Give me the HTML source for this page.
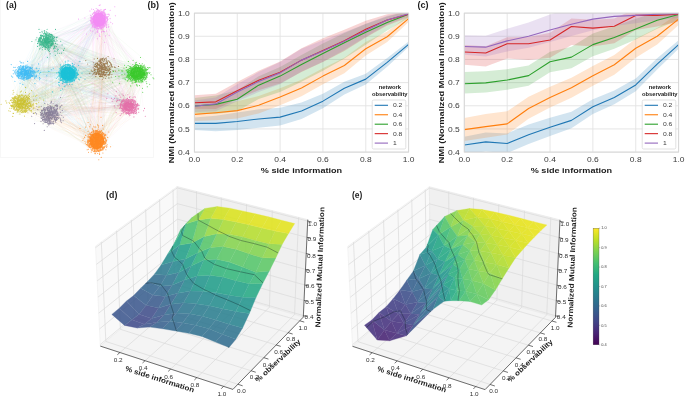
<!DOCTYPE html><html><head><meta charset="utf-8"><style>html,body{margin:0;padding:0;background:#fff}svg{display:block;will-change:transform}text{font-family:"Liberation Sans",sans-serif}</style></head><body>
<svg width="685" height="397" viewBox="0 0 685 397">
<rect width="685" height="397" fill="#fff"/>
<rect x="0.5" y="-1" width="153" height="158.5" fill="none" stroke="#f5f5f5" stroke-width="0.8"/>
<path d="M99.2 26.5L52.0 38.3M102.6 10.2L53.5 40.1M103.0 18.6L45.8 43.4M89.8 15.4L44.4 35.4M95.4 21.6L49.7 39.2M100.7 20.9L51.4 35.0M101.5 15.8L52.7 44.0M101.9 22.7L38.5 42.0M100.6 15.1L49.2 40.1M98.1 22.8L52.2 48.1M94.2 26.0L40.8 42.9M100.2 27.3L55.6 32.9M95.4 21.1L24.4 71.7M97.9 13.0L21.9 77.1M109.1 19.9L22.1 67.0M101.9 15.4L23.1 71.2M97.0 21.3L13.3 67.0M105.3 23.7L29.8 72.1M96.4 19.1L25.8 71.2M101.8 16.3L20.7 80.1M100.8 21.9L27.4 74.6M95.4 20.2L22.0 74.9M96.9 18.8L21.9 74.0M95.3 15.9L23.5 70.4M105.3 19.8L61.8 73.7M101.6 12.2L69.6 78.8M100.6 19.0L71.3 68.9M107.1 24.5L65.3 77.3M99.9 14.3L64.3 66.1M98.9 25.2L66.6 63.9M101.7 15.2L60.2 72.6M97.0 23.2L73.0 77.4M102.9 16.4L71.2 80.2M101.4 19.5L61.7 80.0M89.9 16.1L69.4 77.0M104.6 20.4L69.6 76.5M97.6 21.3L100.6 69.2M96.5 11.5L101.9 65.9M92.9 21.3L101.4 68.8M106.8 16.0L103.9 82.4M103.1 20.3L99.2 68.9M94.8 22.8L102.1 77.5M100.6 26.2L105.7 66.0M96.3 16.4L89.0 72.9M100.8 7.0L101.8 70.5M88.5 22.5L103.1 72.6M96.9 21.4L105.3 67.2M96.4 16.6L111.7 67.3M99.6 20.9L141.1 67.1M101.1 16.8L140.1 70.9M100.8 15.8L140.7 72.4M98.8 16.9L146.0 78.3M97.7 24.4L138.2 66.0M92.9 20.2L137.2 65.1M95.7 17.1L136.6 66.2M91.7 17.8L143.0 64.8M96.8 15.8L140.2 71.6M98.1 22.5L126.7 73.3M98.1 6.8L141.7 81.5M103.5 26.5L138.9 73.1M93.0 24.7L18.6 93.3M104.0 15.8L23.0 100.7M93.0 25.5L25.2 102.1M100.7 21.1L16.7 107.4M98.5 22.0L20.8 107.7M92.4 22.7L28.3 109.1M94.5 25.3L22.1 103.6M101.4 21.3L24.3 109.1M96.4 24.8L27.3 109.1M100.6 26.4L18.9 100.6M101.7 11.4L16.1 104.5M98.1 14.4L22.4 112.2M97.8 14.6L53.5 109.2M106.5 15.6L54.6 106.0M86.4 21.6L61.1 112.0M106.9 13.3L52.5 116.7M107.3 19.9L48.9 122.5M103.3 12.5L41.8 120.6M92.9 27.9L44.6 114.4M98.0 22.3L52.1 112.7M95.9 19.5L51.5 126.3M90.6 13.5L49.1 127.2M87.9 24.8L50.6 108.5M95.3 13.9L53.9 109.5M96.9 15.0L130.2 98.5M107.2 18.0L123.3 112.4M95.7 18.0L136.8 108.2M103.2 17.7L129.5 116.8M93.7 23.0L124.5 104.4M96.2 25.5L125.4 104.1M98.3 12.4L131.3 109.4M93.9 26.9L129.9 104.1M99.4 18.9L128.1 104.3M96.1 15.9L132.7 108.1M99.6 20.8L127.4 105.4M96.3 26.4L130.1 106.7M94.7 26.6L90.8 136.6M94.0 10.1L90.4 134.5M110.9 15.3L90.1 148.4M104.4 18.0L92.5 140.8M109.4 28.9L101.8 140.2M92.6 16.0L94.9 144.4M98.4 25.6L91.9 124.4M103.2 22.2L99.2 137.9M99.7 24.5L100.2 144.0M108.4 19.9L98.2 147.3M93.2 25.3L95.5 130.7M94.6 25.1L89.0 142.6" stroke="#f38af4" stroke-opacity="0.085" stroke-width="0.4" fill="none"/>
<path d="M97.6 16.9L49.1 40.3M102.3 18.9L44.8 42.5M94.8 11.9L48.3 37.7M91.8 19.8L50.5 39.5M101.6 24.9L45.6 37.0M95.8 15.3L38.7 41.0M102.0 21.6L50.8 34.8M97.8 23.6L44.5 40.4M101.4 16.9L51.4 43.1M91.4 24.1L48.6 40.1M105.2 11.4L45.1 34.9M96.2 23.2L53.6 42.3M46.9 40.3L30.5 70.0M56.2 37.8L25.9 73.6M39.8 40.6L18.1 73.4M49.2 41.8L31.9 69.0M56.2 34.9L37.6 78.5M44.4 41.2L17.4 74.3M52.5 36.2L29.2 66.5M36.7 35.8L24.9 74.9M43.7 37.1L29.0 76.2M40.1 44.3L25.0 70.7M49.8 35.2L22.5 76.4M52.4 44.4L23.6 76.0M43.2 45.9L66.7 76.8M38.0 49.7L67.3 75.0M47.4 38.8L70.7 74.7M48.5 42.2L57.3 59.9M45.8 35.5L63.4 74.5M47.1 36.3L66.1 76.4M38.0 26.6L80.2 78.0M34.0 39.1L72.6 74.4M40.4 41.7L75.6 73.4M53.6 47.0L65.7 67.8M40.0 41.3L68.1 74.2M47.5 37.6L70.1 73.1M45.8 40.1L104.1 67.7M45.0 43.3L104.9 70.6M41.9 41.5L101.2 65.1M49.8 42.8L112.8 72.9M40.4 40.5L102.1 66.6M43.8 36.2L101.6 69.0M42.1 38.7L99.7 68.7M42.4 37.9L103.6 70.2M47.8 42.2L104.5 62.6M32.5 39.5L104.8 74.3M50.7 34.6L107.2 70.8M45.9 39.4L104.2 65.7M44.3 42.7L137.7 72.8M39.7 38.5L138.5 69.1M44.8 32.3L136.5 69.4M55.2 42.8L140.2 77.4M40.9 29.1L135.4 77.2M45.2 42.2L127.5 77.0M41.8 35.6L136.3 68.0M41.7 30.0L136.1 74.9M48.1 42.5L140.1 69.8M45.1 35.0L141.1 67.8M36.3 43.6L149.5 82.4M46.6 35.8L141.9 76.4M48.8 43.8L24.1 103.1M46.3 40.3L29.2 110.8M42.7 39.8L20.2 101.3M44.7 42.3L24.9 107.9M39.7 40.0L15.9 114.4M42.2 39.7L16.5 103.0M53.7 38.3L19.9 99.2M38.1 41.6L21.4 108.6M51.4 41.2L27.1 108.9M45.8 41.1L14.7 107.2M49.9 43.0L20.3 101.5M50.0 34.1L19.0 102.1M49.9 45.8L45.6 99.3M46.0 41.7L40.6 111.6M46.5 33.4L60.8 110.1M51.2 40.8L43.6 109.6M53.9 45.9L56.9 121.2M41.6 33.7L44.1 114.9M45.2 39.9L56.3 113.4M47.3 38.5L44.5 113.5M49.3 38.5L52.0 112.6M38.0 38.2L43.8 113.2M51.7 38.7L41.4 119.3M54.1 36.1L50.7 113.7M42.4 43.8L126.6 107.6M48.3 40.5L132.6 104.3M42.5 35.6L130.2 108.1M50.3 44.8L130.8 101.4M50.0 37.2L134.5 114.1M49.6 42.0L129.9 107.9M47.5 32.7L122.5 103.6M44.4 38.4L129.7 104.2M46.7 41.1L137.8 106.3M42.8 40.5L126.0 104.7M50.4 37.9L129.7 117.7M41.3 36.9L131.1 110.0M41.1 34.4L96.3 130.5M44.4 40.1L91.4 136.4M47.2 41.1L105.1 138.4M49.5 41.5L96.9 140.9M46.2 34.0L94.7 145.0M44.4 38.6L104.5 144.7M48.4 35.5L106.8 130.6M52.7 45.1L87.7 137.5M46.8 39.3L94.7 144.6M45.0 42.1L105.5 138.5M50.9 41.3L99.8 146.1M52.7 42.0L93.0 142.9" stroke="#1fae7d" stroke-opacity="0.085" stroke-width="0.4" fill="none"/>
<path d="M95.5 21.6L26.1 72.1M98.1 12.3L31.5 74.5M105.4 32.7L20.2 70.0M99.9 25.2L24.6 76.0M102.8 16.6L27.5 74.6M95.6 15.9L21.9 68.2M89.8 19.2L25.7 76.6M102.6 28.9L35.7 69.4M100.0 20.5L16.6 71.9M102.9 21.2L26.2 72.9M99.1 22.6L17.5 75.9M100.4 16.7L18.9 69.3M48.9 40.1L25.8 71.5M49.3 42.5L26.8 76.3M41.2 36.5L24.2 77.9M37.1 38.8L23.1 77.2M50.3 42.1L37.3 72.9M46.1 42.0L26.5 68.5M48.2 37.1L24.8 70.1M40.0 31.5L20.0 71.8M49.9 36.6L25.0 71.8M52.9 43.8L29.1 77.1M43.1 40.7L26.7 78.0M48.9 39.9L31.7 74.4M23.6 72.0L73.6 67.6M27.2 72.3L66.9 74.1M16.7 70.7L75.8 73.5M17.6 75.2L65.7 76.5M16.3 76.0L66.9 74.8M20.0 70.8L59.9 70.6M21.1 72.2L69.4 72.6M29.5 68.4L59.1 68.3M16.2 71.4L77.1 68.9M22.4 72.9L69.3 79.4M27.2 68.7L63.6 75.5M23.7 71.0L68.3 78.9M19.3 73.3L98.2 67.1M19.1 74.2L104.4 65.7M18.6 71.6L100.9 71.5M18.3 76.2L93.9 69.2M16.0 77.2L103.7 63.1M30.2 79.6L97.8 68.8M27.4 66.5L104.6 68.3M27.2 72.7L100.6 60.2M22.2 78.5L106.2 63.1M30.6 74.4L101.6 59.5M29.9 72.7L98.9 53.4M31.4 72.2L96.8 79.2M27.4 73.6L146.3 78.5M23.9 67.5L136.4 71.4M31.6 65.3L132.9 73.2M25.8 73.9L130.0 73.3M23.0 76.1L139.6 68.2M26.7 77.6L138.7 79.1M30.0 72.0L134.3 73.1M21.0 73.8L140.2 73.7M31.4 73.8L127.5 73.8M23.7 76.0L135.9 74.3M22.4 71.7L134.7 72.8M33.4 76.5L145.3 79.7M27.8 66.7L9.3 97.3M16.7 63.8L22.0 109.2M23.8 74.6L27.4 104.3M27.5 79.8L22.3 109.5M27.0 74.3L29.4 109.4M39.4 74.9L24.5 104.5M22.9 73.4L21.3 95.6M25.0 73.7L25.8 99.8M21.2 72.0L24.0 102.7M20.3 73.1L19.8 100.8M22.8 76.2L13.4 104.6M33.8 71.0L12.2 98.1M26.2 74.7L55.1 113.6M20.7 73.1L46.2 115.0M33.6 61.8L44.5 101.6M20.2 79.4L51.5 113.9M25.8 73.5L45.8 121.4M25.0 71.0L50.0 112.3M28.4 72.7L63.5 108.1M17.1 76.9L45.2 114.1M23.5 73.6L45.0 114.5M29.3 68.8L49.6 114.0M16.6 76.3L53.5 117.0M25.9 73.1L44.1 122.6M26.3 74.5L129.3 103.0M29.0 75.4L136.0 103.7M30.5 73.2L130.1 105.4M22.7 73.2L126.5 105.6M26.6 65.6L141.2 107.4M23.1 73.8L135.9 105.6M37.3 73.7L128.9 108.3M23.9 74.2L131.6 109.6M23.8 76.9L119.8 108.6M26.9 79.0L136.9 103.0M24.9 73.7L131.3 109.0M31.2 70.4L128.2 104.5M29.2 70.4L104.1 140.3M23.2 78.1L91.7 136.1M26.7 75.1L100.1 143.6M29.6 71.2L98.0 143.4M22.1 74.4L99.3 141.4M23.2 71.6L92.4 136.1M21.0 73.6L89.8 145.6M21.4 77.7L113.5 146.2M22.8 74.2L96.4 144.8M31.9 68.7L93.5 149.5M18.0 67.4L99.2 148.4M17.7 81.2L100.1 139.1" stroke="#2cb5f5" stroke-opacity="0.085" stroke-width="0.4" fill="none"/>
<path d="M91.5 28.7L59.9 76.2M101.2 20.9L73.0 74.5M102.8 17.0L62.2 75.6M96.8 19.0L68.5 61.8M91.7 14.8L72.4 82.3M99.7 21.9L65.7 75.3M98.0 17.8L73.2 82.6M104.0 17.6L71.9 84.1M100.8 16.7L76.2 67.3M100.7 13.6L71.2 71.5M99.8 19.8L70.5 72.6M93.9 16.0L76.1 75.4M39.7 40.5L63.0 68.8M51.5 40.0L70.8 66.8M40.3 32.7L62.7 77.5M43.7 39.1L64.8 75.6M46.8 40.2L80.0 72.4M49.1 39.8L70.1 74.0M46.2 33.1L61.2 80.7M49.9 39.9L80.7 68.4M51.2 38.2L61.7 80.9M41.2 39.5L71.1 76.3M46.4 39.6L71.1 74.4M37.0 42.6L66.6 78.5M22.2 74.8L61.2 65.2M19.1 83.3L62.4 71.1M27.3 70.4L77.3 74.2M24.9 73.3L68.4 68.7M21.7 64.6L60.9 80.6M22.2 71.4L67.3 70.1M33.3 73.0L68.5 70.0M27.4 67.9L74.5 73.2M17.3 74.2L74.5 78.6M35.4 71.8L74.5 71.6M19.4 75.6L64.7 73.7M40.4 67.7L69.2 72.4M70.0 80.4L97.2 65.0M64.1 77.4L99.0 61.4M68.9 76.1L103.7 58.8M73.7 71.2L94.5 74.5M73.9 79.5L106.6 59.7M68.9 66.4L97.8 62.1M62.8 70.8L110.8 72.3M64.8 84.0L103.4 69.2M66.7 75.6L104.2 72.8M66.8 75.4L98.9 69.9M71.1 67.7L107.5 66.1M81.1 77.0L105.9 65.6M74.6 75.3L132.1 78.4M59.3 75.6L128.8 74.2M74.4 68.1L146.7 81.5M69.0 60.9L141.0 72.1M70.8 72.0L144.4 77.4M66.7 82.8L139.1 74.4M55.4 64.4L141.8 71.1M68.5 71.0L146.4 73.1M62.0 69.6L133.6 74.0M77.0 77.4L142.0 71.5M58.2 87.6L130.2 73.6M60.3 63.6L138.2 74.9M66.8 72.3L18.4 110.3M65.9 75.3L20.8 110.5M65.6 77.9L23.0 106.7M63.1 68.4L30.8 105.2M72.5 71.8L30.2 104.7M76.1 85.8L14.4 105.0M55.2 77.1L20.8 103.3M72.5 71.1L23.1 102.2M72.0 76.1L17.2 105.3M74.3 71.6L26.6 101.6M64.6 70.7L19.2 105.3M59.7 70.9L21.3 99.0M73.9 79.3L45.5 113.3M78.1 73.4L51.0 115.2M72.1 78.0L40.4 117.6M73.3 73.9L48.5 113.8M67.0 77.8L56.8 110.6M65.1 81.5L49.0 114.8M68.4 83.5L62.5 115.2M73.0 70.6L36.8 108.6M68.4 56.8L53.0 120.7M70.1 73.1L50.9 120.3M68.9 83.9L50.3 115.2M77.3 83.6L48.1 110.6M73.9 67.8L129.6 111.8M67.6 71.4L128.4 112.9M67.9 79.0L132.6 104.7M87.8 73.0L133.0 101.5M62.5 80.2L128.7 102.8M66.8 78.0L123.3 111.3M64.9 77.3L129.0 106.4M74.6 73.7L130.6 107.4M68.6 77.6L137.4 107.1M66.4 74.5L130.9 104.9M73.0 74.4L131.7 110.7M60.0 69.8L123.9 112.5M67.2 69.9L102.1 131.7M60.3 74.2L88.1 145.5M67.0 78.7L95.2 134.4M70.6 61.2L103.5 131.4M62.2 68.3L96.3 138.1M70.0 73.9L91.5 152.4M71.1 78.5L104.7 136.1M81.0 82.7L97.0 146.1M72.9 74.2L90.5 146.1M69.7 74.7L102.8 141.1M77.0 79.6L94.7 141.0M65.0 74.8L98.6 139.0" stroke="#17c0d7" stroke-opacity="0.085" stroke-width="0.4" fill="none"/>
<path d="M95.8 21.0L95.1 74.5M99.7 13.8L105.0 85.9M90.3 13.7L105.3 67.6M95.3 15.0L102.8 67.6M111.7 26.1L89.1 67.1M103.5 24.1L103.9 67.6M105.1 20.6L102.6 63.8M101.7 18.5L108.2 70.0M106.7 29.0L110.1 62.0M98.4 20.7L95.5 70.0M100.5 19.5L106.8 70.3M103.8 21.6L100.2 64.1M44.5 32.9L112.2 59.9M50.0 45.9L104.5 82.3M47.8 46.7L99.4 64.2M47.5 39.1L104.1 66.9M44.6 47.7L106.5 72.5M44.9 39.7L107.8 69.3M41.2 39.7L106.5 67.9M50.3 39.9L96.4 74.9M45.1 41.6L108.2 68.1M49.7 51.1L110.1 74.5M44.1 43.0L105.1 65.5M49.0 32.4L101.6 59.4M30.6 64.5L103.9 69.7M30.5 67.3L105.9 66.3M16.3 71.5L100.4 75.3M23.4 73.7L99.1 57.7M28.8 69.4L98.9 61.3M29.2 80.2L90.6 68.1M27.8 69.9L104.6 64.3M32.7 76.4L106.9 64.0M24.2 72.7L101.5 62.6M21.0 72.1L106.9 65.5M17.9 66.5L101.8 69.1M25.7 71.2L101.3 60.7M75.4 70.3L101.0 61.2M64.8 83.0L104.0 65.1M69.7 72.7L107.3 61.1M65.3 75.7L102.2 73.3M59.0 74.7L98.2 70.2M63.3 72.6L106.4 74.5M69.2 61.5L97.9 68.6M62.1 68.3L99.6 64.6M60.7 74.8L104.2 75.8M70.1 70.4L100.8 67.6M78.2 81.3L100.9 64.6M67.3 77.9L106.1 63.6M98.2 74.4L136.1 68.6M108.6 62.7L137.2 83.2M109.6 72.0L143.2 82.4M105.9 57.9L148.2 71.1M103.7 59.8L134.8 79.9M111.4 68.1L139.6 77.7M95.6 76.2L135.6 72.8M95.5 77.0L133.7 71.2M97.9 69.5L133.9 79.7M103.7 68.7L133.1 72.5M105.4 74.4L142.4 77.2M107.3 56.3L137.5 77.3M95.4 69.5L25.1 104.5M101.4 71.1L19.4 107.0M104.8 69.9L27.6 105.7M95.9 71.2L18.8 105.2M104.4 66.3L13.5 107.0M108.5 65.8L14.2 110.0M115.1 66.2L19.4 104.7M101.9 63.8L15.2 98.9M104.7 67.1L13.1 101.8M100.6 68.7L24.8 99.2M95.8 64.2L23.0 109.3M98.1 65.4L22.0 104.0M108.0 74.8L51.2 122.7M100.5 68.1L51.9 113.6M106.2 66.6L48.2 123.4M104.7 71.8L61.5 113.7M97.6 72.8L50.3 121.3M96.5 71.5L50.2 105.9M100.2 77.9L48.5 111.4M108.3 73.9L41.3 111.0M108.7 77.9L52.8 119.3M104.2 68.6L42.4 116.4M106.3 64.5L51.5 119.1M98.0 80.3L45.8 111.2M98.2 65.2L121.0 102.7M98.6 68.3L128.1 101.1M104.2 66.9L129.0 108.4M102.4 56.7L117.6 104.9M101.2 69.7L134.5 108.5M95.7 69.6L127.5 103.5M105.1 64.3L121.5 114.8M100.7 66.5L127.1 101.6M95.0 65.0L129.9 110.3M90.7 70.7L125.8 104.0M99.4 64.5L131.4 107.7M106.9 76.5L133.5 109.3M104.4 74.8L92.6 147.1M111.9 73.9L97.4 142.2M102.2 62.0L101.0 144.1M96.7 56.9L106.9 144.7M104.1 71.7L104.5 141.4M101.0 67.7L95.8 143.0M100.5 72.7L87.9 142.2M102.3 63.4L81.0 143.0M103.7 64.4L96.5 140.8M109.9 63.0L100.8 150.7M103.0 66.8L102.9 145.2M104.4 64.3L101.7 143.0" stroke="#8f6535" stroke-opacity="0.085" stroke-width="0.4" fill="none"/>
<path d="M96.1 19.1L146.8 61.6M100.7 27.6L139.6 75.6M95.1 19.4L136.3 77.2M105.1 22.7L137.0 71.3M98.8 12.4L138.6 67.4M102.6 30.6L129.1 82.5M105.2 22.1L133.3 72.0M96.9 20.3L143.6 80.1M97.5 25.1L147.3 74.7M93.9 31.8L141.7 74.1M95.5 23.1L141.8 65.7M102.8 11.7L138.1 78.7M46.8 47.2L131.2 77.8M47.4 43.6L130.7 73.0M52.5 36.8L147.4 70.7M50.6 46.5L147.6 71.7M48.2 41.0L135.6 70.2M39.9 39.8L134.0 71.6M57.5 38.7L133.8 70.6M39.7 40.5L130.6 73.2M50.4 38.6L139.6 76.9M42.5 35.8L142.4 72.5M43.9 40.8L140.5 77.8M40.5 38.9L139.1 73.3M28.7 77.0L135.6 70.8M27.7 72.2L126.3 73.2M17.2 70.2L137.6 66.5M29.9 71.6L139.8 76.4M27.0 75.6L142.0 70.0M31.2 72.2L141.2 71.8M24.0 73.9L140.1 67.5M38.2 76.7L137.1 77.0M24.7 80.6L127.0 81.1M30.4 72.8L143.7 73.0M31.7 68.1L128.1 73.4M20.8 73.0L122.4 70.4M67.0 77.8L134.4 75.2M54.4 73.4L141.8 75.8M61.6 69.6L134.3 73.3M62.5 78.6L135.6 79.1M65.3 65.3L134.4 76.5M70.1 69.1L136.9 70.0M67.3 66.0L134.2 77.3M66.1 79.6L127.5 76.2M68.5 75.2L138.8 80.4M62.1 76.7L137.8 77.7M73.3 66.5L134.4 63.2M66.3 80.2L145.6 73.4M103.6 63.0L141.5 78.1M102.3 74.6L147.0 66.7M105.7 68.6L141.6 72.0M106.1 69.8L138.6 74.3M98.1 62.8L150.5 79.9M106.2 67.7L129.4 70.0M104.8 68.2L141.0 70.5M99.2 65.2L138.0 77.4M96.9 68.5L142.0 66.7M108.2 69.2L135.4 72.5M111.0 60.1L129.4 62.0M96.0 64.5L136.2 77.2M137.2 74.1L18.6 105.7M141.6 75.8L20.3 97.3M134.9 69.8L17.6 97.2M144.3 73.0L20.0 99.6M141.7 77.5L18.1 102.5M141.7 73.0L32.7 99.0M139.2 77.7L14.1 104.9M124.7 66.4L14.4 108.8M139.6 69.4L29.2 103.1M142.0 69.8L17.5 114.7M140.7 78.2L17.7 108.7M129.0 74.5L19.4 102.4M139.3 70.0L51.2 123.8M134.6 79.3L43.8 116.2M140.4 79.9L50.7 100.5M133.2 68.6L55.9 117.2M138.7 67.2L47.5 109.3M132.0 77.1L60.1 117.9M146.1 73.4L44.9 114.6M138.6 77.6L47.2 110.4M137.8 81.7L44.7 121.0M135.8 75.5L46.7 107.9M139.8 64.8L47.9 120.7M141.7 66.2L46.9 116.5M140.2 77.6L121.3 105.0M140.5 64.6L125.1 104.2M135.9 64.1L121.9 104.6M133.0 74.2L132.3 107.0M130.6 79.3L117.8 107.1M144.7 70.5L138.8 113.4M143.6 75.4L133.1 111.0M139.9 72.8L127.8 114.3M135.1 71.4L127.5 106.0M134.5 77.1L131.7 103.9M122.7 72.4L133.9 105.9M138.0 70.6L128.9 105.9M135.8 69.0L85.3 144.7M141.0 71.5L99.4 134.1M144.0 75.7L101.1 150.8M138.9 66.0L103.7 142.3M133.5 69.3L95.3 144.0M136.4 79.1L95.0 149.3M131.0 72.6L96.9 139.6M132.0 74.9L98.0 147.2M143.1 68.5L95.3 142.9M140.5 68.3L92.2 143.8M122.5 79.4L103.0 149.7M143.2 72.8L95.7 139.8" stroke="#35c826" stroke-opacity="0.085" stroke-width="0.4" fill="none"/>
<path d="M98.5 14.6L22.8 97.8M97.5 25.7L22.2 101.7M100.2 14.3L15.2 99.6M102.8 20.5L27.0 102.3M93.0 26.9L16.5 102.9M103.0 11.7L16.5 101.4M101.3 14.7L15.8 99.3M92.5 16.7L21.8 97.0M99.2 18.5L27.2 101.8M99.0 22.7L23.8 104.5M94.5 12.8L14.1 99.1M98.3 26.1L22.7 98.1M40.4 43.1L29.0 113.5M48.0 43.5L16.5 106.6M36.9 36.9L22.8 103.3M42.8 40.5L19.0 99.2M46.0 39.5L18.6 113.0M46.3 45.1L12.8 103.5M34.6 40.0L27.7 101.3M50.5 39.3L23.2 94.6M45.1 39.8L15.9 93.3M46.9 42.4L16.5 94.8M45.2 39.8L18.0 93.6M47.6 33.6L27.8 106.9M25.8 77.0L36.0 111.0M16.2 70.7L18.6 104.1M28.7 80.3L15.5 98.8M23.2 76.2L17.8 107.4M21.8 76.2L11.7 109.1M29.4 71.2L25.5 102.9M36.0 73.5L12.0 109.7M9.7 72.6L23.1 109.3M23.8 73.9L16.0 112.2M28.0 76.8L30.1 107.2M27.9 75.1L15.1 96.8M25.1 77.4L21.6 110.2M69.3 72.0L19.7 106.4M74.2 66.4L20.1 107.3M67.7 75.3L24.0 96.3M70.0 74.6L18.0 100.0M68.5 72.6L20.6 103.9M71.8 69.1L17.4 101.4M68.5 75.0L34.4 104.7M67.3 69.1L16.3 106.0M54.6 78.6L20.9 105.1M71.0 71.7L22.9 111.1M82.7 70.8L9.4 100.5M64.5 64.2L22.2 100.1M103.8 74.1L22.3 103.6M103.5 73.5L16.5 104.1M107.6 77.7L25.9 98.4M102.2 74.4L27.9 98.1M102.3 70.0L35.3 110.4M101.5 68.0L18.8 104.2M104.4 61.8L10.8 100.8M101.0 67.1L11.5 100.9M102.8 71.5L11.5 107.0M98.8 67.1L25.0 100.8M100.3 66.0L19.7 102.8M102.9 62.6L17.6 99.9M126.5 63.4L11.6 104.0M142.2 72.0L20.9 103.3M139.0 72.5L26.8 94.6M132.9 65.9L26.1 102.6M135.6 78.5L21.7 104.5M144.8 80.4L14.4 108.0M132.0 71.7L29.2 103.0M133.6 65.6L27.4 105.0M126.3 67.7L16.2 102.9M138.1 70.8L21.2 97.4M135.9 74.8L16.7 99.7M131.1 67.6L17.4 106.0M23.9 103.9L50.7 120.1M25.3 107.3L50.6 110.9M19.0 93.0L49.6 119.9M15.8 102.2L52.9 118.3M16.2 98.4L53.4 114.0M23.1 105.8L52.0 117.4M18.9 107.3L56.0 119.2M25.0 112.1L57.6 106.0M20.1 102.1L43.4 110.0M20.2 105.3L49.4 109.3M18.2 104.6L40.7 110.1M14.2 100.9L50.9 105.8M30.0 110.4L126.8 106.2M24.8 106.0L130.0 107.7M27.7 104.9L128.0 110.0M19.8 101.5L131.2 115.5M16.7 100.1L130.4 103.0M16.7 102.2L133.1 112.5M26.6 98.9L133.3 101.0M25.4 106.3L126.4 113.9M20.6 110.4L124.4 107.1M23.6 110.7L132.4 108.1M16.9 108.2L124.8 101.0M26.8 103.3L131.0 106.2M24.7 100.5L100.2 139.8M22.0 103.3L88.7 130.2M23.9 99.7L89.5 148.6M23.1 102.3L98.6 141.3M14.6 112.9L103.6 144.4M22.9 103.0L99.4 136.8M13.8 102.0L97.1 137.7M17.8 110.9L89.9 144.4M16.5 103.9L97.4 141.3M24.1 108.8L94.3 147.4M15.7 99.0L94.0 149.4M22.8 106.8L90.6 141.3" stroke="#c8bd1e" stroke-opacity="0.085" stroke-width="0.4" fill="none"/>
<path d="M105.3 22.5L39.6 118.9M100.2 11.1L52.1 106.1M103.0 20.2L48.1 118.1M92.2 27.8L59.4 110.2M100.1 21.2L57.3 121.4M94.6 20.4L44.3 114.1M98.1 25.8L42.6 114.8M100.2 17.7L52.0 114.5M96.6 21.2L57.0 104.6M100.9 25.8L48.6 102.7M104.4 11.8L55.4 122.3M103.1 13.5L53.7 115.5M47.9 46.0L55.5 112.3M43.6 47.2L46.4 122.8M49.3 47.7L47.0 108.8M44.7 44.6L48.3 118.3M39.3 45.7L51.3 114.4M41.2 37.0L46.6 118.3M49.2 36.0L51.3 115.6M44.4 44.9L54.2 109.0M39.9 44.8L52.0 108.9M49.3 46.7L47.9 121.9M49.2 50.5L56.9 118.9M54.4 42.9L34.4 121.9M26.6 71.4L47.0 118.7M22.2 77.0L50.5 115.8M24.8 74.4L53.2 116.6M18.8 74.3L47.4 112.9M19.4 68.4L51.4 115.8M16.0 75.4L44.7 114.0M20.7 72.9L56.6 113.8M29.2 70.0L47.5 117.5M18.8 66.6L58.5 117.3M17.1 74.6L46.1 114.0M19.7 70.5L55.8 113.6M14.1 73.4L49.3 106.9M68.5 77.8L41.5 114.8M61.9 78.8L51.2 116.0M65.1 74.7L46.3 110.9M68.7 73.9L38.1 110.9M78.6 74.5L52.5 112.6M74.5 83.0L42.6 114.4M70.4 78.6L55.9 113.8M69.7 78.2L38.9 106.5M52.8 78.2L49.3 122.7M69.7 74.6L43.1 118.1M65.4 78.2L49.4 112.2M74.8 70.1L64.6 115.1M101.3 66.1L43.0 115.9M97.2 67.4L49.2 115.0M108.2 67.2L44.9 112.6M103.6 65.9L50.0 113.0M100.5 69.1L52.9 105.7M99.4 62.6L47.3 122.7M110.8 72.5L56.6 124.7M105.3 68.9L53.4 112.8M105.7 72.6L51.0 112.7M103.4 69.1L47.2 117.6M106.9 63.5L44.9 115.3M106.3 65.6L38.2 114.3M138.2 83.5L51.9 121.7M135.7 63.4L42.9 120.7M139.0 70.5L47.2 112.7M133.8 71.3L54.6 116.9M126.5 77.8L48.0 112.9M142.9 67.1L50.5 116.1M135.1 80.6L53.0 116.7M126.7 79.3L52.2 118.2M132.7 71.1L43.5 115.4M140.8 79.7L53.3 114.6M140.1 69.0L53.9 114.2M139.2 76.1L49.5 113.9M25.3 103.9L51.0 115.6M26.0 108.4L44.5 117.1M17.0 100.3L54.9 109.7M18.1 102.3L50.3 113.2M37.5 106.9L46.1 115.1M20.3 107.1L60.7 112.9M28.1 103.6L48.7 118.4M25.6 100.5L39.3 117.1M19.9 96.3L49.2 115.6M15.1 104.4L54.6 115.8M18.9 103.4L48.1 113.7M14.1 102.0L57.1 118.4M53.3 111.6L127.7 109.8M35.7 121.6L135.4 102.1M47.4 114.1L127.0 104.9M49.3 112.6L129.0 107.7M45.4 107.9L133.3 100.2M52.1 115.8L132.6 106.5M50.0 109.5L124.0 105.2M49.1 123.3L131.0 102.3M43.3 118.5L127.2 103.7M47.7 121.6L136.4 102.4M42.4 118.4L123.3 99.0M49.2 113.7L123.7 109.0M42.2 113.5L91.6 148.6M52.0 115.1L108.2 140.9M51.9 108.5L93.5 146.0M51.0 111.7L93.5 137.3M52.4 116.4L108.6 140.3M56.5 118.2L94.7 140.1M55.1 116.1L98.6 143.9M48.7 116.5L98.9 156.2M51.6 107.8L102.0 146.2M54.0 115.0L101.0 133.1M48.5 126.7L91.6 139.0M44.9 125.1L95.5 146.5" stroke="#7b708f" stroke-opacity="0.085" stroke-width="0.4" fill="none"/>
<path d="M97.7 17.6L132.4 101.2M107.0 18.6L124.5 106.6M99.7 21.4L128.7 110.1M101.0 18.7L139.2 106.5M100.6 19.0L125.2 104.2M108.8 16.8L136.4 112.1M103.6 20.0L135.0 112.4M97.5 29.2L133.9 98.9M92.0 24.0L124.3 104.9M95.8 14.8L126.7 110.6M100.0 10.2L137.1 103.2M96.2 11.6L129.9 111.6M49.4 41.4L124.3 112.5M55.1 41.5L130.9 108.0M52.6 42.5L123.6 108.8M51.8 37.5L132.0 99.9M51.8 35.6L124.4 102.9M49.2 43.3L137.5 106.3M41.2 41.5L134.3 104.7M48.5 41.8L130.8 109.8M50.1 40.7L126.7 104.6M52.0 39.9L134.7 107.6M50.2 44.8L130.2 110.1M44.6 39.7L127.2 105.7M26.9 76.8L130.1 113.8M21.8 74.5L131.6 112.9M22.6 70.8L133.6 104.5M13.1 74.0L127.6 107.4M25.7 65.9L132.5 108.6M20.4 78.0L131.0 106.3M23.2 73.9L130.5 104.3M29.3 74.0L132.3 105.4M41.7 65.9L137.1 99.5M18.1 67.3L132.9 105.1M25.4 66.6L136.5 95.0M22.8 72.6L127.8 102.0M71.1 71.7L142.1 110.3M64.7 74.7L125.6 112.5M72.5 79.4L124.0 110.2M71.3 71.5L133.6 106.9M69.2 69.5L131.8 106.9M58.1 82.8L130.7 106.0M74.3 72.2L128.6 109.0M72.8 82.3L125.1 106.6M70.0 80.4L123.5 103.9M78.2 70.8L128.7 111.8M68.7 77.9L125.1 107.4M66.3 76.0L125.0 106.2M102.1 67.3L123.4 103.4M106.0 64.1L130.7 102.4M104.9 68.3L129.5 100.9M101.6 74.9L132.0 110.9M104.5 68.1L124.2 102.6M104.6 64.8L134.0 114.4M105.1 61.9L134.2 99.4M114.7 65.7L130.8 106.6M101.2 69.5L127.2 108.9M88.8 62.5L132.0 116.2M100.0 66.9L127.0 109.1M103.7 72.4L124.1 115.6M136.3 74.1L133.9 100.8M135.9 70.2L126.3 105.0M140.5 78.3L143.1 106.9M131.4 72.8L128.7 100.5M136.0 80.2L131.9 102.8M137.0 77.2L129.8 102.6M145.6 78.5L128.5 106.8M140.4 82.8L125.2 106.3M135.1 82.3L132.3 103.3M142.9 66.3L126.6 113.8M133.1 69.0L118.7 100.9M139.2 65.2L127.5 105.1M14.3 109.6L132.6 109.0M27.9 99.8L123.8 106.5M21.7 94.2L124.0 97.7M17.6 103.8L127.1 94.6M13.6 106.7L128.7 102.7M13.5 109.5L129.3 108.1M18.4 99.5L137.4 113.5M29.1 108.2L128.5 105.1M30.4 108.2L137.8 108.3M18.3 96.5L136.6 104.9M18.0 103.6L130.6 108.8M17.6 105.9L131.0 114.5M55.0 112.3L125.9 110.7M55.6 116.8L131.3 96.9M48.4 101.0L128.1 103.7M58.4 111.0L137.3 105.5M54.2 116.7L126.2 103.7M47.2 117.6L123.2 110.0M40.8 121.8L133.7 101.9M39.1 107.0L134.9 107.8M47.1 112.7L137.2 102.5M59.9 120.4L121.7 114.1M53.9 117.1L128.6 107.3M49.8 113.8L126.2 105.3M126.5 105.7L97.0 146.0M129.0 109.5L102.4 137.1M130.4 107.7L88.4 139.2M136.6 111.8L96.0 151.3M117.7 107.3L93.3 141.0M130.8 105.4L94.1 131.5M126.3 108.3L97.8 145.2M126.9 106.5L98.6 148.4M120.4 104.2L88.2 148.0M137.7 110.0L97.5 140.5M134.3 103.5L95.4 145.8M122.4 100.2L91.3 141.7" stroke="#e266a4" stroke-opacity="0.085" stroke-width="0.4" fill="none"/>
<path d="M101.4 19.6L100.5 136.5M92.2 21.2L93.3 129.1M104.6 13.7L89.0 135.0M104.8 12.5L94.8 132.7M102.2 8.9L98.3 133.0M102.4 20.9L91.8 145.1M96.7 30.6L99.3 139.8M99.4 20.6L93.4 134.3M101.4 32.8L98.2 147.3M107.1 21.2L98.7 141.5M98.3 10.8L91.5 141.1M101.7 27.1L101.7 142.4M42.0 37.6L91.2 142.3M48.7 42.0L94.2 143.0M48.3 42.2L95.4 133.8M46.4 36.5L98.2 130.0M45.1 38.3L99.3 139.1M48.4 35.2L99.8 132.9M51.7 43.7L87.1 139.2M40.9 35.9L93.1 151.7M49.3 36.3L104.2 134.1M47.5 45.8L99.8 147.4M46.1 47.0L85.9 135.1M51.1 37.9L100.5 139.9M21.0 74.3L101.7 135.7M25.6 68.0L83.9 131.2M18.2 75.2L103.1 137.0M16.9 78.2L92.5 140.6M32.1 73.7L94.9 124.0M27.8 76.6L107.1 148.1M26.6 70.3L96.5 139.7M30.3 73.3L95.2 154.4M24.5 74.9L90.3 140.7M26.8 76.7L85.2 142.1M16.9 68.4L93.9 140.5M22.0 81.5L108.9 138.3M72.1 88.3L93.1 142.0M66.0 64.6L90.4 132.0M64.0 74.8L84.1 145.0M67.2 80.2L88.3 130.0M65.5 71.4L96.0 136.0M61.3 77.8L93.0 143.5M83.7 76.1L92.7 133.0M75.5 74.6L94.9 141.2M59.1 70.1L103.9 142.9M57.8 75.4L80.6 128.9M68.9 79.4L93.0 136.0M72.5 68.7L96.8 137.2M105.0 66.9L93.3 135.7M99.4 58.7L87.3 137.4M103.8 59.0L95.7 140.8M101.1 75.8L102.7 143.7M101.8 70.7L81.9 141.5M103.5 68.1L96.1 143.7M105.3 61.4L94.5 148.9M103.5 70.8L107.7 141.0M106.8 70.6L92.8 138.1M106.3 69.1L104.0 143.1M110.7 66.1L95.1 138.4M98.1 53.0L87.1 149.6M142.2 85.1L100.6 150.7M139.0 72.9L91.3 148.3M136.8 66.7L91.8 145.2M146.8 79.0L94.5 141.6M145.5 69.0L100.5 141.3M135.8 68.9L100.9 132.5M126.5 66.9L99.6 144.4M133.6 80.8L95.4 149.8M143.6 66.7L94.3 144.9M131.9 74.7L101.8 141.3M142.7 65.2L104.5 143.3M146.9 74.9L95.9 133.6M30.3 95.5L93.6 137.4M22.3 111.2L104.7 138.9M25.1 102.3L95.1 146.8M19.0 100.4L101.9 138.5M21.0 104.9L89.5 141.2M22.3 96.2L96.9 137.7M26.5 100.5L101.9 145.5M21.6 107.6L88.8 134.2M19.7 100.3L89.8 138.6M13.5 107.6L91.2 142.5M17.3 106.8L97.7 142.8M23.0 100.9L98.7 135.1M45.0 112.8L96.9 145.7M51.3 128.6L92.1 146.7M42.5 114.1L101.7 139.6M48.0 118.1L97.2 152.7M45.7 115.8L91.1 144.1M52.1 120.9L94.7 138.5M45.9 114.3L102.4 140.1M45.7 115.7L107.4 141.2M53.8 114.1L98.8 140.6M48.1 100.9L96.1 145.6M45.1 112.5L94.4 132.3M43.4 114.5L99.7 140.0M135.0 101.0L86.0 139.9M139.3 107.6L87.5 146.7M129.8 105.9L100.4 148.5M130.3 110.1L95.5 132.7M133.5 100.1L87.5 142.6M128.6 103.4L99.1 146.7M136.6 109.3L100.6 145.8M135.4 116.1L91.1 140.8M132.8 102.0L98.6 145.4M132.1 107.8L94.3 133.7M128.7 111.3L90.9 145.6M125.7 100.7L103.1 135.3" stroke="#fe861d" stroke-opacity="0.085" stroke-width="0.4" fill="none"/>
<ellipse cx="99.0" cy="19.6" rx="6.72" ry="7.14" fill="#f38af4" fill-opacity="0.9"/>
<path d="M99.8 13.7h0M98.6 28.1h0M103.2 22.2h0M94.4 21.5h0M96.8 22.5h0M84.9 18.0h0M106.2 22.8h0M99.6 23.1h0M101.6 12.2h0M96.1 23.8h0M101.7 26.7h0M100.1 24.0h0M104.0 21.6h0M90.9 20.9h0M100.1 28.9h0M95.1 21.1h0M105.3 23.2h0M102.5 14.4h0M102.0 19.5h0M94.5 17.5h0M92.5 23.4h0M93.6 16.4h0M98.5 12.3h0M101.7 21.4h0M101.5 13.2h0M92.3 22.9h0M104.5 13.1h0M96.8 26.4h0M95.1 20.0h0M98.0 24.2h0M105.0 24.1h0M102.9 26.7h0M97.1 17.4h0M100.3 20.8h0M99.5 17.5h0M106.8 21.5h0M103.9 27.0h0M101.3 11.4h0M98.2 22.8h0M101.0 28.6h0M104.1 13.9h0M93.9 21.6h0M92.4 18.2h0M93.9 25.8h0M94.3 21.3h0M100.3 18.7h0M102.7 11.3h0M104.5 9.6h0M90.7 21.2h0M95.2 25.8h0M98.3 26.3h0M93.3 18.3h0M107.4 16.7h0M97.1 16.8h0M94.9 10.7h0M100.5 27.5h0M96.1 14.4h0M96.6 19.7h0M100.3 19.2h0M97.2 28.0h0M97.3 17.9h0M115.4 15.8h0M105.8 25.0h0M97.4 21.3h0M97.4 21.0h0M104.6 22.4h0M105.2 15.7h0M104.3 14.3h0M94.9 11.1h0M103.6 20.9h0M94.1 27.2h0M94.8 11.4h0M100.1 20.3h0M96.6 11.1h0M93.5 21.5h0M108.1 19.3h0M105.5 22.1h0M92.0 18.8h0M94.4 18.4h0M98.8 28.6h0M105.5 9.4h0M102.7 20.0h0M93.5 19.4h0M104.7 14.3h0M101.0 15.7h0M105.6 15.4h0M97.9 11.5h0M101.7 21.8h0M103.3 23.7h0M104.8 22.3h0M100.7 24.7h0M95.3 26.9h0M107.1 17.0h0M103.5 10.1h0M97.0 25.4h0M103.0 19.3h0M98.9 14.5h0M104.0 18.5h0M100.5 28.6h0M95.2 12.6h0M104.7 16.7h0M97.8 26.4h0M97.2 25.0h0M108.8 14.0h0M95.0 16.6h0M101.8 21.3h0M91.6 21.9h0M104.6 14.6h0M98.8 21.3h0M104.5 22.8h0M93.4 19.5h0M107.1 20.7h0M99.2 17.9h0M104.0 25.2h0M100.1 13.7h0M100.6 12.3h0M97.1 20.7h0M98.9 18.3h0M101.2 16.3h0M104.9 15.2h0M99.8 25.0h0M103.7 25.4h0M97.3 17.4h0M98.8 13.1h0M102.8 18.6h0M92.4 21.2h0M99.5 24.8h0M95.9 27.5h0M102.9 26.0h0M97.7 12.9h0M102.4 22.2h0M102.2 20.4h0M101.3 24.3h0M107.1 22.8h0M100.7 28.2h0M101.5 20.2h0M101.3 27.3h0M100.7 16.3h0M105.2 17.2h0M91.5 19.9h0M107.3 19.1h0M92.9 24.3h0M95.5 22.4h0M95.5 25.1h0M107.7 19.2h0M95.5 23.2h0M94.9 20.0h0M96.6 19.3h0M104.1 12.3h0M103.9 24.0h0M107.3 17.7h0M104.4 15.0h0M95.7 22.3h0M103.8 18.7h0M105.2 17.1h0M104.5 16.6h0M98.7 24.7h0M94.7 14.8h0M99.1 10.5h0M95.9 14.7h0M96.0 27.0h0M101.8 23.1h0M98.1 24.3h0M98.4 13.8h0M104.8 14.5h0M106.0 23.5h0M96.4 19.7h0M99.7 26.1h0M106.1 16.5h0M94.5 26.1h0M105.4 19.3h0M102.4 19.8h0M103.3 26.6h0M100.5 25.5h0M100.8 21.9h0M106.8 18.3h0M99.5 23.7h0M100.9 16.6h0M108.4 16.2h0M101.7 28.3h0M103.9 15.2h0M93.3 25.8h0M101.7 20.6h0M98.0 22.7h0M95.2 26.0h0M95.2 15.7h0M103.0 15.6h0M100.1 13.2h0M104.4 22.5h0M101.0 17.1h0M99.3 34.0h0M103.0 24.3h0M98.4 11.8h0M102.8 25.5h0M107.2 16.9h0M101.2 24.9h0M97.8 25.8h0M102.1 14.3h0M99.4 14.0h0M93.0 16.5h0M94.4 15.1h0M99.7 14.8h0M105.4 14.5h0M94.7 21.5h0M105.8 16.7h0M97.5 23.6h0M95.4 19.5h0M92.2 20.9h0M100.4 17.7h0M97.3 25.7h0M104.5 20.1h0M93.6 18.8h0M99.1 15.2h0M99.9 25.1h0M91.6 21.9h0M105.1 13.7h0M90.7 17.2h0M103.9 18.3h0M96.4 22.2h0M104.0 23.1h0M105.7 19.1h0M100.2 15.9h0M102.8 23.2h0M92.1 19.7h0M101.0 9.6h0M100.5 27.3h0M107.1 19.3h0M104.6 26.0h0M103.1 19.0h0M91.2 18.4h0M106.5 27.4h0M96.2 15.5h0M97.6 17.4h0M91.5 16.1h0M93.8 24.2h0M105.7 17.9h0M102.2 12.4h0M100.1 21.1h0M98.5 14.0h0M92.7 19.3h0M100.2 20.7h0M95.4 21.5h0M91.3 23.9h0M96.6 11.7h0M97.9 25.3h0M96.3 26.3h0M100.7 12.4h0M105.7 22.0h0M94.5 17.8h0M102.9 17.8h0M93.8 19.9h0M95.6 16.0h0M105.2 17.2h0M106.1 20.8h0M106.2 17.5h0M92.0 20.2h0M96.5 18.6h0M98.8 25.4h0M96.2 15.1h0M95.7 22.8h0M100.6 20.1h0M98.2 17.6h0M94.3 19.7h0M99.5 27.1h0M99.2 18.4h0M98.2 20.7h0M96.7 14.0h0M106.1 24.3h0M103.2 23.4h0M95.6 26.1h0M94.2 24.7h0M100.2 10.8h0M95.8 27.8h0M92.6 23.9h0M94.3 25.3h0M103.7 20.4h0M99.5 17.9h0M105.0 13.0h0M99.9 18.2h0M94.4 25.8h0M98.9 17.9h0M98.0 28.9h0M93.6 13.3h0M98.2 10.6h0M99.8 17.2h0M101.5 15.1h0M92.0 17.6h0M106.2 18.1h0M94.9 13.8h0M97.7 32.3h0M106.5 25.9h0M99.2 23.8h0M103.3 26.2h0M91.1 18.6h0M95.2 21.2h0M102.1 20.7h0M103.9 12.9h0M100.4 25.0h0M93.0 18.0h0M101.4 28.1h0M95.3 25.4h0M100.1 21.8h0M97.6 13.1h0M98.4 21.5h0M96.2 21.7h0M98.4 10.2h0M94.3 13.5h0M100.9 22.2h0M91.1 20.3h0M95.9 18.2h0M102.7 24.0h0M99.1 21.6h0M98.2 16.5h0M104.8 26.4h0M99.7 21.8h0M99.0 25.8h0M104.2 21.4h0M101.5 18.9h0M105.6 19.3h0M100.7 26.4h0M100.8 17.4h0M99.6 11.4h0M103.3 25.6h0M100.8 22.5h0M103.8 24.2h0M104.7 19.1h0M102.4 15.1h0M97.8 25.1h0M102.0 18.5h0M103.8 12.5h0M99.3 19.9h0M91.5 20.8h0M97.1 24.1h0M100.7 15.8h0M94.4 22.5h0M95.9 27.9h0M110.8 22.2h0M93.9 25.7h0M94.3 12.6h0M102.5 22.3h0M101.6 27.0h0M99.3 11.2h0M95.5 22.6h0M97.0 28.7h0M99.5 18.8h0M99.1 10.2h0M97.8 9.4h0M97.2 22.6h0M96.3 19.3h0M96.8 18.7h0M112.6 23.8h0M96.0 16.7h0M105.3 21.3h0M104.9 20.5h0M101.5 11.3h0M90.8 18.9h0M110.1 18.6h0M97.1 27.6h0M102.6 27.9h0M95.2 12.2h0M94.5 15.8h0M91.7 9.1h0M102.5 24.5h0M101.3 16.4h0M95.3 24.8h0M100.5 28.7h0M103.0 22.5h0M94.7 27.8h0M98.2 21.0h0M105.4 15.9h0M104.4 12.8h0M100.7 24.0h0M106.2 24.3h0M90.6 30.7h0M96.0 12.5h0M100.6 21.8h0M102.2 17.6h0M95.7 15.8h0M102.9 25.6h0M94.6 18.0h0M102.6 24.3h0M106.7 17.0h0M96.9 18.0h0M98.9 15.7h0M100.7 15.0h0M98.9 24.4h0M94.1 22.6h0M93.5 9.5h0M100.8 20.0h0M105.1 22.6h0M100.8 23.9h0M91.2 20.2h0M98.9 10.4h0M92.4 23.3h0M98.8 22.4h0M101.7 20.9h0M99.5 24.3h0M99.8 27.5h0M96.6 18.3h0M100.5 13.3h0M101.6 12.2h0M95.3 16.3h0M98.5 19.2h0M108.9 14.5h0M104.8 17.0h0M102.3 21.6h0M91.0 17.6h0M103.8 23.8h0M101.9 15.4h0M90.3 20.6h0M103.6 22.5h0M95.2 13.5h0M99.2 26.2h0M94.0 16.4h0M104.5 14.3h0M105.6 20.7h0M97.7 22.9h0M99.9 13.3h0M100.3 23.7h0M106.9 17.7h0M95.7 23.8h0M102.4 13.4h0M98.3 18.0h0M93.7 18.3h0M94.9 16.9h0M102.2 23.9h0M100.8 13.7h0M101.3 20.2h0M101.5 24.6h0M107.4 20.5h0M98.2 11.7h0M97.7 21.8h0M94.4 19.4h0M92.8 13.7h0M102.9 23.8h0M96.4 11.5h0M91.9 18.3h0M98.6 12.5h0M103.5 22.7h0M102.9 18.4h0M101.2 15.0h0M99.4 21.5h0M93.6 12.7h0M92.8 25.2h0M100.9 20.4h0M92.4 22.7h0M101.7 19.9h0M100.2 27.0h0M102.1 20.0h0M96.7 12.3h0M105.6 21.3h0M94.4 23.3h0M99.8 19.9h0M94.8 13.8h0M94.5 25.4h0M103.4 23.3h0M96.4 14.4h0M101.4 24.1h0M94.8 15.7h0M96.1 22.2h0M96.0 16.6h0M97.9 16.9h0M99.7 14.1h0M93.5 15.8h0M96.5 21.4h0M102.5 24.1h0M107.5 20.1h0M102.2 14.6h0M103.2 19.7h0M101.1 19.2h0M93.6 20.8h0M97.1 23.5h0M106.0 14.3h0M105.7 19.2h0M106.5 21.3h0M102.3 21.7h0M103.8 31.4h0M94.3 26.3h0M94.2 23.5h0M99.5 28.8h0M90.6 15.5h0M100.4 20.6h0M97.6 30.8h0M96.2 14.1h0M94.1 22.1h0M90.8 20.5h0M100.7 12.4h0M107.4 18.5h0M99.4 14.6h0M98.8 21.0h0M102.5 12.8h0M97.4 25.0h0M104.8 20.1h0M104.2 21.1h0M107.1 18.7h0M97.1 23.7h0M96.4 17.8h0M102.5 16.8h0M91.0 22.8h0M94.5 22.5h0M97.1 10.6h0M99.8 21.7h0M93.4 21.5h0M102.1 24.9h0M103.0 12.0h0M100.0 20.9h0M101.7 14.4h0M104.4 16.2h0M104.3 21.9h0M95.0 20.3h0M102.3 21.7h0M96.8 15.6h0M98.3 28.3h0M106.3 24.4h0M95.3 17.8h0M103.8 21.8h0M96.1 13.0h0M102.9 12.9h0M93.1 22.2h0M100.5 24.2h0M97.0 17.8h0M95.6 20.9h0M104.5 14.3h0M102.9 13.5h0M106.5 17.4h0M98.0 19.4h0M96.7 28.4h0M92.4 14.4h0M104.8 15.4h0M103.4 19.3h0M99.1 17.9h0M97.7 21.0h0M94.6 12.2h0M92.3 23.5h0M104.7 31.8h0M99.6 16.2h0M96.2 18.2h0M98.9 12.5h0M99.0 11.8h0M100.1 15.0h0M93.4 24.7h0M99.2 5.5h0M100.8 13.0h0M100.2 21.5h0M103.2 26.1h0M100.9 26.8h0M99.9 27.1h0M102.8 22.9h0M94.2 18.2h0M101.1 19.7h0M99.8 24.0h0M103.7 15.5h0M102.5 23.2h0M101.5 21.8h0M98.0 18.3h0M97.4 24.6h0M92.3 19.4h0M97.7 14.3h0M91.6 19.5h0M91.6 17.6h0M96.6 20.3h0M95.1 23.9h0M100.0 13.1h0M100.7 24.5h0M100.8 24.5h0M93.8 18.5h0M102.1 23.8h0M101.8 16.1h0M108.1 24.8h0M97.2 10.2h0M98.2 14.7h0M96.7 21.5h0M93.1 23.7h0M96.0 25.4h0M103.9 24.7h0M94.3 19.0h0M94.2 18.9h0M104.2 10.8h0M100.0 18.3h0M110.2 10.3h0M97.1 27.0h0M97.9 24.1h0M103.0 15.2h0M97.9 20.7h0M100.4 24.0h0M100.0 16.9h0M94.4 18.1h0M96.2 16.1h0M95.3 13.9h0M104.3 25.0h0M97.3 19.4h0M104.8 18.1h0M100.1 20.7h0M104.7 21.8h0M90.8 21.6h0M91.0 21.2h0M101.9 26.8h0M99.1 25.7h0M94.3 20.6h0M104.9 21.9h0M104.2 12.3h0M102.7 26.8h0M97.3 11.3h0M93.8 19.0h0M102.7 21.7h0M105.7 15.9h0M98.0 15.5h0M98.0 21.4h0M95.8 23.8h0M106.5 21.2h0M94.7 27.4h0M97.3 25.6h0M98.1 17.6h0M103.5 20.6h0M96.6 21.8h0M89.9 11.0h0M93.7 12.6h0M96.6 24.5h0M104.6 26.1h0M102.4 22.0h0M102.8 23.2h0M104.6 16.5h0M102.3 14.2h0M99.3 26.7h0M108.3 27.2h0M102.1 15.8h0M102.2 27.3h0M98.3 21.4h0M96.0 21.9h0M98.6 19.5h0M105.1 25.1h0M101.3 12.8h0M105.6 23.5h0M100.3 19.1h0M103.6 11.9h0M102.7 26.8h0M107.7 14.3h0M93.4 16.8h0M93.8 26.9h0M103.2 25.3h0M105.5 35.9h0M109.4 15.0h0M97.0 31.6h0M92.2 22.7h0M99.9 36.4h0M95.1 33.0h0M100.9 25.1h0M99.8 25.6h0M106.6 31.0h0M109.3 35.2h0M99.5 25.8h0M100.2 17.3h0M98.6 21.8h0M100.9 14.0h0M96.1 23.9h0M107.6 17.9h0M92.3 31.1h0M98.5 23.3h0M97.5 38.8h0M97.2 32.2h0M100.5 25.9h0M101.5 31.8h0M101.2 28.9h0M97.0 22.5h0M104.7 42.2h0M101.5 32.1h0M104.6 23.4h0M99.5 35.7h0M102.1 26.0h0M95.4 23.9h0M92.1 27.2h0M96.9 20.1h0M101.5 16.9h0M96.1 29.7h0M102.9 31.2h0M86.5 34.0h0M114.8 6.8h0M102.6 17.0h0M106.1 -7.5h0M104.3 16.2h0M103.1 27.7h0M78.5 19.1h0M98.9 25.1h0M108.8 26.5h0M92.3 26.1h0M92.4 26.6h0M97.4 17.9h0M100.1 4.9h0M96.2 8.6h0" stroke="#f38af4" stroke-width="1.1" stroke-linecap="round" stroke-opacity="0.8" fill="none"/>
<ellipse cx="46.5" cy="40.5" rx="3.47" ry="3.27" fill="#1fae7d" fill-opacity="0.27"/>
<path d="M45.4 34.7h0M47.6 38.0h0M40.7 43.3h0M47.0 35.6h0M52.3 44.7h0M46.9 44.3h0M43.7 36.0h0M42.5 41.2h0M47.5 44.9h0M52.3 41.1h0M45.0 47.9h0M49.6 36.3h0M45.4 36.9h0M45.9 47.0h0M51.9 45.7h0M36.0 39.8h0M46.1 46.5h0M52.9 41.5h0M51.1 45.6h0M49.2 49.1h0M48.8 45.0h0M44.8 39.5h0M44.3 45.8h0M43.9 45.0h0M47.3 48.2h0M49.3 38.9h0M46.8 37.2h0M45.2 49.4h0M42.3 41.9h0M38.9 41.3h0M47.9 38.0h0M51.6 39.7h0M48.9 43.0h0M40.4 40.3h0M48.6 41.3h0M45.5 36.5h0M49.7 43.9h0M45.6 43.8h0M50.6 41.8h0M46.5 42.9h0M46.2 36.9h0M42.1 43.5h0M50.1 37.6h0M42.6 36.0h0M48.0 49.8h0M48.8 41.6h0M48.6 34.6h0M46.4 38.9h0M41.4 44.0h0M39.4 41.2h0M51.8 41.7h0M46.4 45.4h0M40.6 44.8h0M47.0 35.6h0M49.9 37.6h0M46.2 38.3h0M51.4 45.9h0M39.7 44.3h0M46.8 44.2h0M44.2 40.3h0M44.3 41.3h0M44.3 44.3h0M51.9 34.8h0M50.6 35.0h0M52.6 43.7h0M39.0 29.4h0M42.7 41.3h0M48.0 42.9h0M50.8 38.1h0M51.7 42.8h0M49.2 35.8h0M44.8 39.9h0M44.7 43.7h0M42.2 45.7h0M43.9 45.2h0M45.1 46.7h0M47.9 48.0h0M47.6 43.5h0M41.6 41.9h0M44.9 33.2h0M45.9 45.2h0M55.2 43.6h0M46.7 47.4h0M41.6 38.8h0M47.7 44.8h0M47.1 45.1h0M47.8 38.3h0M52.3 37.5h0M53.2 44.7h0M43.6 38.3h0M43.5 45.9h0M40.5 35.4h0M43.4 44.3h0M50.3 46.0h0M39.2 40.1h0M52.5 43.0h0M45.9 42.8h0M43.9 44.1h0M45.5 33.6h0M48.5 46.2h0M40.5 43.0h0M39.9 37.4h0M51.2 34.5h0M53.0 43.3h0M52.4 38.1h0M47.1 29.3h0M45.7 38.5h0M51.0 37.9h0M37.5 43.4h0M49.0 45.8h0M45.8 44.1h0M43.6 33.9h0M44.2 33.3h0M48.6 41.2h0M46.4 43.1h0M40.5 41.8h0M44.7 30.9h0M46.4 43.5h0M53.3 43.0h0M38.6 39.1h0M51.9 44.7h0M44.7 32.3h0M40.1 42.2h0M48.5 39.5h0M47.1 35.9h0M51.7 40.2h0M47.5 39.7h0M48.8 38.4h0M44.2 35.6h0M41.9 44.4h0M50.3 39.5h0M43.9 43.2h0M50.2 38.1h0M40.3 40.2h0M51.1 44.4h0M52.1 42.1h0M49.2 35.4h0M46.1 38.5h0M50.5 38.0h0M54.5 40.1h0M39.5 39.1h0M41.0 44.3h0M48.4 42.4h0M50.4 45.0h0M40.0 38.8h0M49.2 39.6h0M44.4 39.4h0M42.7 36.1h0M51.9 44.6h0M47.9 40.7h0M41.8 44.4h0M41.4 35.3h0M45.4 37.7h0M44.3 45.1h0M52.0 43.7h0M43.9 42.2h0M46.6 41.9h0M39.5 40.6h0M45.2 40.5h0M42.3 44.3h0M42.6 47.5h0M41.3 42.3h0M51.2 40.9h0M51.7 45.0h0M42.9 44.5h0M50.3 47.8h0M52.2 35.2h0M40.3 38.3h0M42.0 40.3h0M40.4 41.2h0M46.7 38.7h0M50.8 41.4h0M45.2 34.4h0M52.0 39.7h0M38.5 42.0h0M46.1 35.8h0M46.2 33.6h0M45.8 47.3h0M53.1 43.5h0M44.6 42.2h0M45.5 37.3h0M41.6 37.9h0M43.9 46.7h0M45.4 38.6h0M47.1 39.8h0M46.4 42.9h0M42.9 40.4h0M48.9 45.8h0M49.1 42.7h0M39.6 39.4h0M41.1 38.1h0M51.2 43.2h0M50.4 41.2h0M51.7 41.2h0M46.2 38.9h0M49.3 46.1h0M41.0 38.9h0M49.8 36.7h0M48.7 41.9h0M43.4 43.3h0M46.6 36.3h0M52.0 35.7h0M48.6 50.6h0M47.9 33.4h0M43.4 45.2h0M42.1 42.3h0M42.2 32.7h0M46.0 47.7h0M48.2 44.0h0M45.3 40.9h0M49.5 40.9h0M48.8 41.8h0M49.7 43.1h0M45.0 40.7h0M52.0 37.0h0M46.2 36.8h0M48.3 39.8h0M48.4 46.1h0M44.9 40.0h0M41.3 41.5h0M42.2 41.4h0M43.8 39.3h0M40.3 39.5h0M50.8 40.1h0M45.8 44.4h0M51.3 34.2h0M44.4 45.8h0M43.3 43.2h0M42.1 46.1h0M52.9 36.1h0M48.2 47.2h0M44.4 36.6h0M47.7 42.0h0M39.2 38.1h0M43.5 37.0h0M46.5 37.1h0M50.5 34.3h0M46.3 45.0h0M36.9 37.8h0M52.8 41.8h0M47.9 49.4h0M43.9 39.7h0M50.9 45.7h0M49.4 34.5h0M44.7 45.7h0M41.7 44.0h0M46.2 37.3h0M56.1 39.1h0M45.7 34.2h0M39.1 43.6h0M44.0 41.1h0M48.7 36.2h0M42.7 42.7h0M45.5 46.8h0M41.2 37.2h0M46.6 31.7h0M40.0 32.5h0M46.8 41.2h0M46.7 36.3h0M40.8 39.0h0M52.7 37.9h0M49.3 39.3h0M51.5 36.0h0M44.6 42.3h0M50.9 39.6h0M48.5 47.1h0M48.9 47.0h0M41.8 35.1h0M46.9 38.0h0M49.5 41.7h0M44.4 46.3h0M40.7 37.3h0M42.2 36.0h0M45.7 41.1h0M49.0 36.0h0M41.2 36.4h0M44.9 42.0h0M42.0 31.5h0M43.9 33.5h0M46.7 32.1h0M54.2 41.4h0M50.1 36.2h0M45.6 38.2h0M45.6 39.3h0M54.2 40.2h0M45.1 47.1h0M45.9 39.2h0M47.6 40.3h0M38.6 41.4h0M47.1 42.8h0M40.3 37.2h0M43.6 42.3h0M53.0 39.0h0M52.3 42.7h0M49.8 34.2h0M50.7 35.3h0M40.6 40.9h0M50.2 42.8h0M49.4 38.0h0M48.1 39.5h0M42.8 35.6h0M45.6 42.4h0M45.8 35.0h0M47.8 35.2h0M44.5 40.5h0M47.9 45.0h0M39.3 40.7h0M52.8 36.8h0M45.9 40.4h0M54.7 46.4h0M47.8 46.8h0M43.7 37.8h0M42.6 35.6h0M50.6 46.1h0M46.6 41.3h0M50.2 38.1h0M47.7 38.7h0M42.4 41.0h0M48.2 42.2h0M51.3 40.7h0M46.7 42.4h0M51.8 38.2h0M39.8 41.9h0M49.6 33.6h0M43.6 36.8h0M43.0 44.0h0M39.7 48.9h0M40.7 37.7h0M50.1 45.5h0M45.9 47.0h0M50.6 41.5h0M52.2 37.5h0M51.2 39.8h0M41.3 42.8h0M53.3 42.8h0M48.3 41.7h0M47.5 43.5h0M53.8 38.2h0M42.6 39.4h0M53.8 38.5h0M46.1 39.0h0M44.8 40.4h0M39.4 40.5h0M42.3 49.8h0M50.5 45.4h0M39.4 39.2h0M52.1 34.8h0M46.9 39.6h0M46.0 34.2h0M44.3 45.9h0M38.5 40.1h0M44.1 36.4h0M41.9 44.7h0M46.5 34.1h0M46.2 35.2h0M46.8 41.8h0M43.6 33.8h0M43.7 44.3h0M40.9 47.9h0M47.5 46.5h0M46.1 36.8h0M43.2 42.6h0M48.3 36.3h0M48.6 37.4h0M40.0 44.9h0M48.2 36.4h0M52.3 38.1h0M47.5 34.8h0M43.5 36.7h0M43.4 38.8h0M49.6 35.7h0M51.3 45.1h0M40.0 42.7h0M51.0 43.6h0M47.6 44.2h0M53.3 43.6h0M51.9 35.0h0M50.7 41.4h0M50.0 47.2h0M45.5 45.9h0M47.3 42.0h0M47.2 37.8h0M53.6 40.3h0M47.2 45.4h0M44.0 42.3h0M43.0 44.9h0M47.9 32.8h0M45.5 35.2h0M43.5 45.2h0M39.5 39.7h0M45.6 38.2h0M40.2 37.1h0M45.9 41.3h0M50.1 41.6h0M51.8 35.5h0M50.2 40.9h0M43.6 46.2h0M41.2 45.7h0M53.2 40.1h0M47.1 42.5h0M48.8 47.9h0M45.9 42.1h0M44.3 30.9h0M46.7 40.0h0M47.6 40.7h0M56.5 37.5h0M63.5 50.4h0M52.1 43.9h0M57.6 50.8h0M53.9 40.0h0M54.8 37.6h0M45.4 34.9h0M59.7 53.2h0M54.9 45.9h0M44.4 40.9h0M61.5 53.1h0M45.4 44.2h0M44.7 39.0h0M54.8 47.7h0M54.0 37.1h0M53.0 40.8h0M44.9 42.8h0M49.4 51.5h0M46.9 37.5h0M46.6 44.0h0M51.2 36.2h0M57.1 44.3h0M62.1 44.9h0M47.5 57.3h0M48.1 39.9h0M50.9 39.6h0M48.4 43.2h0M47.7 37.9h0M64.4 48.2h0M54.4 51.0h0M44.2 43.8h0M54.2 47.0h0M56.4 46.6h0M58.3 49.3h0M48.1 40.8h0M53.6 48.6h0M48.6 35.8h0M47.7 37.3h0M57.8 53.1h0M45.4 41.8h0M57.0 40.8h0M43.8 44.8h0M55.4 55.3h0M48.8 41.3h0M54.0 36.3h0M57.3 49.0h0M55.9 51.3h0M48.1 46.5h0M44.0 39.1h0M50.6 46.0h0M50.7 37.0h0M52.2 39.4h0M47.5 45.0h0M40.0 39.4h0M55.6 43.4h0M44.2 38.4h0M39.2 45.8h0M46.8 34.5h0M42.9 42.5h0M43.8 36.6h0M55.8 41.7h0M50.2 53.7h0M52.4 41.3h0M55.5 29.4h0M40.4 35.1h0M40.7 44.3h0M38.0 41.2h0M55.0 48.5h0M57.1 37.1h0M31.9 41.5h0M47.9 42.3h0M42.8 43.6h0M37.6 46.4h0M60.7 41.2h0M46.5 45.1h0M50.6 44.6h0M47.8 38.0h0" stroke="#1fae7d" stroke-width="1.1" stroke-linecap="round" stroke-opacity="0.8" fill="none"/>
<ellipse cx="24.5" cy="72.5" rx="4.78" ry="3.46" fill="#2cb5f5" fill-opacity="0.38"/>
<path d="M17.9 76.7h0M27.8 77.6h0M28.3 73.7h0M21.0 69.6h0M28.3 70.1h0M25.9 70.9h0M30.5 70.7h0M17.5 76.1h0M17.9 76.1h0M27.9 69.9h0M18.6 69.1h0M24.7 75.3h0M28.9 74.1h0M20.8 72.3h0M19.5 72.5h0M20.6 65.6h0M34.2 76.3h0M30.6 72.4h0M20.0 73.6h0M21.6 77.3h0M15.1 67.4h0M25.8 75.7h0M23.7 74.2h0M34.4 74.1h0M29.3 68.4h0M18.8 74.9h0M23.6 68.9h0M26.2 73.8h0M25.5 67.6h0M27.6 74.3h0M23.2 73.7h0M32.9 70.7h0M25.9 77.4h0M29.0 75.3h0M20.8 78.1h0M23.3 67.3h0M23.8 71.5h0M24.4 68.9h0M23.8 67.2h0M13.2 70.3h0M25.8 67.0h0M21.6 76.9h0M24.8 69.8h0M28.8 78.3h0M26.6 79.0h0M27.4 75.9h0M22.3 73.9h0M28.3 74.0h0M27.5 68.1h0M24.9 77.8h0M22.7 79.2h0M20.5 74.8h0M17.8 70.4h0M29.3 67.1h0M21.0 77.1h0M15.7 70.1h0M24.2 77.1h0M23.9 66.2h0M26.9 71.0h0M29.5 77.4h0M22.2 67.4h0M30.0 76.9h0M29.8 76.9h0M25.3 68.0h0M23.3 69.8h0M26.9 71.2h0M28.6 72.7h0M25.8 73.9h0M19.5 74.1h0M21.0 70.3h0M14.6 72.8h0M32.0 71.4h0M30.1 67.2h0M22.3 66.8h0M27.3 67.4h0M35.4 72.7h0M31.7 74.3h0M25.7 73.8h0M23.9 77.4h0M30.5 68.6h0M18.2 73.7h0M26.7 71.3h0M21.2 69.2h0M27.1 70.3h0M24.3 73.4h0M26.4 77.9h0M29.8 74.0h0M30.2 77.8h0M32.1 75.1h0M25.4 66.2h0M20.7 72.8h0M27.1 76.3h0M28.2 66.3h0M22.0 68.3h0M24.3 72.9h0M24.9 74.0h0M22.0 68.2h0M20.7 71.1h0M19.1 78.3h0M32.3 69.1h0M22.8 75.3h0M32.0 65.0h0M27.3 67.3h0M25.4 72.8h0M30.4 76.9h0M33.9 72.9h0M26.4 70.5h0M32.9 76.7h0M28.4 71.9h0M27.8 66.7h0M22.8 75.6h0M20.8 66.1h0M28.0 78.1h0M18.4 76.2h0M24.1 68.5h0M20.7 68.7h0M24.3 75.0h0M18.4 69.4h0M28.5 71.4h0M22.8 67.2h0M26.5 76.5h0M30.7 74.5h0M22.1 72.2h0M24.8 70.1h0M21.6 69.9h0M26.0 72.2h0M24.0 79.8h0M34.9 83.6h0M33.2 75.5h0M18.2 73.3h0M23.1 77.8h0M23.7 68.8h0M26.7 77.8h0M24.4 77.6h0M19.6 68.9h0M30.0 73.2h0M29.0 76.6h0M26.5 79.3h0M29.2 75.6h0M29.4 75.8h0M30.3 71.6h0M28.6 78.7h0M17.1 76.2h0M25.6 74.6h0M22.2 72.8h0M21.7 78.9h0M19.3 66.9h0M23.3 77.2h0M20.9 73.3h0M26.3 68.8h0M17.6 67.8h0M29.0 67.4h0M31.0 68.1h0M18.8 68.1h0M28.5 77.0h0M23.2 62.9h0M20.1 73.4h0M27.6 61.4h0M26.9 73.8h0M25.1 73.1h0M24.2 74.9h0M22.2 71.7h0M22.2 69.7h0M28.3 72.6h0M19.1 77.7h0M27.3 78.1h0M27.6 73.7h0M31.8 73.3h0M31.5 76.5h0M25.1 70.9h0M30.4 68.5h0M22.6 75.0h0M32.4 67.2h0M26.6 67.0h0M27.7 78.6h0M30.5 77.0h0M30.0 74.1h0M18.0 72.3h0M24.6 73.3h0M22.3 76.8h0M33.5 70.8h0M29.8 74.5h0M30.8 72.0h0M29.5 73.2h0M21.6 62.8h0M28.6 74.3h0M22.8 66.9h0M12.7 77.1h0M26.5 72.5h0M26.4 73.5h0M23.1 79.1h0M17.3 71.8h0M17.3 75.4h0M20.2 75.3h0M20.6 73.0h0M15.6 74.0h0M30.1 76.2h0M22.9 68.9h0M22.7 73.8h0M30.2 74.8h0M29.4 78.3h0M24.1 70.8h0M18.8 68.0h0M26.0 65.3h0M21.8 72.2h0M29.3 77.5h0M25.5 68.5h0M28.3 73.7h0M24.2 76.0h0M23.9 70.3h0M22.1 71.3h0M26.1 78.7h0M15.8 72.2h0M25.2 66.2h0M28.1 71.0h0M26.4 71.2h0M30.4 67.7h0M18.4 73.4h0M31.8 75.1h0M19.3 69.0h0M29.3 74.4h0M21.3 72.7h0M23.3 70.3h0M26.1 68.3h0M21.3 74.4h0M28.5 69.8h0M28.4 75.2h0M24.8 72.8h0M20.8 68.6h0M20.9 78.4h0M29.0 67.6h0M20.5 69.4h0M20.6 78.2h0M14.9 71.5h0M18.2 70.6h0M23.0 76.3h0M21.9 69.2h0M24.0 68.4h0M26.6 71.8h0M23.5 78.4h0M18.3 75.4h0M25.8 70.2h0M31.2 70.6h0M23.8 72.8h0M28.6 76.8h0M37.0 68.7h0M33.2 73.6h0M24.0 77.2h0M27.2 74.7h0M27.7 76.6h0M23.9 69.9h0M30.3 70.0h0M30.3 77.9h0M20.9 69.6h0M32.7 71.6h0M31.9 68.5h0M29.2 70.2h0M20.8 62.7h0M22.7 71.8h0M23.5 67.7h0M28.8 75.8h0M29.7 69.8h0M13.3 73.8h0M29.0 67.7h0M18.4 77.3h0M14.9 71.1h0M28.6 68.1h0M27.4 76.4h0M20.2 67.3h0M21.3 69.5h0M18.2 73.7h0M22.0 75.1h0M24.9 73.7h0M27.1 70.6h0M24.6 73.6h0M21.9 76.6h0M25.4 66.8h0M21.0 74.2h0M28.7 69.5h0M26.3 68.3h0M33.8 72.3h0M27.6 73.4h0M30.9 75.2h0M25.0 71.3h0M25.2 66.5h0M20.0 72.3h0M23.6 68.0h0M26.4 71.3h0M24.8 75.7h0M19.6 69.6h0M28.0 76.3h0M24.2 78.8h0M21.4 76.6h0M22.9 71.5h0M18.2 73.4h0M29.0 78.3h0M23.0 79.2h0M23.9 68.2h0M23.7 78.7h0M27.1 75.6h0M23.4 77.5h0M24.4 68.8h0M20.9 78.6h0M25.5 71.3h0M27.6 78.6h0M16.2 72.1h0M27.3 78.5h0M16.4 75.1h0M18.0 70.3h0M18.6 78.0h0M13.7 67.3h0M24.1 70.7h0M19.4 75.5h0M17.7 74.4h0M21.0 68.4h0M27.0 74.1h0M27.7 76.4h0M21.7 76.4h0M26.9 70.2h0M22.4 76.3h0M24.3 72.8h0M31.1 71.8h0M23.3 69.4h0M32.4 72.2h0M19.3 68.1h0M19.7 73.9h0M21.1 67.9h0M22.8 69.0h0M22.0 72.7h0M23.0 76.1h0M32.1 71.6h0M24.9 77.1h0M29.6 75.7h0M17.9 73.8h0M21.0 75.8h0M32.3 69.7h0M16.1 73.2h0M34.9 72.2h0M23.1 78.0h0M21.1 71.7h0M25.8 79.3h0M18.2 72.4h0M32.8 75.5h0M33.8 70.7h0M18.0 72.5h0M26.8 74.0h0M24.4 75.3h0M26.8 66.8h0M18.6 78.1h0M26.6 73.6h0M32.3 76.1h0M29.1 73.7h0M18.8 66.6h0M19.4 75.7h0M20.1 74.3h0M17.2 72.0h0M19.1 70.9h0M25.1 73.3h0M30.7 71.2h0M25.9 67.3h0M29.3 69.9h0M20.9 70.1h0M19.9 76.6h0M20.9 71.6h0M24.1 70.4h0M23.1 69.3h0M22.7 67.3h0M19.4 75.2h0M22.9 70.1h0M22.9 66.8h0M26.5 68.2h0M24.9 72.4h0M30.1 75.7h0M26.5 74.1h0M20.2 73.4h0M22.8 78.4h0M27.6 70.1h0M33.3 74.3h0M25.4 73.0h0M28.2 75.7h0M30.3 73.5h0M27.9 71.0h0M22.4 69.3h0M25.5 69.9h0M21.5 72.7h0M26.4 70.5h0M23.4 69.3h0M25.2 71.9h0M22.1 76.9h0M24.8 70.5h0M26.5 72.8h0M22.4 69.8h0M20.9 73.7h0M22.8 69.6h0M22.8 68.0h0M27.6 67.1h0M28.7 78.2h0M28.3 71.3h0M22.0 66.1h0M23.1 76.4h0M23.6 77.5h0M27.2 71.0h0M26.3 70.7h0M26.1 67.8h0M30.9 67.1h0M30.1 72.3h0M32.2 73.3h0M19.2 76.2h0M25.2 69.2h0M27.0 66.7h0M18.9 72.9h0M26.6 74.7h0M27.2 70.7h0M26.7 74.7h0M18.2 74.6h0M27.3 77.6h0M26.6 72.7h0M28.8 74.1h0M22.6 76.9h0M18.4 77.5h0M27.5 72.9h0M30.7 74.6h0M19.4 78.2h0M32.1 71.8h0M23.5 66.2h0M27.9 74.7h0M27.3 69.8h0M28.7 71.2h0M30.9 68.9h0M24.8 72.0h0M30.2 73.4h0M26.7 76.3h0M16.4 69.7h0M28.5 77.6h0M24.5 70.6h0M29.4 70.7h0M30.5 74.8h0M34.1 70.7h0M23.9 68.1h0M28.8 74.0h0M24.0 77.7h0M26.8 74.4h0M23.7 65.7h0M24.1 68.1h0M19.0 73.3h0M20.9 71.7h0M24.7 73.7h0M21.3 70.7h0M31.6 75.4h0M21.5 76.6h0M29.5 75.4h0M25.4 68.1h0M29.2 67.9h0M20.1 67.1h0M20.0 61.3h0M28.5 74.3h0M18.1 71.9h0M21.8 73.7h0M37.0 71.7h0M35.5 77.0h0M40.7 72.5h0M27.1 79.3h0M39.6 77.4h0M27.3 72.6h0M33.3 71.8h0M36.3 75.1h0M17.4 73.5h0M32.5 76.1h0M26.3 71.8h0M26.9 79.3h0M24.7 78.2h0M34.9 78.8h0M26.3 67.8h0M19.2 73.6h0M31.3 70.7h0M30.8 77.7h0M39.2 68.8h0M39.6 73.8h0M30.6 73.2h0M46.7 75.8h0M36.6 76.1h0M38.0 71.1h0M40.0 78.6h0M39.4 79.7h0M34.4 75.7h0M25.0 75.1h0M30.9 76.4h0M34.7 71.2h0M29.5 74.7h0M36.5 76.7h0M17.4 71.4h0M28.3 77.8h0M34.7 71.9h0M29.4 69.0h0M24.3 74.2h0M26.9 76.1h0M28.1 71.1h0M36.3 68.1h0M24.2 76.3h0M30.1 74.7h0M51.4 69.8h0M21.9 69.0h0M29.0 71.7h0M26.6 73.7h0M31.2 73.0h0M35.8 76.1h0M27.4 75.4h0M18.9 72.0h0M26.7 73.6h0M18.3 70.9h0M21.9 73.7h0M28.8 73.3h0M29.0 73.3h0M38.5 70.5h0M14.9 81.3h0M34.5 77.9h0M21.8 76.7h0M11.2 64.6h0M38.6 63.9h0M22.7 76.5h0M27.1 65.0h0M18.7 76.1h0M20.1 83.3h0M22.9 84.4h0M24.0 80.4h0M28.1 72.7h0M11.6 76.1h0M24.8 74.6h0" stroke="#2cb5f5" stroke-width="1.1" stroke-linecap="round" stroke-opacity="0.8" fill="none"/>
<ellipse cx="68.0" cy="73.7" rx="7.42" ry="7.21" fill="#17c0d7" fill-opacity="0.9"/>
<path d="M72.7 72.7h0M62.7 72.9h0M64.6 80.0h0M67.8 70.4h0M72.2 74.3h0M72.5 80.6h0M66.2 67.1h0M70.7 66.0h0M68.4 65.8h0M65.7 80.2h0M75.9 69.1h0M68.1 65.0h0M64.2 78.2h0M70.5 73.2h0M71.6 74.1h0M69.2 75.7h0M63.2 74.3h0M67.1 82.6h0M75.4 71.4h0M69.8 64.5h0M62.8 69.4h0M62.6 79.2h0M77.0 75.7h0M74.9 72.7h0M64.7 71.9h0M69.8 77.2h0M72.5 69.6h0M67.6 80.6h0M68.9 77.8h0M60.5 69.3h0M69.5 84.3h0M65.9 77.6h0M72.4 66.0h0M62.2 67.4h0M69.5 70.2h0M77.3 74.9h0M64.7 68.6h0M73.6 71.7h0M65.3 78.3h0M71.7 81.6h0M70.0 70.1h0M72.0 78.7h0M68.7 76.6h0M70.2 72.7h0M73.2 75.4h0M66.9 82.3h0M67.9 72.9h0M71.6 75.3h0M66.1 70.6h0M62.8 81.3h0M60.7 67.9h0M66.0 71.2h0M69.4 66.1h0M58.6 76.0h0M61.6 74.7h0M63.0 76.9h0M73.4 67.3h0M66.9 70.9h0M75.3 70.6h0M65.3 71.9h0M72.7 66.2h0M63.6 75.0h0M68.5 74.2h0M68.6 73.3h0M64.6 72.3h0M63.0 70.0h0M73.7 78.1h0M67.7 79.4h0M64.2 68.3h0M63.9 80.0h0M64.6 74.3h0M65.9 77.3h0M69.2 80.0h0M74.5 73.1h0M68.9 76.8h0M74.1 77.4h0M73.0 73.8h0M66.4 73.2h0M60.9 79.1h0M62.0 75.1h0M69.8 77.8h0M65.1 81.7h0M69.3 73.7h0M72.6 63.8h0M65.6 81.1h0M63.9 70.3h0M69.9 67.2h0M68.5 65.3h0M65.5 66.0h0M64.4 65.6h0M77.4 74.0h0M70.7 75.6h0M76.7 70.0h0M65.6 82.8h0M74.9 67.7h0M73.2 80.1h0M65.5 69.7h0M70.6 80.9h0M71.2 74.0h0M69.9 74.0h0M75.3 68.1h0M75.8 68.2h0M70.2 70.4h0M60.3 76.6h0M58.7 84.7h0M62.6 75.1h0M65.0 68.4h0M72.9 72.8h0M63.7 76.3h0M65.3 62.7h0M67.8 64.8h0M75.1 77.7h0M66.7 68.6h0M70.1 72.2h0M65.6 75.6h0M65.4 75.6h0M70.9 78.1h0M64.0 72.7h0M63.8 72.6h0M64.8 67.5h0M68.1 60.9h0M75.9 68.6h0M75.6 67.9h0M74.7 73.5h0M67.8 78.8h0M70.8 72.4h0M63.7 74.4h0M69.5 65.9h0M65.5 64.6h0M65.9 65.9h0M63.6 77.1h0M71.5 68.8h0M70.4 71.4h0M67.0 75.9h0M67.7 77.0h0M71.9 79.9h0M69.4 73.2h0M69.9 81.6h0M60.9 76.2h0M64.5 71.5h0M75.6 74.4h0M70.8 71.0h0M68.4 79.2h0M68.6 76.1h0M60.2 72.9h0M74.6 80.6h0M64.2 72.0h0M60.5 71.2h0M75.3 76.9h0M72.4 72.7h0M63.8 75.3h0M70.8 77.3h0M66.3 69.3h0M65.1 70.0h0M60.3 78.6h0M65.8 74.0h0M60.2 75.0h0M72.6 81.5h0M71.4 72.3h0M60.4 77.4h0M74.3 77.1h0M73.1 74.6h0M66.7 71.0h0M74.5 70.2h0M62.1 66.3h0M69.2 72.6h0M71.1 76.3h0M68.4 64.7h0M60.2 69.8h0M71.8 72.9h0M59.6 75.2h0M74.4 73.8h0M62.1 66.2h0M66.1 64.5h0M71.0 71.3h0M77.6 74.3h0M65.6 69.3h0M69.6 74.6h0M60.5 80.4h0M71.4 76.1h0M71.1 76.1h0M74.6 68.0h0M58.9 79.0h0M62.0 72.9h0M61.2 73.2h0M59.1 75.6h0M72.6 76.9h0M63.1 73.9h0M69.5 77.2h0M66.7 67.6h0M64.4 75.5h0M59.8 68.6h0M62.7 81.0h0M69.7 71.7h0M66.6 78.1h0M65.5 77.2h0M72.9 77.7h0M73.9 66.8h0M74.3 74.3h0M68.0 71.9h0M61.6 67.9h0M69.2 69.2h0M68.6 73.1h0M69.8 68.5h0M69.3 67.4h0M70.4 70.3h0M66.7 75.5h0M70.5 72.6h0M75.8 77.8h0M70.3 74.2h0M69.4 69.2h0M68.0 81.6h0M66.1 77.9h0M62.3 83.6h0M63.3 69.8h0M76.1 69.8h0M64.3 68.1h0M77.6 74.2h0M61.3 80.1h0M67.8 69.4h0M72.4 78.4h0M67.8 69.8h0M65.9 66.2h0M67.9 72.4h0M62.1 70.5h0M65.3 81.9h0M64.5 80.1h0M59.6 74.8h0M63.7 72.4h0M60.7 76.1h0M72.1 84.6h0M62.3 71.0h0M77.4 74.8h0M61.5 77.4h0M66.6 83.0h0M68.5 78.8h0M67.0 67.6h0M70.8 79.8h0M59.2 74.5h0M74.6 69.6h0M74.1 67.7h0M75.3 75.2h0M68.3 69.9h0M62.6 68.4h0M65.3 68.2h0M61.4 70.8h0M70.0 66.9h0M65.4 68.1h0M64.5 70.3h0M75.1 71.4h0M85.0 79.3h0M61.3 77.5h0M62.8 77.5h0M70.4 76.0h0M74.0 73.0h0M72.2 72.6h0M67.9 82.1h0M76.4 72.7h0M69.8 66.8h0M68.4 79.5h0M66.6 68.5h0M71.0 81.9h0M70.0 64.8h0M69.4 80.4h0M76.4 76.2h0M61.9 80.0h0M64.1 77.6h0M64.1 77.8h0M59.7 85.7h0M69.4 70.0h0M71.7 77.8h0M73.1 77.2h0M71.6 72.8h0M61.1 72.9h0M74.6 72.2h0M69.8 72.7h0M66.2 73.3h0M77.6 75.0h0M68.3 81.8h0M73.5 71.8h0M77.7 73.5h0M59.4 73.6h0M74.2 66.8h0M75.2 74.5h0M74.0 75.5h0M67.8 67.6h0M68.0 75.8h0M70.4 74.1h0M66.6 80.5h0M56.8 72.9h0M78.3 70.0h0M72.3 63.4h0M67.2 64.4h0M68.1 68.8h0M64.3 69.7h0M62.6 69.5h0M63.0 70.2h0M67.2 73.1h0M65.5 80.1h0M59.2 82.4h0M68.2 82.3h0M68.5 74.3h0M60.8 90.3h0M61.4 72.3h0M71.1 73.2h0M66.6 76.7h0M60.4 70.7h0M74.5 75.4h0M75.0 72.2h0M61.0 79.3h0M66.0 65.0h0M62.7 68.1h0M75.8 74.4h0M73.8 78.9h0M66.1 72.3h0M64.8 79.0h0M67.7 76.5h0M73.1 71.1h0M75.3 75.7h0M74.8 79.0h0M79.9 61.4h0M68.0 69.0h0M76.2 78.5h0M73.2 70.1h0M70.8 75.9h0M69.5 71.3h0M64.9 77.7h0M67.6 65.4h0M76.0 71.1h0M72.6 74.4h0M72.0 80.5h0M71.7 66.2h0M71.8 72.5h0M67.0 84.6h0M65.6 77.2h0M61.9 77.8h0M66.1 74.3h0M63.9 80.7h0M68.6 65.1h0M74.9 73.4h0M77.0 72.5h0M69.4 78.4h0M61.8 80.5h0M63.5 69.0h0M77.5 74.3h0M60.7 70.0h0M76.9 73.4h0M65.3 71.9h0M70.4 80.3h0M66.7 73.7h0M70.9 71.4h0M59.9 79.0h0M70.8 75.6h0M70.4 67.9h0M63.2 73.8h0M59.3 76.5h0M62.8 78.1h0M76.6 75.0h0M65.1 85.7h0M61.9 71.5h0M73.0 65.4h0M72.7 73.6h0M60.4 64.9h0M65.6 69.2h0M72.4 78.3h0M72.3 70.2h0M69.4 73.3h0M63.4 77.5h0M58.8 72.0h0M66.3 74.9h0M72.3 72.7h0M61.5 73.0h0M72.4 79.0h0M60.9 74.0h0M68.0 72.9h0M71.2 78.0h0M72.3 70.2h0M61.7 77.1h0M71.5 76.2h0M72.0 79.2h0M63.5 72.1h0M65.5 68.3h0M59.4 72.6h0M66.8 77.6h0M72.5 73.3h0M75.1 79.0h0M75.7 68.9h0M68.2 78.0h0M64.1 71.3h0M65.6 73.0h0M63.9 75.4h0M76.0 73.3h0M68.6 69.0h0M64.9 71.7h0M61.6 68.7h0M67.5 78.0h0M65.1 71.6h0M63.4 66.6h0M71.8 73.0h0M64.3 82.4h0M70.3 79.0h0M61.7 72.8h0M66.5 82.0h0M75.0 67.8h0M60.2 72.8h0M68.6 64.4h0M67.1 68.1h0M76.1 71.8h0M66.8 73.6h0M74.3 69.1h0M71.9 67.6h0M71.7 71.9h0M74.1 79.4h0M63.8 73.9h0M70.9 81.3h0M62.5 80.9h0M70.7 68.1h0M67.3 71.3h0M63.9 72.2h0M63.8 79.0h0M75.6 78.0h0M69.7 69.0h0M60.0 69.7h0M60.4 74.8h0M73.5 66.6h0M62.6 78.5h0M70.8 71.4h0M69.9 78.0h0M67.2 67.4h0M70.4 73.0h0M63.7 72.3h0M64.0 73.0h0M68.9 65.0h0M76.9 77.4h0M61.0 72.0h0M72.0 75.3h0M63.6 79.8h0M69.9 73.4h0M70.2 78.9h0M64.2 75.8h0M72.7 73.1h0M62.2 72.4h0M69.7 81.2h0M66.1 66.9h0M64.4 72.4h0M64.3 72.9h0M64.1 76.8h0M76.1 70.3h0M66.4 81.3h0M72.9 72.0h0M72.5 67.0h0M78.6 65.5h0M65.6 77.2h0M68.1 80.2h0M62.1 77.0h0M63.8 77.9h0M60.9 73.1h0M62.8 66.3h0M74.6 77.2h0M76.1 76.3h0M66.2 70.0h0M67.1 73.7h0M67.6 71.6h0M69.9 82.4h0M72.9 72.4h0M59.2 75.1h0M69.8 72.7h0M57.6 77.0h0M73.5 75.8h0M68.9 73.5h0M70.0 67.5h0M62.5 69.9h0M66.2 76.7h0M70.2 71.4h0M75.9 75.4h0M70.4 80.7h0M74.6 76.2h0M70.5 65.2h0M58.7 82.4h0M61.4 68.8h0M62.6 79.2h0M69.8 69.8h0M61.6 69.7h0M59.3 71.0h0M67.5 72.2h0M74.0 80.0h0M65.9 76.0h0M65.7 67.0h0M60.2 77.4h0M69.2 76.6h0M68.6 64.9h0M64.2 86.6h0M62.6 72.1h0M67.9 71.9h0M63.7 65.9h0M69.8 75.3h0M61.0 71.0h0M62.0 69.3h0M77.0 75.0h0M65.6 78.0h0M63.9 77.2h0M65.9 67.6h0M71.5 77.2h0M64.1 82.3h0M61.7 72.6h0M74.3 73.9h0M64.6 74.5h0M69.5 65.8h0M71.5 74.1h0M64.8 73.1h0M67.6 79.2h0M63.9 67.1h0M67.5 73.6h0M62.7 83.3h0M75.3 70.7h0M66.2 71.6h0M74.1 80.9h0M65.0 74.7h0M66.6 78.6h0M68.9 68.2h0M65.5 66.0h0M70.2 67.6h0M63.1 77.3h0M70.0 79.4h0M66.7 77.3h0M75.6 70.8h0M64.6 76.4h0M72.0 70.5h0M72.5 79.8h0M69.4 70.5h0M65.4 77.4h0M62.3 67.0h0M64.4 79.5h0M67.2 81.2h0M61.6 72.7h0M68.7 69.1h0M62.2 73.3h0M70.1 65.9h0M72.5 77.4h0M73.8 69.5h0M65.2 73.7h0M66.7 75.3h0M64.7 76.4h0M69.5 73.6h0M60.6 73.4h0M73.9 71.9h0M64.8 70.7h0M73.0 78.7h0M65.7 71.8h0M66.0 66.3h0M66.6 69.5h0M63.3 77.2h0M67.6 72.1h0M65.0 67.0h0M61.7 76.6h0M67.6 64.4h0M62.8 72.0h0M77.4 72.1h0M71.1 80.4h0M61.4 71.8h0M69.6 71.1h0M65.3 78.4h0M59.6 72.7h0M65.1 74.1h0M75.5 73.4h0M67.3 66.9h0M58.3 72.5h0M70.7 71.8h0M71.9 71.7h0M72.4 79.6h0M70.7 72.6h0M63.6 70.5h0M68.4 72.3h0M62.8 79.3h0M66.9 81.7h0M72.2 78.1h0M65.8 77.5h0M60.9 73.3h0M58.9 73.0h0M61.6 75.3h0M75.0 70.8h0M65.2 66.8h0M63.5 72.4h0M69.5 81.3h0M70.8 75.0h0M78.5 79.1h0M70.2 78.5h0M73.3 76.2h0M66.7 81.8h0M70.9 72.6h0M71.5 69.5h0M74.1 73.0h0M67.3 73.5h0M63.3 81.6h0M75.1 68.9h0M75.3 70.4h0M64.5 70.7h0M62.4 78.9h0M65.6 72.4h0M69.5 71.5h0M65.2 64.8h0M69.3 80.0h0M71.9 68.6h0M61.9 80.2h0M75.7 74.2h0M65.9 71.6h0M64.8 76.6h0M63.8 75.8h0M62.9 82.7h0M61.0 66.8h0M69.7 70.9h0M76.5 69.2h0M61.6 67.8h0M72.8 73.7h0M60.6 76.5h0M70.5 70.0h0M70.0 80.5h0M73.9 67.7h0M65.9 70.2h0M56.4 78.2h0M71.6 73.1h0M65.5 79.3h0M63.2 68.6h0M63.9 75.8h0M70.9 75.3h0M68.0 68.5h0M67.9 73.5h0M63.1 66.3h0M68.8 78.6h0M72.7 78.1h0M76.2 72.6h0M75.5 71.5h0M73.0 70.5h0M71.7 76.2h0M60.5 75.4h0M69.1 69.7h0M76.0 77.1h0M66.5 70.2h0M72.3 75.1h0M65.8 75.5h0M75.7 71.3h0M71.7 68.4h0M73.9 79.2h0M68.2 79.8h0M68.1 74.0h0M65.3 61.2h0M66.1 74.4h0M79.5 79.8h0M62.5 72.6h0M67.1 74.6h0M63.4 70.2h0M70.5 78.0h0M63.1 79.7h0M70.3 76.3h0M62.5 76.0h0M69.5 71.8h0M65.1 73.0h0M58.7 72.5h0M64.1 72.8h0M69.6 76.1h0M73.2 72.2h0M67.7 71.4h0M62.7 74.4h0M65.8 71.3h0M61.5 68.4h0M59.9 80.8h0M68.0 70.7h0M66.2 82.4h0M69.9 69.6h0M70.1 75.8h0M63.7 65.1h0M64.5 71.9h0M70.1 78.5h0M73.7 71.0h0M71.3 77.5h0M74.2 64.3h0M80.8 77.2h0M60.4 73.9h0M69.7 73.2h0M62.4 88.9h0M63.2 77.0h0M67.4 76.0h0M52.6 91.9h0M82.0 73.1h0M78.6 74.4h0M75.6 72.7h0M53.3 68.2h0M62.5 67.3h0M48.9 71.4h0" stroke="#17c0d7" stroke-width="1.1" stroke-linecap="round" stroke-opacity="0.8" fill="none"/>
<path d="M99.4 73.4h0M101.9 69.5h0M99.8 70.8h0M102.4 64.0h0M103.8 61.2h0M109.6 72.4h0M102.6 69.4h0M109.4 65.7h0M109.7 73.9h0M102.2 67.0h0M103.1 63.0h0M105.3 74.2h0M100.6 74.1h0M102.4 76.5h0M111.0 66.7h0M98.7 64.5h0M106.9 69.9h0M108.1 70.8h0M95.0 73.2h0M96.4 65.4h0M102.9 74.3h0M104.9 66.7h0M95.3 74.4h0M103.5 72.4h0M102.6 69.1h0M98.0 68.1h0M96.0 69.2h0M101.6 68.2h0M101.2 71.9h0M102.4 67.1h0M99.5 64.5h0M105.6 69.5h0M97.3 69.6h0M105.9 75.1h0M99.1 60.8h0M101.6 74.1h0M100.4 76.2h0M98.4 69.6h0M108.5 71.2h0M97.5 71.5h0M99.9 65.4h0M110.5 72.8h0M103.6 63.5h0M105.3 63.8h0M97.1 66.1h0M106.5 61.5h0M98.6 69.3h0M109.3 68.8h0M105.1 74.4h0M99.7 66.0h0M107.7 61.0h0M97.9 65.6h0M106.5 70.5h0M107.9 66.8h0M91.2 70.0h0M98.2 68.0h0M99.5 76.4h0M111.3 65.0h0M104.3 66.4h0M108.8 70.5h0M103.0 69.9h0M105.0 59.0h0M101.9 73.7h0M99.1 70.5h0M91.3 71.0h0M100.8 58.9h0M118.5 66.4h0M101.5 64.4h0M101.4 68.3h0M102.0 69.8h0M98.8 71.5h0M97.4 64.4h0M105.8 70.4h0M96.6 74.4h0M105.7 74.7h0M99.9 71.6h0M111.6 64.7h0M100.8 76.6h0M99.3 70.8h0M107.7 64.2h0M101.6 76.4h0M102.3 58.6h0M108.6 67.1h0M101.0 62.7h0M100.0 59.3h0M98.9 74.2h0M104.6 72.7h0M93.3 67.8h0M103.5 64.9h0M110.4 71.4h0M101.6 59.1h0M100.5 68.1h0M109.6 68.0h0M96.9 63.5h0M106.4 61.5h0M104.8 72.4h0M102.7 67.9h0M101.1 75.7h0M103.5 71.2h0M112.6 66.9h0M104.5 71.8h0M106.5 66.7h0M102.0 73.6h0M102.1 73.6h0M99.6 71.1h0M98.2 68.2h0M105.6 67.4h0M114.0 58.8h0M101.5 62.1h0M109.7 68.5h0M109.5 62.5h0M101.5 70.7h0M104.5 59.0h0M99.6 65.9h0M108.4 66.6h0M98.7 72.3h0M102.8 69.4h0M104.8 71.7h0M98.8 71.9h0M104.5 67.6h0M115.4 71.1h0M99.8 66.3h0M99.3 64.8h0M105.8 70.2h0M98.7 61.0h0M95.7 66.9h0M99.9 67.3h0M114.5 67.1h0M100.0 65.1h0M100.1 73.5h0M99.4 71.6h0M106.5 63.8h0M94.0 69.0h0M95.4 66.3h0M101.9 63.8h0M111.9 74.6h0M102.4 60.7h0M107.7 65.7h0M101.7 72.7h0M106.5 67.0h0M99.3 69.7h0M102.8 59.2h0M98.0 69.0h0M102.3 79.2h0M111.0 64.4h0M101.1 68.3h0M109.2 61.6h0M109.5 70.1h0M105.0 65.2h0M105.0 66.6h0M97.4 70.9h0M100.0 68.2h0M101.7 62.3h0M102.9 67.7h0M103.4 73.5h0M100.1 67.4h0M108.9 77.9h0M94.9 66.4h0M96.9 73.2h0M99.6 67.6h0M104.7 65.5h0M99.8 71.8h0M110.7 69.3h0M106.1 74.1h0M103.6 68.0h0M97.7 63.1h0M101.8 76.4h0M95.4 64.4h0M101.3 73.0h0M99.3 71.4h0M96.1 67.5h0M97.5 71.9h0M100.3 60.1h0M106.1 68.7h0M100.0 70.8h0M102.3 66.2h0M101.7 62.3h0M111.6 66.1h0M109.8 67.7h0M101.0 62.4h0M108.1 56.6h0M102.9 59.0h0M106.5 59.7h0M101.9 59.6h0M97.3 73.0h0M97.5 66.3h0M105.1 63.3h0M98.3 74.5h0M105.0 72.6h0M101.0 68.6h0M105.2 68.0h0M104.2 60.3h0M109.6 73.4h0M99.3 60.8h0M115.1 67.4h0M106.3 73.8h0M98.6 74.8h0M107.0 68.4h0M109.5 73.5h0M109.0 74.6h0M107.1 68.6h0M102.4 74.4h0M103.7 69.5h0M106.1 63.7h0M98.8 70.0h0M103.3 65.2h0M107.9 75.2h0M101.2 68.6h0M104.4 64.0h0M107.7 66.1h0M95.0 69.4h0M101.4 70.9h0M108.6 60.7h0M104.5 69.7h0M100.5 70.0h0M103.3 69.3h0M94.1 70.4h0M104.1 75.2h0M103.8 65.1h0M96.2 66.7h0M94.5 68.7h0M104.1 64.0h0M104.2 72.5h0M101.6 69.3h0M96.5 73.5h0M103.8 74.3h0M95.5 64.2h0M98.0 71.9h0M99.5 74.6h0M113.8 70.7h0M106.8 72.5h0M106.3 63.4h0M105.0 70.5h0M103.8 74.9h0M98.3 73.6h0M110.7 64.8h0M97.1 62.8h0M100.0 67.0h0M101.5 71.6h0M108.6 74.5h0M104.2 64.0h0M98.1 71.7h0M101.3 65.5h0M100.4 74.7h0M101.2 71.2h0M108.7 68.7h0M94.6 72.4h0M98.0 63.9h0M109.1 71.0h0M96.2 66.2h0M98.6 68.4h0M100.9 66.6h0M96.2 72.3h0M105.6 78.3h0M94.1 66.3h0M104.1 66.5h0M106.2 63.6h0M102.7 68.2h0M102.0 63.8h0M106.1 60.6h0M99.9 66.4h0M103.8 61.5h0M103.2 69.5h0M109.1 61.3h0M104.3 74.7h0M101.0 66.6h0M98.8 72.8h0M99.1 71.0h0M106.9 67.3h0M100.8 63.1h0M99.7 63.1h0M107.4 63.4h0M103.8 69.4h0M87.7 64.0h0M102.2 58.6h0M101.3 65.7h0M109.8 69.6h0M102.1 74.5h0M97.4 71.0h0M110.7 63.3h0M101.9 62.5h0M107.9 74.6h0M95.0 70.3h0M100.9 60.6h0M105.9 70.3h0M99.4 67.7h0M105.5 66.8h0M107.9 69.4h0M102.6 60.7h0M101.1 69.9h0M100.1 62.6h0M109.0 74.9h0M106.3 76.3h0M97.4 67.6h0M101.0 70.1h0M111.0 67.8h0M100.5 63.8h0M107.5 62.4h0M104.2 66.2h0M112.3 70.9h0M94.4 70.7h0M105.2 69.4h0M107.0 70.8h0M93.7 62.7h0M104.8 68.0h0M95.7 71.8h0M101.7 67.3h0M99.0 61.8h0M98.4 68.0h0M100.7 61.5h0M94.2 64.9h0M99.9 61.4h0M101.7 74.2h0M111.0 65.2h0M109.0 70.4h0M103.6 71.9h0M104.6 64.2h0M105.8 67.9h0M102.5 75.3h0M104.5 59.7h0M102.8 71.9h0M100.1 76.4h0M95.9 72.6h0M110.9 63.6h0M96.0 63.2h0M101.0 65.8h0M101.8 68.4h0M99.5 68.0h0M106.2 62.2h0M105.8 58.2h0M105.7 66.8h0M105.2 69.5h0M103.5 63.6h0M102.7 68.0h0M102.4 65.7h0M110.0 74.2h0M92.8 71.4h0M101.9 69.5h0M104.5 65.4h0M101.9 66.5h0M96.6 72.9h0M103.9 64.6h0M102.5 65.6h0M108.3 74.7h0M105.2 74.6h0M89.8 73.4h0M100.8 74.9h0M95.9 67.1h0M92.9 74.3h0M102.0 67.8h0M108.9 66.5h0M104.8 68.8h0M98.7 69.7h0M98.0 69.9h0M109.2 75.2h0M97.5 67.3h0M99.0 73.3h0M101.3 62.6h0M108.8 70.2h0M103.8 73.7h0M103.6 58.0h0M103.7 67.5h0M99.3 69.1h0M96.3 66.7h0M107.9 70.1h0M106.3 58.1h0M99.3 70.0h0M106.2 72.2h0M110.3 62.6h0M99.0 65.5h0M106.8 67.2h0M102.9 67.2h0M103.3 73.0h0M101.2 66.9h0M105.4 69.3h0M98.0 69.0h0M97.5 58.4h0M103.3 64.7h0M107.4 72.0h0M102.7 72.5h0M105.6 67.2h0M95.7 76.6h0M111.2 77.1h0M94.2 59.0h0M104.9 75.6h0M103.3 77.8h0M93.9 72.9h0M85.8 60.6h0M93.5 73.3h0M97.6 67.9h0" stroke="#8f6535" stroke-width="1.1" stroke-linecap="round" stroke-opacity="0.8" fill="none"/>
<ellipse cx="137.6" cy="73.4" rx="7.65" ry="6.65" fill="#35c826" fill-opacity="0.81"/>
<path d="M134.1 78.0h0M148.1 72.3h0M130.2 75.4h0M133.8 78.3h0M134.8 73.6h0M124.9 78.9h0M145.9 78.7h0M133.5 76.7h0M127.5 71.7h0M132.0 73.1h0M132.8 72.2h0M143.3 73.9h0M144.8 77.9h0M129.8 75.4h0M129.0 70.3h0M138.2 82.1h0M145.8 72.0h0M135.0 82.0h0M141.8 66.7h0M139.8 72.3h0M136.5 73.8h0M142.1 70.7h0M144.2 73.3h0M140.2 67.1h0M129.6 72.2h0M139.1 68.2h0M140.0 76.0h0M134.4 73.4h0M133.2 68.0h0M140.0 67.8h0M142.7 74.4h0M144.7 75.1h0M147.0 72.8h0M135.2 66.2h0M143.7 73.8h0M136.7 77.5h0M127.6 75.6h0M143.0 74.2h0M130.4 68.2h0M136.0 65.6h0M140.4 74.7h0M139.8 69.5h0M153.8 78.7h0M129.2 70.9h0M131.2 75.5h0M132.1 76.5h0M130.6 79.9h0M135.3 77.3h0M145.5 77.8h0M134.7 71.5h0M134.3 79.5h0M129.4 76.4h0M135.4 78.1h0M127.1 69.2h0M128.2 76.3h0M145.0 69.9h0M135.3 68.1h0M138.0 73.1h0M137.6 74.9h0M145.8 71.8h0M129.2 78.8h0M136.3 75.5h0M139.4 82.1h0M134.7 68.1h0M143.5 74.7h0M139.1 74.9h0M139.2 69.0h0M126.0 70.2h0M143.7 67.7h0M132.8 79.5h0M135.9 79.7h0M132.9 64.5h0M132.3 74.3h0M146.2 70.6h0M132.3 68.4h0M131.3 73.7h0M127.9 76.4h0M145.1 75.6h0M133.5 68.1h0M132.8 72.3h0M136.5 73.0h0M143.6 77.5h0M136.7 75.8h0M136.2 81.6h0M140.9 77.4h0M140.4 77.2h0M143.3 72.8h0M132.8 68.2h0M141.8 80.7h0M142.9 73.9h0M139.0 81.5h0M137.6 68.8h0M146.6 70.0h0M138.8 68.0h0M140.9 68.7h0M130.4 66.8h0M144.6 77.4h0M136.6 75.0h0M128.3 77.8h0M143.4 73.3h0M133.1 76.5h0M145.0 72.2h0M136.0 81.7h0M133.2 73.2h0M134.7 67.7h0M143.3 72.3h0M132.8 79.1h0M142.8 81.9h0M138.2 75.8h0M129.9 66.4h0M130.1 75.1h0M137.7 75.4h0M134.9 67.5h0M144.5 73.7h0M137.6 79.0h0M137.7 65.5h0M131.7 70.0h0M144.9 72.0h0M131.5 72.4h0M133.3 71.9h0M133.9 69.1h0M136.7 79.9h0M140.3 75.9h0M130.8 67.1h0M144.4 76.1h0M131.6 73.9h0M147.1 72.9h0M138.9 68.6h0M141.8 75.8h0M140.5 65.6h0M133.8 71.5h0M131.3 78.6h0M137.8 65.1h0M136.5 73.3h0M134.3 75.2h0M133.1 72.6h0M139.0 70.8h0M126.9 70.9h0M141.2 71.5h0M135.4 79.5h0M141.9 69.0h0M134.3 75.0h0M131.5 76.3h0M130.8 73.3h0M129.2 78.6h0M143.0 78.7h0M138.9 79.1h0M119.0 76.6h0M136.6 76.8h0M127.2 72.6h0M141.0 75.9h0M142.3 63.7h0M143.1 75.6h0M140.1 69.6h0M139.5 85.6h0M139.9 76.0h0M146.7 76.1h0M139.9 67.8h0M137.0 78.2h0M137.2 77.6h0M145.1 73.2h0M135.6 70.5h0M129.9 76.9h0M138.1 70.0h0M141.8 74.1h0M141.4 75.6h0M129.5 78.4h0M145.1 74.7h0M129.3 75.1h0M140.2 66.8h0M133.1 72.0h0M136.1 81.0h0M145.5 70.5h0M135.1 77.4h0M139.1 74.1h0M138.9 71.5h0M130.1 75.1h0M142.5 73.6h0M137.3 85.9h0M136.5 66.7h0M137.2 69.4h0M137.1 69.8h0M141.6 73.9h0M136.1 74.6h0M136.8 71.1h0M147.6 73.4h0M137.8 70.5h0M132.0 69.4h0M145.0 72.6h0M145.4 78.1h0M145.0 68.1h0M141.0 75.4h0M132.4 70.0h0M135.9 80.5h0M141.1 82.7h0M146.2 81.7h0M136.5 75.4h0M143.8 77.7h0M140.0 77.2h0M133.8 80.6h0M145.6 74.4h0M133.4 73.7h0M144.7 68.5h0M143.8 65.5h0M137.4 75.7h0M141.6 80.3h0M133.2 75.0h0M127.7 77.8h0M133.1 60.2h0M142.7 66.1h0M149.9 72.2h0M140.0 71.7h0M133.5 73.9h0M144.7 73.7h0M136.7 81.9h0M141.8 74.5h0M136.7 67.3h0M139.0 70.9h0M140.8 74.3h0M129.1 77.4h0M136.6 76.7h0M135.7 66.7h0M145.9 75.0h0M127.5 72.3h0M132.7 76.9h0M131.1 73.5h0M144.3 65.0h0M145.9 71.9h0M134.7 66.6h0M134.4 70.2h0M123.1 78.2h0M128.9 75.6h0M130.7 74.8h0M151.0 74.8h0M145.9 76.0h0M134.6 78.1h0M144.1 67.2h0M131.2 73.7h0M147.5 69.6h0M146.4 69.1h0M144.2 66.9h0M140.7 67.0h0M132.3 67.6h0M129.1 70.3h0M133.3 71.3h0M138.2 74.3h0M137.5 77.5h0M138.5 65.9h0M128.7 70.8h0M135.4 69.1h0M146.0 68.9h0M142.7 67.7h0M142.9 74.6h0M134.5 72.5h0M134.8 76.5h0M130.2 74.6h0M128.2 74.5h0M144.1 73.1h0M150.0 67.8h0M134.0 70.7h0M137.6 76.7h0M141.6 75.9h0M131.8 68.5h0M132.9 68.8h0M141.8 74.5h0M129.9 75.4h0M136.5 66.2h0M143.3 79.0h0M127.5 75.3h0M132.3 80.7h0M138.3 68.7h0M138.9 66.8h0M135.8 68.8h0M131.8 68.2h0M140.1 71.3h0M141.3 69.1h0M143.2 75.4h0M146.8 76.9h0M137.6 74.9h0M133.9 74.1h0M141.0 79.7h0M140.7 81.8h0M134.5 75.8h0M146.0 78.9h0M146.3 76.8h0M145.9 75.5h0M135.8 77.2h0M144.2 71.8h0M134.4 72.4h0M128.9 71.5h0M138.9 72.9h0M144.7 74.5h0M142.8 66.9h0M140.4 67.6h0M138.2 67.1h0M129.7 76.5h0M144.7 74.9h0M131.6 71.5h0M124.6 65.2h0M144.2 69.9h0M146.5 75.8h0M131.6 68.4h0M138.3 67.5h0M146.9 77.3h0M132.6 69.8h0M134.5 65.2h0M140.2 73.0h0M143.1 75.7h0M134.7 66.0h0M138.8 68.0h0M142.7 70.9h0M145.4 71.9h0M143.7 79.1h0M141.6 76.1h0M148.3 68.7h0M129.7 75.4h0M144.2 77.5h0M128.3 73.5h0M128.0 69.8h0M127.2 80.8h0M134.8 76.6h0M135.4 81.1h0M142.7 69.8h0M142.6 80.9h0M139.0 72.4h0M128.9 72.6h0M142.5 79.5h0M153.0 77.7h0M139.4 73.7h0M138.1 73.6h0M145.6 73.5h0M137.5 68.3h0M142.9 68.3h0M139.0 76.0h0M144.9 69.0h0M143.3 73.3h0M135.5 77.9h0M129.6 68.4h0M141.5 68.6h0M131.5 69.8h0M141.7 74.9h0M132.3 69.9h0M133.8 72.5h0M128.5 71.0h0M134.1 71.3h0M139.4 63.5h0M133.7 79.0h0M142.2 69.5h0M141.7 77.9h0M146.7 74.2h0M138.0 74.7h0M137.3 76.5h0M136.8 69.3h0M147.0 77.0h0M141.9 72.2h0M145.2 72.8h0M138.8 71.4h0M137.5 76.0h0M145.6 70.1h0M129.2 72.3h0M143.8 77.5h0M138.1 67.4h0M137.1 75.3h0M143.1 77.8h0M129.4 75.7h0M129.7 74.7h0M140.4 70.2h0M137.1 68.8h0M141.4 65.6h0M138.2 80.8h0M136.8 81.1h0M133.1 75.1h0M132.1 67.3h0M134.8 69.7h0M135.7 76.5h0M135.6 72.6h0M146.0 74.5h0M133.9 75.0h0M131.8 73.9h0M128.6 77.1h0M131.0 75.3h0M130.8 71.6h0M145.5 79.2h0M136.1 72.1h0M135.9 75.5h0M140.5 75.1h0M127.6 80.9h0M133.4 66.3h0M131.8 69.5h0M142.7 75.8h0M147.2 69.5h0M139.1 76.6h0M141.5 77.7h0M138.1 71.6h0M128.7 74.6h0M141.8 67.3h0M132.0 76.5h0M135.4 82.4h0M141.2 72.1h0M138.1 65.5h0M130.0 72.6h0M142.0 71.5h0M130.9 68.6h0M132.0 83.1h0M129.0 72.7h0M146.4 73.7h0M139.4 70.1h0M131.1 70.5h0M141.4 71.0h0M138.1 65.2h0M135.7 67.5h0M141.7 80.0h0M137.6 68.6h0M135.1 76.4h0M130.2 81.2h0M134.3 71.8h0M145.1 68.9h0M137.5 70.1h0M140.4 70.7h0M131.8 69.3h0M136.5 77.2h0M129.8 73.7h0M138.7 80.5h0M140.3 67.8h0M141.4 77.2h0M142.3 76.3h0M129.3 74.4h0M133.9 74.8h0M133.4 78.1h0M138.8 76.8h0M140.2 74.0h0M146.4 73.3h0M136.6 79.9h0M136.5 64.4h0M141.8 68.7h0M135.1 66.0h0M131.3 73.4h0M129.2 68.5h0M142.3 77.5h0M129.5 77.1h0M140.8 77.4h0M142.1 80.7h0M129.2 71.2h0M144.3 70.4h0M134.2 71.5h0M135.0 65.3h0M134.0 76.2h0M142.8 80.9h0M146.1 71.8h0M138.2 76.8h0M141.4 71.4h0M130.9 68.6h0M142.2 74.2h0M128.0 70.9h0M133.7 66.7h0M126.2 67.4h0M144.7 73.4h0M143.6 78.6h0M134.3 80.1h0M128.3 75.9h0M131.5 77.8h0M147.3 86.7h0M136.1 77.8h0M132.1 79.8h0M143.9 74.7h0M128.1 65.5h0M141.7 81.7h0M130.8 78.6h0M141.2 75.6h0M138.9 78.4h0M135.9 74.7h0M128.9 70.5h0M143.9 66.5h0M131.6 78.3h0M130.7 85.9h0M141.0 65.1h0M144.7 73.4h0M131.5 68.0h0M127.1 74.8h0M136.6 85.0h0M129.2 74.5h0M146.8 83.6h0M138.4 71.6h0M130.8 77.6h0M136.3 76.4h0M139.8 75.5h0M147.8 72.7h0M133.7 71.0h0M147.6 74.9h0M138.8 74.1h0M135.2 80.5h0M130.6 71.6h0M144.4 79.9h0M128.2 76.7h0M130.5 69.3h0M139.7 68.3h0M129.9 76.3h0M122.8 71.1h0M139.1 81.0h0M146.4 69.1h0M135.4 71.2h0M131.8 70.4h0M142.1 81.3h0M128.4 61.5h0M138.1 67.2h0M144.1 73.4h0M139.5 75.7h0M139.5 79.1h0M140.4 78.1h0M146.6 72.3h0M136.5 62.3h0M143.3 69.8h0M138.3 67.0h0M133.4 74.9h0M134.2 77.3h0M131.8 80.2h0M144.6 79.8h0M142.9 70.1h0M145.6 75.7h0M141.1 68.7h0M134.2 76.7h0M139.7 71.2h0M140.6 73.3h0M133.9 67.3h0M133.3 69.3h0M130.9 69.0h0M139.0 65.2h0M136.7 72.2h0M145.2 67.1h0M135.2 79.3h0M130.6 67.9h0M134.5 75.1h0M134.1 69.3h0M133.8 74.3h0M141.3 68.8h0M149.0 67.5h0M141.6 76.0h0M139.3 75.1h0M132.4 75.5h0M143.2 78.4h0M145.8 77.8h0M129.8 70.4h0M128.3 74.0h0M137.5 74.8h0M139.8 69.5h0M130.9 73.5h0M136.1 81.7h0M140.7 75.2h0M137.3 70.2h0M134.7 65.7h0M134.3 71.5h0M147.6 67.5h0M135.1 80.5h0M134.5 67.5h0M140.7 79.6h0M136.3 74.7h0M137.9 65.5h0M132.9 73.1h0M140.3 80.3h0M145.4 72.1h0M141.2 76.5h0M140.3 74.6h0M133.9 76.3h0M137.3 71.4h0M134.1 73.0h0M140.2 65.6h0M141.0 72.4h0M133.9 71.1h0M131.6 68.4h0M141.9 67.9h0M132.0 75.7h0M132.7 69.9h0M128.5 78.0h0M141.0 66.2h0M134.4 76.7h0M140.2 74.6h0M132.4 80.1h0M134.0 73.6h0M134.7 82.3h0M137.0 68.0h0M130.6 68.6h0M142.6 75.7h0M133.2 73.1h0M146.9 77.6h0M129.9 78.9h0M141.7 74.9h0M135.0 80.3h0M131.1 69.3h0M136.6 81.3h0M142.7 72.7h0M133.1 76.0h0M142.0 76.4h0M140.9 80.6h0M135.4 62.9h0M139.3 74.1h0M127.6 72.2h0M128.6 73.7h0M128.5 75.3h0M144.9 77.6h0M136.6 73.1h0M137.7 70.5h0M140.3 72.1h0M131.6 81.0h0M137.0 64.9h0M132.1 78.0h0M145.1 72.6h0M140.9 73.1h0M139.8 74.0h0M143.3 78.7h0M128.1 72.1h0M131.9 81.2h0M135.6 64.4h0M141.0 79.1h0M137.4 64.9h0M135.5 75.0h0M127.3 77.8h0M128.7 73.2h0M124.0 68.0h0M126.5 67.3h0M127.4 75.6h0M131.0 71.4h0M136.0 71.2h0M130.4 79.8h0M122.0 74.6h0M130.1 70.4h0M113.5 71.4h0M127.8 72.8h0M125.1 77.7h0M128.8 69.1h0M125.7 79.7h0M132.7 73.5h0M131.6 72.2h0M126.9 76.2h0M131.7 77.9h0M128.8 74.8h0M132.9 73.4h0M134.0 75.7h0M128.5 79.8h0M131.6 69.4h0M128.8 75.9h0M126.6 77.2h0M132.4 73.7h0M138.1 78.9h0M121.8 70.9h0M118.8 70.3h0M115.6 76.5h0M131.5 76.6h0M132.9 82.7h0M131.7 70.7h0M135.9 70.7h0M130.3 70.6h0M126.7 70.9h0M119.4 83.3h0M142.5 88.3h0M144.7 73.6h0M147.5 73.1h0M149.4 73.5h0M140.5 57.5h0M133.5 76.6h0M139.1 72.8h0M149.7 84.2h0M124.8 74.2h0M142.7 92.3h0M140.9 69.5h0M136.8 84.5h0M112.7 82.3h0" stroke="#35c826" stroke-width="1.1" stroke-linecap="round" stroke-opacity="0.8" fill="none"/>
<ellipse cx="21.0" cy="103.7" rx="5.63" ry="4.9" fill="#c8bd1e" fill-opacity="0.44"/>
<path d="M21.4 110.4h0M26.7 108.4h0M26.8 104.1h0M16.6 98.4h0M26.4 96.8h0M15.3 98.3h0M17.2 110.2h0M22.2 100.7h0M23.8 110.5h0M24.9 112.1h0M25.8 110.4h0M22.5 100.5h0M14.2 97.4h0M23.5 108.7h0M16.6 108.6h0M25.0 110.3h0M22.3 103.3h0M25.7 100.6h0M14.1 97.3h0M23.7 99.4h0M16.3 106.3h0M29.1 103.5h0M29.5 98.5h0M17.7 99.7h0M21.3 101.6h0M23.4 99.5h0M14.9 110.2h0M13.3 104.9h0M15.0 109.9h0M14.1 108.3h0M21.3 95.5h0M14.6 100.6h0M13.0 97.9h0M18.9 103.5h0M26.0 104.7h0M24.9 98.3h0M17.6 100.0h0M23.9 98.9h0M24.4 101.9h0M21.9 97.6h0M26.2 95.8h0M21.3 104.7h0M10.9 105.3h0M30.7 105.1h0M17.4 101.0h0M26.9 104.6h0M22.8 95.6h0M13.3 107.6h0M16.0 106.9h0M15.5 106.2h0M26.3 102.7h0M9.1 102.3h0M11.4 106.5h0M18.5 106.6h0M25.6 100.2h0M16.0 101.2h0M27.8 104.1h0M11.6 105.3h0M22.0 106.1h0M24.2 108.5h0M17.3 109.3h0M18.2 99.0h0M15.3 102.0h0M11.8 105.6h0M19.2 107.8h0M21.1 112.1h0M15.2 104.4h0M20.9 101.5h0M23.0 100.0h0M22.8 111.8h0M13.9 103.3h0M25.1 101.8h0M19.7 106.4h0M25.4 100.9h0M23.6 97.2h0M31.8 112.0h0M24.8 111.0h0M17.6 100.1h0M26.9 103.5h0M25.6 98.1h0M28.1 97.7h0M17.5 99.8h0M15.1 105.1h0M10.2 111.2h0M21.2 104.3h0M21.5 105.9h0M27.9 107.4h0M22.0 109.7h0M14.5 107.5h0M15.9 101.2h0M31.3 105.6h0M16.9 102.8h0M25.4 109.9h0M13.8 92.2h0M31.0 106.3h0M13.5 113.4h0M15.3 96.2h0M24.3 111.5h0M17.2 112.2h0M23.1 104.3h0M18.0 110.6h0M13.0 113.3h0M15.9 98.7h0M29.8 105.5h0M26.0 103.6h0M18.9 100.8h0M29.9 106.3h0M26.0 99.1h0M15.1 107.0h0M16.8 108.0h0M11.9 102.4h0M27.4 99.5h0M13.1 100.6h0M22.2 103.0h0M18.3 107.4h0M15.2 106.5h0M27.0 110.4h0M19.9 100.4h0M24.7 101.5h0M17.5 101.9h0M26.3 110.9h0M20.0 98.3h0M23.3 102.7h0M29.1 102.5h0M20.0 105.1h0M14.8 104.3h0M25.3 106.1h0M24.1 107.2h0M17.3 99.6h0M27.0 99.6h0M15.5 103.2h0M21.4 91.1h0M12.8 105.4h0M20.4 107.4h0M24.4 100.3h0M30.9 105.4h0M18.5 95.9h0M24.6 110.2h0M17.0 99.5h0M13.5 109.1h0M26.3 111.7h0M21.8 100.5h0M21.8 98.2h0M16.5 109.7h0M22.3 107.0h0M22.1 112.2h0M21.9 100.8h0M25.3 108.0h0M25.8 107.1h0M16.5 108.4h0M27.6 106.2h0M26.8 105.3h0M29.7 106.3h0M17.0 94.3h0M18.8 107.5h0M28.2 104.9h0M13.3 99.8h0M18.3 104.1h0M18.6 103.4h0M22.3 111.2h0M10.6 100.4h0M21.3 106.0h0M22.3 109.5h0M29.4 108.7h0M24.3 101.4h0M11.5 105.9h0M23.3 107.4h0M18.6 110.4h0M23.8 101.0h0M27.5 100.9h0M17.9 99.7h0M30.2 103.5h0M24.4 101.7h0M26.8 96.6h0M23.0 95.3h0M19.1 96.0h0M11.2 106.1h0M20.4 103.9h0M20.5 108.8h0M27.4 98.8h0M27.6 97.7h0M17.6 100.8h0M16.9 107.5h0M6.7 102.9h0M22.0 108.4h0M19.7 104.4h0M12.7 103.8h0M29.8 108.2h0M26.0 99.8h0M22.8 98.8h0M20.1 107.0h0M18.3 105.5h0M16.5 105.7h0M16.8 104.4h0M14.8 100.3h0M19.9 109.5h0M25.0 105.8h0M19.4 109.1h0M19.2 104.3h0M17.8 97.4h0M18.1 101.4h0M19.2 104.6h0M22.2 100.0h0M18.6 96.1h0M29.9 108.6h0M21.0 106.1h0M26.6 103.3h0M25.7 100.3h0M27.1 104.0h0M12.7 105.4h0M23.1 108.5h0M19.3 97.2h0M13.1 90.3h0M17.9 98.9h0M14.7 107.0h0M21.0 99.9h0M12.8 102.4h0M24.9 104.4h0M25.4 101.7h0M28.8 106.5h0M21.4 103.3h0M28.2 97.6h0M14.7 105.0h0M24.6 104.5h0M19.2 95.5h0M27.3 101.4h0M18.9 111.9h0M13.9 101.8h0M23.0 98.8h0M16.6 105.3h0M24.8 104.7h0M27.7 108.3h0M27.3 104.2h0M20.0 110.9h0M21.0 103.1h0M17.2 100.4h0M22.6 107.9h0M23.7 112.1h0M22.4 104.7h0M25.5 92.4h0M16.1 101.5h0M25.2 95.4h0M29.7 101.6h0M21.5 100.0h0M11.9 100.7h0M24.5 110.0h0M20.8 106.7h0M13.2 104.9h0M17.9 104.1h0M26.2 97.1h0M27.1 100.6h0M12.0 106.4h0M27.4 97.6h0M20.1 107.7h0M29.1 102.6h0M21.1 108.3h0M17.2 103.8h0M19.9 114.0h0M23.1 96.3h0M23.2 112.3h0M16.7 103.3h0M23.1 98.0h0M23.1 103.1h0M16.7 96.9h0M13.0 94.1h0M22.0 94.8h0M24.7 102.7h0M15.2 101.1h0M22.5 106.2h0M25.6 111.8h0M27.4 102.9h0M23.9 111.2h0M19.8 95.1h0M30.3 104.3h0M28.3 100.0h0M20.8 111.7h0M21.6 109.6h0M18.3 98.9h0M17.8 98.5h0M26.7 109.2h0M20.4 102.8h0M9.8 108.3h0M21.6 100.5h0M15.6 100.3h0M24.6 100.0h0M14.8 101.7h0M14.4 107.2h0M16.8 108.9h0M26.1 97.2h0M26.9 111.1h0M22.4 99.9h0M14.7 97.9h0M28.6 103.3h0M18.8 106.4h0M17.5 98.4h0M28.8 106.7h0M18.2 110.7h0M31.8 101.7h0M21.1 104.0h0M24.9 101.0h0M18.5 98.3h0M18.4 97.1h0M24.3 100.8h0M21.4 99.1h0M18.2 109.7h0M28.5 97.6h0M24.9 98.0h0M30.2 101.7h0M10.7 105.3h0M25.5 100.4h0M26.3 99.5h0M24.1 110.5h0M11.3 99.7h0M16.7 104.8h0M29.9 105.7h0M12.1 106.7h0M20.9 101.2h0M25.5 106.2h0M25.7 111.3h0M11.7 108.2h0M13.6 106.6h0M15.6 102.8h0M22.1 111.0h0M25.9 98.6h0M17.4 111.5h0M25.5 108.6h0M30.9 104.0h0M18.6 105.0h0M27.2 101.1h0M14.1 99.9h0M25.3 105.2h0M24.5 116.1h0M24.2 102.6h0M23.5 104.9h0M14.9 101.6h0M28.7 105.6h0M22.0 98.1h0M17.8 102.2h0M25.9 110.5h0M33.4 96.0h0M22.3 107.8h0M25.6 109.0h0M17.3 102.8h0M14.4 108.5h0M15.4 97.9h0M12.0 97.7h0M11.6 106.0h0M16.4 99.0h0M27.5 108.4h0M19.9 99.4h0M21.3 100.2h0M5.9 100.9h0M20.5 105.0h0M21.6 106.1h0M21.5 108.3h0M16.3 109.7h0M15.0 97.3h0M29.2 98.6h0M27.7 107.6h0M22.4 103.9h0M22.9 103.3h0M15.8 110.3h0M14.6 96.8h0M18.1 106.2h0M24.9 108.5h0M31.5 90.6h0M20.2 99.8h0M17.2 109.2h0M24.7 96.1h0M17.3 109.0h0M20.2 104.4h0M27.3 106.7h0M27.3 107.1h0M17.5 106.5h0M24.6 96.5h0M19.5 104.2h0M13.0 105.3h0M26.0 105.7h0M27.3 104.3h0M20.2 100.5h0M19.2 105.1h0M18.6 107.8h0M24.7 104.6h0M29.9 99.9h0M12.7 106.6h0M23.4 101.3h0M19.2 101.3h0M24.2 97.9h0M23.7 103.0h0M21.5 94.8h0M20.1 100.0h0M15.8 96.9h0M29.8 102.5h0M14.1 105.9h0M14.0 106.7h0M15.1 109.4h0M19.7 107.3h0M21.3 101.1h0M20.3 101.0h0M16.0 102.0h0M28.4 107.2h0M25.1 108.0h0M25.4 98.2h0M28.5 109.7h0M28.7 102.3h0M27.9 98.1h0M23.7 101.8h0M25.4 110.6h0M16.9 109.9h0M13.8 98.6h0M30.0 102.2h0M25.2 100.2h0M25.5 101.0h0M14.4 104.6h0M25.7 108.4h0M17.4 104.5h0M14.7 99.0h0M19.4 100.6h0M27.2 110.3h0M26.6 105.7h0M16.4 105.0h0M19.4 108.5h0M18.5 110.0h0M20.5 110.7h0M24.7 111.3h0M18.4 106.5h0M17.8 109.9h0M20.7 97.0h0M21.5 100.0h0M25.1 107.4h0M28.2 107.6h0M17.4 95.7h0M22.7 110.7h0M17.3 105.0h0M20.8 104.7h0M17.5 102.9h0M18.3 106.2h0M26.1 99.2h0M24.9 110.7h0M15.8 110.2h0M20.2 95.9h0M12.3 106.6h0M20.8 104.6h0M26.9 97.5h0M18.9 97.1h0M12.8 98.6h0M14.9 103.0h0M22.9 99.4h0M22.5 107.8h0M25.3 99.8h0M18.8 109.1h0M19.3 106.5h0M28.9 99.1h0M13.7 106.1h0M15.0 96.2h0M21.4 102.7h0M20.9 98.3h0M13.1 98.8h0M22.2 108.5h0M28.2 98.4h0M24.4 109.9h0M9.7 103.5h0M23.3 109.0h0M19.3 108.9h0M15.6 100.3h0M14.6 102.4h0M27.7 104.6h0M25.6 108.2h0M17.6 110.2h0M19.2 106.5h0M25.9 98.1h0M27.7 103.4h0M21.2 103.0h0M24.2 102.3h0M27.1 110.0h0M18.3 95.9h0M30.3 106.7h0M14.8 108.9h0M19.1 112.0h0M12.5 98.8h0M19.6 97.0h0M15.3 110.1h0M32.7 105.1h0M15.3 96.2h0M36.2 99.9h0M31.1 110.9h0M26.2 110.7h0M33.5 103.7h0M38.7 107.1h0M33.8 107.9h0M36.7 103.9h0M15.9 105.5h0M33.4 100.1h0M26.5 106.1h0M27.7 101.4h0M28.7 95.0h0M31.4 110.3h0M21.0 107.9h0M24.6 99.9h0M34.2 113.1h0M20.3 91.9h0M19.9 97.0h0M39.9 98.0h0M27.0 110.6h0M28.5 108.1h0M23.7 104.1h0M24.8 108.2h0M22.7 100.7h0M28.1 96.1h0M34.3 113.3h0M18.6 109.5h0M33.2 104.9h0M36.8 95.5h0M33.1 108.8h0M29.4 106.2h0M21.5 104.7h0M18.7 97.4h0M36.0 103.2h0M38.7 102.2h0M35.7 96.3h0M32.2 104.8h0M26.3 103.7h0M26.3 102.8h0M18.4 99.9h0M29.7 109.7h0M29.5 96.4h0M33.1 106.0h0M31.6 106.9h0M39.8 106.9h0M19.9 104.2h0M25.3 112.5h0M29.5 93.7h0M19.7 103.2h0M27.6 96.0h0M22.5 98.6h0M30.1 110.8h0M29.8 103.0h0M13.5 101.3h0M12.8 116.4h0M43.6 100.1h0M11.0 105.5h0M22.0 112.6h0M15.2 102.0h0M20.9 102.2h0M25.1 108.1h0M25.5 87.4h0M26.6 105.4h0M1.1 104.3h0M13.8 102.5h0M8.8 110.8h0M27.9 112.8h0" stroke="#c8bd1e" stroke-width="1.1" stroke-linecap="round" stroke-opacity="0.8" fill="none"/>
<ellipse cx="49.7" cy="115.0" rx="4.2" ry="4.2" fill="#7b708f" fill-opacity="0.32"/>
<path d="M54.4 117.9h0M48.2 107.1h0M44.9 118.9h0M51.7 110.6h0M49.4 110.1h0M49.1 115.0h0M50.3 113.9h0M52.2 123.2h0M49.3 112.6h0M53.2 121.6h0M50.1 120.9h0M41.5 118.5h0M51.0 123.2h0M53.6 112.2h0M42.2 115.1h0M47.1 109.4h0M41.9 114.7h0M49.0 110.4h0M49.1 112.9h0M42.2 111.2h0M51.1 110.1h0M49.7 110.5h0M56.1 110.9h0M41.5 111.3h0M45.6 110.5h0M55.2 112.3h0M41.2 117.9h0M53.0 103.7h0M42.7 112.8h0M41.5 114.7h0M44.3 116.8h0M47.0 112.5h0M56.0 113.7h0M43.5 116.1h0M50.0 108.6h0M48.0 116.6h0M41.4 114.6h0M47.6 111.0h0M48.0 120.8h0M43.5 116.7h0M48.3 108.4h0M47.1 112.6h0M49.0 117.4h0M45.5 122.5h0M46.5 122.4h0M48.2 113.5h0M47.0 118.2h0M56.4 118.4h0M46.9 112.9h0M47.7 116.2h0M49.7 114.6h0M49.2 108.0h0M48.4 118.2h0M49.7 121.2h0M44.3 112.5h0M49.2 121.0h0M53.6 107.3h0M48.3 108.5h0M57.5 117.6h0M48.4 115.4h0M51.2 119.0h0M55.5 116.7h0M51.9 113.7h0M43.1 119.5h0M45.7 115.0h0M50.1 120.5h0M49.4 122.1h0M51.6 106.7h0M47.2 120.7h0M47.9 113.3h0M47.3 115.2h0M47.7 112.9h0M50.3 113.9h0M53.7 110.2h0M50.0 118.3h0M50.2 110.8h0M49.4 110.6h0M57.7 112.6h0M45.9 119.8h0M50.2 121.7h0M47.7 123.6h0M50.4 106.6h0M42.2 112.9h0M56.1 120.2h0M51.2 112.3h0M53.3 111.4h0M49.0 116.9h0M53.9 117.4h0M42.3 113.1h0M42.9 116.1h0M44.1 116.1h0M49.9 118.9h0M57.5 113.3h0M49.7 114.2h0M47.3 121.3h0M44.3 130.4h0M52.0 119.3h0M55.8 122.2h0M53.6 108.1h0M45.7 120.0h0M50.2 123.0h0M46.4 117.2h0M57.0 109.9h0M48.6 112.6h0M47.2 126.8h0M52.5 111.9h0M52.5 117.3h0M52.0 114.1h0M51.4 118.1h0M45.4 109.6h0M48.9 121.2h0M57.1 106.9h0M47.9 118.6h0M51.3 107.9h0M48.4 112.5h0M52.5 111.0h0M45.9 114.2h0M58.8 117.1h0M57.7 112.1h0M43.8 114.7h0M42.9 120.3h0M50.4 122.7h0M54.0 113.6h0M54.5 116.7h0M54.2 115.5h0M50.5 106.3h0M55.7 111.7h0M52.3 106.3h0M56.6 114.8h0M43.8 114.1h0M50.0 105.6h0M49.5 124.1h0M49.4 121.1h0M54.5 118.2h0M52.7 117.6h0M55.5 113.8h0M44.8 103.4h0M54.9 112.1h0M42.6 119.9h0M55.5 120.1h0M44.0 119.5h0M43.4 116.9h0M46.9 120.1h0M43.1 123.8h0M44.3 114.2h0M54.6 109.2h0M41.5 110.2h0M53.0 123.5h0M45.1 118.9h0M53.4 113.5h0M55.6 119.6h0M48.2 106.7h0M47.7 122.4h0M47.4 116.3h0M51.1 108.1h0M44.7 120.0h0M57.2 119.4h0M45.8 119.7h0M53.5 113.0h0M53.6 116.6h0M56.1 108.8h0M56.2 112.1h0M46.9 119.8h0M46.0 120.2h0M55.3 110.2h0M44.9 112.8h0M46.5 113.9h0M50.1 118.2h0M49.8 120.4h0M54.3 111.7h0M45.0 112.3h0M51.3 115.0h0M54.3 115.8h0M43.0 117.5h0M48.2 114.4h0M56.9 111.2h0M44.7 122.3h0M43.4 108.3h0M55.3 120.5h0M42.5 110.6h0M50.2 114.1h0M43.5 117.6h0M51.0 117.5h0M54.4 113.4h0M60.2 118.2h0M47.9 113.0h0M48.5 117.9h0M50.0 123.5h0M43.8 115.6h0M44.8 109.7h0M54.4 115.8h0M49.5 115.2h0M41.0 115.4h0M54.5 112.0h0M57.5 117.2h0M42.7 120.6h0M41.5 111.3h0M52.3 112.8h0M45.3 112.1h0M54.7 112.7h0M51.9 115.5h0M54.8 113.1h0M44.8 108.9h0M46.1 115.0h0M49.6 112.1h0M56.1 118.6h0M56.5 109.7h0M50.0 123.4h0M56.9 113.8h0M51.6 109.2h0M41.8 113.8h0M50.4 109.1h0M45.9 107.8h0M46.0 113.3h0M42.4 115.8h0M47.8 112.9h0M54.0 109.5h0M49.3 119.9h0M40.6 114.9h0M47.2 120.5h0M57.7 114.7h0M50.9 123.9h0M44.4 107.6h0M47.9 117.5h0M42.9 113.7h0M47.9 119.1h0M55.2 121.2h0M55.8 118.8h0M57.8 113.8h0M57.4 115.4h0M55.4 120.9h0M50.2 115.1h0M44.6 112.1h0M46.9 120.8h0M48.2 117.0h0M49.6 123.5h0M48.3 119.7h0M50.6 113.2h0M55.4 111.1h0M48.8 115.7h0M42.6 115.9h0M53.7 114.9h0M59.1 117.5h0M48.4 120.9h0M56.7 113.7h0M48.0 110.0h0M54.2 110.4h0M45.2 113.3h0M44.6 117.7h0M57.6 115.2h0M50.9 120.8h0M48.1 124.0h0M50.9 114.5h0M45.5 113.9h0M46.3 108.8h0M47.5 106.8h0M54.4 107.1h0M54.5 119.5h0M54.6 111.8h0M57.1 109.6h0M54.5 114.8h0M50.5 117.2h0M56.8 117.3h0M45.0 119.7h0M50.5 108.8h0M55.9 118.8h0M54.7 115.3h0M48.4 111.2h0M47.6 121.7h0M55.9 115.9h0M44.2 111.0h0M44.2 107.8h0M51.7 121.8h0M55.9 114.6h0M47.4 115.3h0M56.0 114.9h0M51.4 114.8h0M50.9 107.9h0M52.7 114.8h0M54.4 111.7h0M46.1 122.2h0M54.7 115.6h0M50.4 122.5h0M56.2 109.2h0M50.2 113.1h0M42.2 110.0h0M55.4 111.1h0M50.7 107.6h0M46.9 114.9h0M47.9 104.6h0M56.2 115.5h0M53.3 112.3h0M52.1 116.2h0M52.2 113.9h0M44.1 120.8h0M48.4 112.2h0M55.3 117.5h0M49.4 121.7h0M54.5 118.7h0M57.5 117.3h0M50.2 115.5h0M48.1 114.5h0M52.7 122.0h0M47.8 109.1h0M46.0 116.3h0M54.3 117.5h0M51.8 123.0h0M47.5 108.7h0M56.5 118.7h0M51.4 111.4h0M56.5 120.3h0M48.7 123.4h0M45.7 115.9h0M45.1 116.3h0M41.1 112.7h0M49.0 123.7h0M49.5 123.6h0M55.4 117.3h0M51.3 118.4h0M61.8 115.2h0M45.5 119.7h0M47.6 108.1h0M57.1 114.9h0M43.5 109.0h0M57.1 119.5h0M48.5 110.0h0M53.6 112.1h0M48.0 122.3h0M48.2 120.1h0M50.0 111.5h0M49.1 114.1h0M44.7 118.7h0M57.1 119.3h0M50.2 112.4h0M53.9 123.3h0M46.3 112.4h0M51.8 116.2h0M52.8 107.7h0M49.0 118.0h0M41.0 113.0h0M43.9 109.4h0M46.1 117.9h0M53.3 111.2h0M56.2 119.1h0M44.0 116.6h0M52.9 111.5h0M45.8 121.5h0M41.3 106.2h0M47.0 119.4h0M61.3 122.6h0M53.2 121.9h0M52.9 115.8h0M51.9 112.1h0M58.3 118.4h0M51.1 119.2h0M45.8 117.8h0M49.6 111.3h0M46.0 118.5h0M46.3 117.4h0M49.6 111.2h0M46.6 116.9h0M56.0 112.3h0M43.3 114.5h0M47.4 116.4h0M47.1 113.0h0M42.9 119.1h0M48.0 108.2h0M51.4 108.6h0M52.0 118.6h0M56.3 110.8h0M52.8 113.1h0M50.4 107.7h0M50.8 117.5h0M58.5 115.2h0M42.0 110.6h0M63.3 117.2h0M48.1 123.8h0M43.8 119.3h0M47.6 114.9h0M48.2 112.5h0M50.3 109.2h0M46.3 119.4h0M56.1 111.0h0M49.8 115.9h0M56.0 113.8h0M58.4 113.7h0M50.3 111.4h0M41.2 115.9h0M52.3 119.0h0M46.5 117.5h0M46.0 108.2h0M54.1 118.5h0M41.2 114.0h0M54.7 110.3h0M45.3 121.0h0M54.0 119.9h0M42.5 118.9h0M49.0 112.7h0M52.9 113.6h0M41.0 121.4h0M49.5 118.4h0M53.5 113.4h0M45.7 113.7h0M48.4 106.7h0M51.7 119.2h0M50.8 108.2h0M56.4 112.3h0M49.6 115.3h0M49.1 120.6h0M49.3 116.0h0M52.0 110.2h0M48.6 119.1h0M47.0 117.0h0M50.4 113.3h0M56.9 119.2h0M43.9 121.6h0M50.2 117.9h0M56.4 117.7h0M54.2 118.3h0M42.0 113.0h0M41.1 117.9h0M50.0 107.5h0M42.8 119.5h0M53.4 121.5h0M50.5 114.5h0M56.1 111.1h0M44.1 117.8h0M56.3 117.7h0M43.5 114.8h0M43.8 114.8h0M49.7 122.5h0M48.8 118.9h0M57.7 106.1h0M48.6 110.8h0M56.1 105.1h0M51.2 102.4h0M50.9 115.7h0M59.8 107.3h0M48.7 125.0h0M53.7 109.0h0M56.6 106.1h0M53.8 113.2h0M61.8 105.4h0M55.7 109.8h0M62.3 110.4h0M52.5 112.5h0M54.1 108.9h0M50.9 103.1h0M54.3 110.8h0M57.4 105.4h0M44.3 113.6h0M50.3 107.3h0M60.8 121.3h0M63.1 120.7h0M51.4 107.7h0M52.0 108.8h0M50.3 113.1h0M51.7 107.4h0M44.7 110.4h0M46.6 107.5h0M49.5 109.5h0M59.8 115.0h0M36.8 106.2h0M50.5 112.7h0M57.0 106.4h0M54.5 110.0h0M42.6 117.4h0M55.4 112.8h0M57.5 108.4h0M51.5 115.5h0M60.2 106.3h0M55.1 105.3h0M58.0 114.1h0M43.3 110.2h0M55.0 117.7h0M54.3 112.0h0M60.4 112.2h0M47.9 104.5h0M49.1 106.7h0M49.0 115.5h0M55.3 105.8h0M54.3 112.3h0M56.8 104.8h0M60.3 107.2h0M54.7 110.4h0M59.8 108.8h0M44.9 111.5h0M54.3 111.5h0M44.7 114.7h0M51.9 111.4h0M47.2 110.6h0M37.8 109.6h0M31.7 116.3h0M60.8 120.4h0M48.3 110.7h0M35.5 112.7h0M60.6 119.5h0M34.0 100.0h0M51.3 101.5h0M34.6 123.6h0M33.4 113.4h0M53.4 124.0h0M36.5 113.9h0M60.6 97.5h0M40.4 112.6h0" stroke="#7b708f" stroke-width="1.1" stroke-linecap="round" stroke-opacity="0.8" fill="none"/>
<ellipse cx="129.0" cy="106.5" rx="5.6" ry="4.76" fill="#e266a4" fill-opacity="0.58"/>
<path d="M126.5 109.9h0M128.0 103.6h0M127.4 106.9h0M127.3 106.9h0M129.8 106.4h0M129.0 107.8h0M129.8 101.8h0M129.4 100.4h0M125.7 102.5h0M122.2 109.3h0M126.1 100.0h0M144.5 108.4h0M120.8 106.7h0M126.1 103.3h0M125.3 103.6h0M128.5 109.6h0M133.1 103.4h0M126.5 103.7h0M137.9 105.4h0M128.4 100.9h0M135.2 106.6h0M128.5 112.8h0M133.5 102.0h0M129.1 110.2h0M123.7 103.3h0M121.3 108.4h0M128.5 102.4h0M136.8 106.1h0M130.8 106.8h0M123.6 105.8h0M126.5 102.2h0M129.8 112.0h0M134.0 108.4h0M133.8 112.2h0M133.3 101.4h0M127.9 110.2h0M132.2 110.6h0M132.3 111.6h0M135.9 105.0h0M136.9 104.4h0M123.4 110.5h0M124.1 108.4h0M124.7 108.8h0M123.7 109.0h0M130.5 112.1h0M123.2 108.3h0M137.5 103.6h0M127.7 109.0h0M137.2 106.7h0M124.5 106.8h0M128.6 109.7h0M133.0 104.9h0M128.2 101.0h0M128.2 113.3h0M124.3 102.0h0M132.8 100.4h0M132.8 107.3h0M128.0 103.6h0M124.1 111.6h0M129.4 111.3h0M125.2 107.7h0M129.8 111.1h0M130.8 107.1h0M131.5 101.9h0M131.5 108.6h0M134.0 100.1h0M129.3 99.3h0M130.1 113.2h0M128.5 113.9h0M130.0 113.3h0M131.4 107.3h0M132.4 104.6h0M136.1 111.2h0M132.2 104.7h0M126.2 100.8h0M134.8 112.0h0M124.7 102.6h0M127.1 102.0h0M126.3 106.3h0M135.5 108.2h0M131.9 99.3h0M120.0 105.1h0M132.9 107.4h0M132.4 109.2h0M123.0 106.1h0M121.0 106.9h0M126.7 107.0h0M128.7 114.2h0M129.8 103.7h0M128.8 103.0h0M129.6 107.6h0M126.5 110.8h0M121.5 102.7h0M125.6 109.2h0M127.9 109.8h0M125.2 101.9h0M128.3 111.9h0M137.7 104.4h0M129.0 110.5h0M129.1 107.1h0M126.1 102.3h0M131.2 111.4h0M135.4 108.9h0M126.4 108.4h0M131.3 108.4h0M122.3 109.6h0M126.6 107.8h0M131.0 103.6h0M120.6 107.7h0M127.1 101.9h0M136.0 107.4h0M132.1 99.6h0M133.5 103.7h0M134.6 105.6h0M124.9 106.9h0M134.0 105.8h0M129.7 108.4h0M134.9 104.1h0M127.6 106.5h0M126.0 113.7h0M121.9 101.8h0M129.3 103.6h0M128.3 112.6h0M125.4 100.5h0M133.4 102.1h0M132.9 113.2h0M136.6 106.7h0M134.2 100.5h0M124.4 105.4h0M132.2 103.2h0M135.5 113.4h0M133.2 99.7h0M127.6 106.9h0M132.9 100.2h0M125.7 102.7h0M138.5 108.2h0M132.2 111.6h0M121.0 107.8h0M127.2 105.6h0M126.6 101.9h0M123.9 101.4h0M122.7 106.0h0M130.3 104.4h0M124.8 107.5h0M125.5 102.2h0M123.8 112.3h0M132.3 112.4h0M132.1 107.5h0M130.6 106.1h0M133.6 107.1h0M132.8 104.8h0M124.9 104.7h0M134.1 113.2h0M124.6 103.9h0M122.7 105.3h0M132.4 100.4h0M131.9 101.2h0M133.2 110.1h0M130.4 107.2h0M128.6 113.8h0M129.8 104.4h0M134.1 102.7h0M133.4 112.8h0M130.9 102.2h0M119.0 100.3h0M125.9 99.8h0M125.6 108.9h0M124.3 99.9h0M138.2 109.5h0M123.1 113.1h0M136.7 113.8h0M135.7 105.2h0M134.4 107.9h0M125.8 104.9h0M123.7 108.8h0M128.9 113.2h0M124.9 101.1h0M124.7 106.6h0M133.9 104.8h0M130.3 104.5h0M134.1 107.9h0M122.7 107.7h0M126.4 105.6h0M123.0 108.8h0M129.8 113.1h0M131.3 111.4h0M120.5 105.4h0M126.3 102.4h0M129.3 107.1h0M132.3 107.6h0M129.4 110.8h0M128.0 100.3h0M121.7 101.8h0M125.6 106.7h0M128.1 105.1h0M130.8 101.0h0M126.0 99.9h0M138.1 108.4h0M128.1 104.6h0M129.6 106.5h0M125.3 103.1h0M121.3 102.5h0M131.3 113.5h0M136.5 110.5h0M128.6 107.5h0M135.6 104.2h0M132.6 107.7h0M130.8 109.3h0M133.4 101.9h0M134.5 107.9h0M130.7 109.7h0M124.0 112.2h0M130.8 102.9h0M130.4 104.4h0M133.0 107.0h0M126.8 109.2h0M124.0 111.5h0M121.0 103.2h0M131.7 100.6h0M131.6 105.5h0M128.5 109.6h0M128.9 107.1h0M138.1 105.7h0M124.8 105.6h0M127.0 112.4h0M131.7 108.1h0M123.3 104.9h0M124.4 104.6h0M129.9 109.9h0M124.3 100.3h0M133.9 111.1h0M122.4 101.6h0M130.6 109.0h0M123.4 110.2h0M123.7 107.0h0M136.0 106.6h0M134.3 110.6h0M133.7 104.0h0M123.1 104.3h0M128.4 99.5h0M122.0 106.1h0M121.9 108.6h0M132.4 101.1h0M129.3 101.6h0M135.3 105.0h0M124.7 111.3h0M131.6 112.4h0M129.6 104.3h0M127.9 110.9h0M129.8 107.1h0M127.8 106.8h0M130.7 101.6h0M130.8 105.9h0M131.4 106.0h0M124.9 110.0h0M128.6 104.8h0M123.0 106.5h0M125.7 112.8h0M134.1 101.5h0M130.8 102.4h0M122.3 111.1h0M124.0 112.4h0M126.3 104.3h0M120.3 107.3h0M130.4 104.3h0M124.3 109.2h0M128.5 107.6h0M129.2 113.9h0M131.1 113.5h0M132.0 109.2h0M127.8 110.4h0M127.3 105.6h0M122.5 111.1h0M124.0 106.5h0M131.4 110.5h0M127.7 100.0h0M128.7 107.0h0M128.9 109.9h0M129.8 103.5h0M134.4 111.0h0M125.7 106.3h0M125.0 101.9h0M123.3 100.3h0M134.9 111.9h0M132.1 109.7h0M134.0 110.5h0M132.5 105.9h0M134.3 109.3h0M125.7 108.0h0M135.8 110.1h0M127.5 104.4h0M125.7 105.3h0M131.2 111.9h0M126.0 112.1h0M124.8 106.1h0M124.7 109.3h0M131.9 111.5h0M135.1 102.8h0M125.8 99.6h0M122.2 99.7h0M131.1 105.0h0M124.1 111.4h0M126.8 108.4h0M128.4 112.5h0M117.8 100.0h0M129.5 107.1h0M131.1 101.3h0M124.6 111.2h0M131.6 105.4h0M129.8 115.6h0M129.4 104.7h0M124.6 103.6h0M130.7 101.3h0M131.1 102.8h0M132.1 107.8h0M128.9 106.1h0M133.1 104.7h0M128.0 110.3h0M127.0 106.2h0M126.9 99.4h0M127.6 109.9h0M125.4 102.9h0M125.3 106.2h0M133.7 107.1h0M123.1 108.4h0M133.2 112.1h0M124.3 107.7h0M128.9 113.2h0M128.3 100.6h0M133.6 107.2h0M136.1 104.7h0M135.1 101.3h0M136.4 112.4h0M131.9 106.5h0M127.9 109.3h0M124.9 109.1h0M123.4 107.4h0M126.7 99.1h0M135.0 107.6h0M123.1 106.2h0M131.8 105.2h0M137.9 104.7h0M123.4 106.3h0M120.3 104.3h0M131.1 99.7h0M127.0 105.8h0M132.7 100.0h0M128.9 106.1h0M131.3 105.3h0M128.8 103.8h0M136.9 108.9h0M134.0 112.2h0M129.6 109.7h0M126.3 114.0h0M129.5 104.1h0M137.7 105.4h0M129.8 114.0h0M136.7 109.3h0M127.1 108.5h0M129.7 101.8h0M121.0 104.2h0M124.6 108.1h0M134.5 110.3h0M129.1 105.2h0M136.0 104.1h0M135.7 104.1h0M132.4 105.0h0M129.4 100.4h0M123.5 107.6h0M132.4 103.9h0M125.0 101.0h0M124.3 104.9h0M143.6 110.8h0M130.9 111.3h0M134.1 111.5h0M136.7 105.3h0M125.0 107.2h0M129.0 103.5h0M126.7 112.7h0M135.3 111.7h0M125.3 109.1h0M129.6 97.4h0M122.1 106.1h0M131.0 112.2h0M122.0 111.0h0M122.6 109.7h0M122.8 104.4h0M130.1 101.4h0M135.8 101.9h0M132.8 110.3h0M125.6 105.6h0M130.9 104.6h0M125.6 107.8h0M124.6 100.5h0M127.7 106.2h0M135.9 107.9h0M125.8 110.6h0M134.9 104.5h0M126.4 113.3h0M125.6 110.1h0M128.9 101.5h0M128.0 112.8h0M123.5 107.4h0M131.3 111.3h0M121.9 100.6h0M122.8 106.2h0M127.5 100.9h0M129.1 104.3h0M129.7 103.6h0M137.5 104.1h0M135.7 108.3h0M125.0 103.1h0M129.2 105.4h0M131.1 104.7h0M130.6 103.1h0M120.1 107.6h0M129.9 104.8h0M126.5 109.9h0M130.1 106.9h0M126.1 104.1h0M135.1 103.4h0M132.3 104.7h0M121.1 104.9h0M121.1 103.6h0M130.1 107.5h0M124.2 104.9h0M121.5 105.1h0M130.4 107.5h0M134.3 110.2h0M133.6 100.0h0M133.9 107.9h0M135.9 107.4h0M123.1 107.9h0M130.5 100.0h0M122.6 101.3h0M133.4 102.7h0M135.4 101.0h0M129.0 109.6h0M122.9 100.9h0M130.2 106.2h0M123.4 109.4h0M128.5 112.3h0M133.0 104.1h0M127.9 111.4h0M127.5 105.8h0M130.1 107.6h0M126.5 110.7h0M121.3 110.7h0M135.6 108.9h0M132.0 108.9h0M132.4 100.1h0M130.9 110.3h0M126.9 108.1h0M136.6 105.8h0M135.5 110.0h0M126.5 108.0h0M129.4 105.9h0M135.9 107.8h0M128.8 104.1h0M125.1 110.5h0M125.9 113.4h0M122.9 109.3h0M127.4 106.6h0M127.7 105.4h0M128.4 112.4h0M135.1 109.7h0M128.3 109.6h0M130.8 104.2h0M125.5 106.8h0M130.6 105.2h0M120.4 106.2h0M122.4 106.0h0M130.3 107.0h0M124.7 106.3h0M135.1 104.5h0M129.6 110.3h0M138.3 105.0h0M120.7 103.6h0M127.5 113.4h0M134.2 110.7h0M128.2 102.9h0M128.3 103.3h0M120.5 107.1h0M122.9 107.2h0M131.4 112.5h0M125.3 104.0h0M122.5 108.4h0M133.0 97.8h0M136.5 106.9h0M137.9 104.0h0M125.5 105.1h0M122.9 108.7h0M126.2 109.7h0M133.8 113.7h0M134.9 102.6h0M133.1 108.8h0M135.3 97.1h0M123.6 110.7h0M133.1 110.8h0M130.7 100.9h0M127.2 101.3h0M123.7 99.1h0M128.7 107.1h0M121.1 108.5h0M130.0 96.5h0M127.7 104.3h0M129.7 107.4h0M126.2 109.2h0M137.4 104.6h0M134.0 96.8h0M126.2 104.4h0M130.8 99.3h0M126.0 100.2h0M128.9 100.5h0M134.8 101.1h0M127.1 105.1h0M129.1 114.2h0M139.3 105.3h0M131.7 104.1h0M134.1 110.6h0M128.6 99.6h0M138.7 112.2h0M128.4 110.6h0M128.7 107.3h0M129.3 111.4h0M130.4 109.5h0M127.9 109.6h0M126.5 100.3h0M132.0 103.2h0M135.1 103.5h0M125.6 104.6h0M134.8 100.9h0M130.0 112.4h0M123.2 103.2h0M122.5 104.7h0M135.6 104.2h0M112.2 101.6h0M120.2 104.4h0M122.8 94.0h0M115.0 107.7h0M121.6 104.6h0M117.9 105.8h0M120.2 107.2h0M124.3 109.8h0M134.4 105.8h0M131.5 110.7h0M126.8 105.3h0M130.6 104.2h0M111.5 98.2h0M122.2 105.2h0M127.6 104.2h0M123.8 99.6h0M114.3 105.9h0M117.0 98.9h0M121.2 101.8h0M132.8 106.2h0M128.0 101.9h0M114.4 98.4h0M115.9 95.9h0M107.9 93.8h0M124.9 102.5h0M128.3 106.2h0M126.7 99.9h0M123.6 107.6h0M127.1 102.9h0M124.0 105.5h0M119.8 99.9h0M113.1 99.8h0M123.4 100.2h0M125.6 101.4h0M116.4 101.2h0M122.9 103.5h0M129.3 103.9h0M106.8 98.6h0M121.5 104.7h0M127.4 105.5h0M119.3 95.1h0M119.6 108.2h0M120.7 97.1h0M123.6 95.6h0M116.5 101.2h0M126.8 102.9h0M117.4 100.6h0M122.3 108.4h0M128.3 110.6h0M127.8 94.7h0M116.1 112.6h0M134.3 105.7h0M133.9 116.9h0M120.2 115.4h0M145.3 116.2h0M125.4 111.1h0M127.5 98.4h0M121.9 102.5h0M124.8 106.0h0M116.4 91.3h0M121.4 113.8h0" stroke="#e266a4" stroke-width="1.1" stroke-linecap="round" stroke-opacity="0.8" fill="none"/>
<ellipse cx="96.8" cy="141.0" rx="7.42" ry="8.4" fill="#fe861d" fill-opacity="0.9"/>
<path d="M98.7 137.5h0M92.8 135.9h0M89.3 136.9h0M102.1 136.4h0M90.8 142.2h0M95.7 141.9h0M99.9 149.3h0M96.8 142.8h0M95.3 132.8h0M99.2 136.9h0M93.0 149.4h0M98.9 137.2h0M104.5 134.8h0M102.9 153.0h0M94.9 153.6h0M98.1 134.8h0M101.3 149.8h0M88.1 122.6h0M89.3 141.3h0M90.6 137.9h0M100.3 139.8h0M92.6 135.9h0M98.7 151.4h0M92.6 140.6h0M100.5 139.4h0M101.7 147.4h0M98.4 151.5h0M99.0 131.7h0M100.9 132.3h0M100.6 146.0h0M100.9 137.7h0M105.0 144.0h0M104.4 143.1h0M94.6 144.3h0M90.9 147.6h0M92.9 148.7h0M99.4 146.4h0M104.5 142.5h0M105.8 143.7h0M98.6 145.8h0M88.0 131.3h0M105.6 139.3h0M102.9 137.2h0M100.0 131.2h0M88.9 136.1h0M104.1 141.7h0M100.6 144.8h0M106.2 140.1h0M98.4 134.8h0M98.5 134.7h0M95.6 140.0h0M90.2 145.1h0M95.7 139.7h0M100.3 144.3h0M98.5 137.2h0M101.6 139.4h0M105.5 142.2h0M104.1 143.2h0M97.9 137.7h0M99.0 144.5h0M95.5 135.8h0M94.9 144.3h0M100.0 134.8h0M94.0 144.5h0M103.0 148.5h0M99.4 140.7h0M99.1 131.1h0M95.8 134.5h0M88.4 146.1h0M90.0 140.6h0M99.9 132.6h0M105.7 141.1h0M96.9 146.2h0M96.0 145.5h0M97.5 139.0h0M101.3 137.1h0M93.6 137.1h0M95.6 133.6h0M95.6 147.0h0M100.7 137.1h0M91.0 143.3h0M93.9 146.6h0M102.0 141.5h0M85.0 141.2h0M93.9 148.3h0M93.5 145.2h0M99.5 153.1h0M88.0 137.8h0M101.4 136.7h0M102.3 136.3h0M103.4 138.8h0M100.9 144.0h0M89.9 134.5h0M101.5 150.1h0M101.0 146.2h0M92.9 136.0h0M92.3 148.5h0M98.5 146.0h0M101.5 133.8h0M95.4 140.8h0M100.0 143.3h0M88.0 142.7h0M97.2 144.3h0M95.9 131.5h0M103.2 137.0h0M105.7 134.3h0M96.4 150.0h0M97.4 131.4h0M96.7 145.9h0M88.4 136.0h0M101.2 131.6h0M97.7 136.9h0M96.9 145.9h0M96.2 139.6h0M89.9 145.6h0M97.6 146.2h0M100.7 141.9h0M90.7 143.5h0M97.7 140.1h0M100.9 139.8h0M98.5 144.1h0M93.0 138.0h0M96.2 138.2h0M100.0 132.4h0M103.0 140.3h0M100.9 136.1h0M92.1 138.9h0M99.5 141.2h0M99.8 135.2h0M97.6 130.6h0M98.1 150.6h0M104.8 142.6h0M91.6 150.3h0M98.7 144.0h0M97.0 139.1h0M93.9 144.9h0M102.1 148.4h0M99.8 140.1h0M99.0 135.1h0M93.1 141.0h0M97.9 135.2h0M96.2 134.6h0M97.3 135.3h0M100.5 146.7h0M95.9 130.6h0M96.6 143.6h0M95.8 135.4h0M99.9 136.1h0M88.4 149.2h0M96.9 147.4h0M93.6 130.6h0M96.8 140.8h0M99.7 147.7h0M101.4 145.6h0M97.9 134.1h0M100.5 147.9h0M93.7 146.9h0M104.7 142.6h0M103.9 141.0h0M89.5 144.5h0M97.5 140.2h0M101.8 138.2h0M99.1 151.0h0M100.6 150.4h0M90.9 133.7h0M99.1 150.0h0M90.2 145.8h0M100.8 143.3h0M91.7 138.7h0M98.1 147.2h0M92.5 148.9h0M90.1 140.7h0M98.0 133.0h0M94.4 141.6h0M95.2 140.6h0M97.1 147.2h0M97.0 130.9h0M103.9 136.9h0M93.6 131.0h0M89.9 141.1h0M91.4 134.2h0M90.0 143.7h0M90.5 138.8h0M92.5 140.7h0M102.6 138.0h0M89.4 147.0h0M97.1 132.1h0M96.5 148.3h0M95.0 134.7h0M96.6 145.3h0M103.1 138.2h0M101.9 150.2h0M97.2 146.5h0M99.0 137.9h0M103.8 144.3h0M98.0 131.3h0M102.5 132.3h0M104.9 146.2h0M92.9 148.3h0M89.5 141.4h0M89.3 137.2h0M103.8 148.1h0M97.9 138.4h0M91.5 132.0h0M105.8 142.9h0M103.2 139.5h0M100.5 140.5h0M90.0 146.9h0M90.8 135.7h0M93.9 143.6h0M99.3 143.9h0M88.1 134.5h0M90.0 140.2h0M99.5 131.2h0M92.7 142.9h0M98.9 134.9h0M93.4 147.7h0M105.9 149.8h0M95.7 146.4h0M97.5 151.0h0M95.7 147.0h0M93.4 134.8h0M97.1 143.7h0M104.4 147.4h0M92.9 140.5h0M92.1 143.4h0M93.7 144.2h0M91.3 140.6h0M97.8 141.3h0M96.5 131.7h0M101.1 135.5h0M105.9 141.4h0M95.2 147.6h0M96.3 133.2h0M96.6 130.6h0M102.2 142.7h0M98.1 129.3h0M93.9 141.0h0M98.7 133.4h0M91.3 134.9h0M91.9 147.0h0M99.0 137.9h0M103.4 137.1h0M96.7 130.6h0M90.4 141.3h0M89.4 144.9h0M101.9 137.4h0M104.9 135.9h0M99.2 147.4h0M102.0 137.9h0M93.5 139.7h0M92.4 134.0h0M87.3 142.3h0M96.6 145.1h0M91.5 134.9h0M96.2 146.2h0M101.5 130.6h0M96.4 134.6h0M96.6 151.6h0M90.0 139.7h0M90.5 136.0h0M100.8 134.6h0M96.6 146.7h0M96.8 134.1h0M88.3 141.6h0M89.9 139.5h0M98.0 148.8h0M102.7 133.9h0M87.9 145.4h0M85.7 127.1h0M105.2 143.8h0M102.6 147.4h0M91.2 132.3h0M94.9 136.7h0M96.3 136.1h0M105.3 135.4h0M100.5 142.8h0M100.7 140.4h0M88.5 139.9h0M99.7 140.1h0M91.9 147.3h0M89.1 146.8h0M101.1 145.5h0M98.2 145.7h0M87.8 140.9h0M91.0 134.7h0M91.2 152.1h0M106.2 141.7h0M94.9 148.3h0M103.3 144.3h0M90.7 143.7h0M97.4 145.9h0M92.8 149.3h0M93.5 147.6h0M104.4 135.6h0M86.3 144.6h0M102.0 146.6h0M97.7 153.5h0M95.7 144.2h0M90.7 138.7h0M99.4 151.3h0M97.6 150.3h0M92.2 141.2h0M104.6 138.5h0M94.2 144.4h0M92.2 135.2h0M89.4 143.9h0M96.6 144.6h0M99.9 149.8h0M98.2 132.2h0M93.9 144.6h0M105.9 135.0h0M103.1 134.7h0M97.6 148.4h0M89.1 137.7h0M97.5 133.2h0M95.4 151.3h0M102.3 134.5h0M91.6 146.1h0M102.1 134.5h0M98.6 141.7h0M99.0 134.6h0M98.7 143.4h0M99.9 130.9h0M87.9 136.2h0M92.0 134.9h0M93.5 136.8h0M88.1 144.4h0M90.7 147.1h0M90.5 147.8h0M94.4 151.4h0M94.0 146.3h0M100.5 149.0h0M99.7 139.8h0M99.1 145.9h0M93.0 135.0h0M91.2 134.6h0M100.7 138.8h0M89.8 133.7h0M103.5 147.1h0M102.5 134.3h0M98.9 143.6h0M94.3 148.8h0M96.6 135.3h0M100.3 134.5h0M102.7 139.3h0M92.8 142.0h0M101.3 145.7h0M101.4 138.3h0M101.1 133.3h0M94.9 137.4h0M106.0 140.8h0M98.2 139.4h0M104.6 141.8h0M101.7 149.5h0M93.6 134.9h0M97.8 142.1h0M99.3 137.8h0M95.6 145.7h0M97.0 148.2h0M97.3 150.2h0M90.3 134.5h0M93.9 137.5h0M92.8 135.1h0M101.8 144.1h0M106.6 147.3h0M98.9 142.2h0M94.6 150.1h0M104.2 138.6h0M98.4 134.7h0M98.9 140.3h0M103.4 140.2h0M93.2 144.4h0M97.5 141.0h0M104.0 138.2h0M88.6 141.6h0M104.5 141.7h0M98.8 149.9h0M96.7 143.9h0M101.8 138.6h0M94.4 138.4h0M98.9 137.0h0M96.2 139.7h0M103.9 136.6h0M97.4 149.3h0M98.2 150.6h0M102.4 137.6h0M94.9 145.7h0M95.6 143.1h0M90.3 138.7h0M102.6 141.8h0M102.9 133.5h0M93.0 145.1h0M94.1 147.6h0M98.4 147.4h0M93.9 146.1h0M100.9 139.6h0M87.6 143.3h0M95.0 132.0h0M103.6 141.1h0M104.4 143.4h0M99.6 154.4h0M94.6 151.2h0M91.2 149.2h0M96.2 142.7h0M97.4 142.9h0M101.5 133.2h0M89.8 137.9h0M103.0 132.7h0M95.2 131.7h0M106.0 139.6h0M89.3 147.4h0M94.9 149.5h0M93.4 137.9h0M104.1 134.0h0M94.2 137.4h0M91.5 141.3h0M95.2 139.9h0M91.2 143.9h0M91.0 140.6h0M105.2 140.9h0M97.9 136.6h0M88.2 145.9h0M95.8 127.0h0M90.2 144.7h0M94.4 138.0h0M93.0 146.0h0M92.9 131.4h0M106.5 140.6h0M100.7 136.8h0M95.4 141.2h0M92.1 144.4h0M93.6 137.2h0M96.2 139.8h0M104.6 147.5h0M102.6 149.8h0M96.1 146.5h0M91.8 139.9h0M101.0 139.2h0M93.6 130.6h0M104.2 144.2h0M95.5 138.0h0M98.4 142.3h0M104.6 137.6h0M100.6 150.1h0M87.8 145.2h0M96.4 148.8h0M98.9 135.4h0M96.5 145.4h0M96.5 137.6h0M92.1 142.4h0M102.4 148.6h0M96.7 145.3h0M97.8 142.8h0M102.9 149.4h0M97.5 137.4h0M97.8 135.2h0M100.1 132.1h0M94.3 148.0h0M95.3 135.5h0M98.9 142.8h0M92.7 143.9h0M101.6 133.7h0M105.9 141.6h0M92.0 132.5h0M88.8 142.5h0M107.2 144.7h0M94.7 145.9h0M94.5 149.9h0M98.5 134.7h0M101.3 135.3h0M88.5 152.3h0M103.2 139.6h0M97.2 147.1h0M92.8 150.5h0M93.8 146.8h0M98.1 139.6h0M96.8 146.2h0M99.7 142.0h0M97.7 147.9h0M92.6 146.6h0M96.7 151.6h0M89.1 136.2h0M98.6 133.2h0M99.0 132.4h0M101.7 144.9h0M97.5 137.4h0M94.7 145.1h0M105.4 137.9h0M95.9 146.7h0M104.1 148.1h0M101.6 137.6h0M91.0 133.1h0M96.3 142.8h0M101.1 146.6h0M87.9 141.2h0M97.9 144.4h0M97.8 138.8h0M104.0 136.4h0M93.1 131.6h0M98.1 143.8h0M87.8 141.7h0M99.5 134.8h0M97.7 141.0h0M87.3 141.3h0M102.9 136.9h0M100.0 140.7h0M97.1 148.2h0M88.3 140.9h0M102.8 148.1h0M89.8 136.8h0M102.8 147.1h0M96.3 138.3h0M103.7 143.6h0M102.4 134.0h0M92.9 129.8h0M98.2 133.4h0M88.1 140.6h0M96.8 151.7h0M93.2 137.8h0M101.4 134.6h0M89.2 140.8h0M91.3 132.3h0M102.3 132.8h0M100.8 131.2h0M95.2 149.6h0M101.2 157.4h0M98.2 150.2h0M92.1 144.5h0M103.2 149.8h0M100.3 138.7h0M96.4 140.9h0M94.8 148.1h0M99.2 141.9h0M105.6 138.3h0M100.2 143.2h0M95.6 137.1h0M98.5 131.7h0M92.7 140.1h0M97.5 141.2h0M103.1 148.3h0M98.0 143.3h0M90.6 136.0h0M97.4 144.4h0M95.7 150.7h0M100.2 131.5h0M90.7 136.0h0M88.2 145.7h0M102.5 143.4h0M102.6 135.6h0M98.8 135.2h0M91.1 137.0h0M98.3 139.1h0M100.9 146.1h0M100.4 150.7h0M102.3 143.3h0M97.3 146.8h0M95.6 137.9h0M95.4 140.8h0M97.5 138.7h0M94.1 142.8h0M93.4 151.2h0M93.1 142.1h0M85.3 143.1h0M87.8 139.9h0M89.4 140.7h0M94.0 131.6h0M103.5 142.5h0M99.3 138.1h0M84.7 137.1h0M96.5 133.7h0M98.8 131.9h0M99.7 144.2h0M100.4 145.2h0M93.2 135.1h0M95.1 152.1h0M95.4 153.6h0M94.9 151.3h0M94.6 137.7h0M98.2 144.1h0M89.1 145.1h0M96.8 141.6h0M87.2 149.7h0M95.5 138.2h0M96.1 150.2h0M96.1 132.3h0M82.9 140.5h0M89.1 143.4h0M96.0 131.2h0M95.8 135.6h0M92.9 131.8h0M83.8 138.8h0M103.4 133.1h0M89.5 145.8h0M91.3 140.2h0M98.7 131.5h0M98.0 132.6h0M101.4 141.8h0M95.2 140.1h0M96.7 140.3h0M100.1 150.4h0M94.0 147.3h0M92.0 139.8h0M98.2 143.9h0M99.5 141.7h0M103.4 129.0h0M91.3 139.1h0M94.5 150.3h0M104.8 144.1h0M97.7 133.6h0M96.3 143.7h0M91.8 142.0h0M105.4 146.0h0M100.2 136.0h0M103.2 139.5h0M99.0 144.7h0M98.9 150.4h0M104.3 142.0h0M94.9 144.1h0M104.1 146.8h0M105.4 141.0h0M96.9 141.2h0M93.6 136.8h0M100.2 139.2h0M94.1 133.0h0M100.1 143.5h0M88.7 142.7h0M100.8 143.5h0M103.7 139.6h0M99.7 144.2h0M94.6 146.2h0M103.3 137.1h0M89.2 146.1h0M101.2 142.3h0M91.2 144.7h0M92.9 134.2h0M97.0 149.7h0M95.6 146.1h0M93.5 132.3h0M95.2 130.6h0M98.2 129.0h0M97.6 124.9h0M99.0 134.6h0M98.5 127.1h0M99.4 141.3h0M96.6 139.9h0M98.2 140.6h0M108.8 132.0h0M100.4 139.8h0M101.0 117.3h0M104.0 136.0h0M98.8 136.5h0M97.7 144.0h0M87.0 144.6h0M97.2 135.4h0M98.7 125.8h0M92.9 131.6h0M99.7 141.1h0M97.5 145.4h0M100.4 132.8h0M100.5 134.4h0M97.3 148.1h0M90.3 124.8h0M89.7 126.8h0M97.5 142.5h0M95.1 127.0h0M93.4 130.3h0M103.9 133.9h0M103.5 141.8h0M95.1 144.0h0M92.4 128.8h0M106.2 140.5h0M93.8 126.7h0M84.7 137.4h0M101.1 137.6h0M106.6 145.8h0M95.9 141.8h0M80.0 128.5h0M89.0 145.0h0M102.6 125.4h0M106.9 146.3h0M94.8 139.8h0M110.6 146.8h0M98.7 134.7h0M98.8 159.7h0M85.7 135.4h0M103.0 149.5h0M107.7 137.4h0M99.4 141.2h0" stroke="#fe861d" stroke-width="1.1" stroke-linecap="round" stroke-opacity="0.8" fill="none"/>
<text x="6.1" y="7.7" font-size="8.56" font-weight="bold" textLength="10.62" lengthAdjust="spacingAndGlyphs" fill="#1c1c1c">(a)</text>
<path d="M194.4 13.1V152.1M237.24 13.1V152.1M280.08 13.1V152.1M322.92 13.1V152.1M365.76 13.1V152.1M408.6 13.1V152.1M194.4 152.1H408.6M194.4 128.93H408.6M194.4 105.77H408.6M194.4 82.6H408.6M194.4 59.43H408.6M194.4 36.27H408.6M194.4 13.1H408.6" stroke="#e3e3e3" stroke-width="0.9" fill="none"/>
<clipPath id="cb"><rect x="194.4" y="13.1" width="214.2" height="139"/></clipPath>
<g clip-path="url(#cb)">
<path d="M194.4 117.58 215.82 115.84 237.24 112.54 258.66 109.3 280.08 107.7 301.5 102.62 322.92 93.79 344.34 81.79 365.76 73.63 387.18 58.05 408.6 41.51 408.6 47.09 387.18 66.69 365.76 84.6 344.34 94.58 322.92 108.33 301.5 118.97 280.08 125.53 258.66 127.63 237.24 129.98 215.82 131.14 194.4 130.03Z" fill="#1f77b4" fill-opacity="0.2"/>
<path d="M194.4 107.29 215.82 104.2 237.24 101.32 258.66 96 280.08 88.17 301.5 79.68 322.92 68.2 344.34 57.84 365.76 41.92 387.18 31.39 408.6 15.43 408.6 21.88 387.18 41.97 365.76 55.61 344.34 73.27 322.92 84.34 301.5 96.23 280.08 105.21 258.66 113.44 237.24 118.56 215.82 120.21 194.4 121.1Z" fill="#ff7f0e" fill-opacity="0.2"/>
<path d="M194.4 98.1 215.82 95.61 237.24 90.25 258.66 76.13 280.08 66.96 301.5 54.93 322.92 43.4 344.34 33.02 365.76 23.99 387.18 16.62 408.6 10.94 408.6 18.09 387.18 30.62 365.76 44.68 344.34 58.41 322.92 70.67 301.5 81.69 280.08 91.96 258.66 99.1 237.24 111.14 215.82 114.01 194.4 113.17Z" fill="#2ca02c" fill-opacity="0.2"/>
<path d="M194.4 95.18 215.82 93.74 237.24 82.12 258.66 70.84 280.08 61.5 301.5 48.31 322.92 38.3 344.34 29.68 365.76 20.69 387.18 14.33 408.6 11.19 408.6 17.32 387.18 25.59 365.76 37.42 344.34 50.94 322.92 62 301.5 72.01 280.08 83.4 258.66 90.24 237.24 99.18 215.82 108.91 194.4 108.67Z" fill="#d62728" fill-opacity="0.2"/>
<path d="M194.4 100.48 215.82 97.38 237.24 84.35 258.66 72.11 280.08 62.08 301.5 48.7 322.92 40.3 344.34 32.14 365.76 23.86 387.18 15.7 408.6 11.31 408.6 16.32 387.18 24.52 365.76 37.12 344.34 49.93 322.92 61.63 301.5 71.62 280.08 84.36 258.66 92.05 237.24 101.24 215.82 111.36 194.4 112.08Z" fill="#9467bd" fill-opacity="0.2"/>
<path d="M194.4 123.37 215.82 123.37 237.24 121.52 258.66 118.97 280.08 117.12 301.5 111.09 322.92 101.13 344.34 88.16 365.76 79.13 387.18 62.44 408.6 44.38" stroke="#1f77b4" stroke-width="1.1" fill="none" stroke-linejoin="round"/>
<path d="M194.4 114.34 215.82 112.72 237.24 110.63 258.66 105.3 280.08 96.96 301.5 87.93 322.92 76.11 344.34 65.46 365.76 48.78 387.18 36.73 408.6 18.66" stroke="#ff7f0e" stroke-width="1.1" fill="none" stroke-linejoin="round"/>
<path d="M194.4 106 215.82 104.38 237.24 99.28 258.66 85.15 280.08 76.11 301.5 64.53 322.92 53.41 344.34 42.75 365.76 32.33 387.18 22.6 408.6 14.26" stroke="#2ca02c" stroke-width="1.1" fill="none" stroke-linejoin="round"/>
<path d="M194.4 102.75 215.82 101.83 237.24 90.71 258.66 80.28 280.08 72.17 301.5 60.13 322.92 50.4 344.34 40.67 365.76 29.32 387.18 20.05 408.6 14.26" stroke="#d62728" stroke-width="1.1" fill="none" stroke-linejoin="round"/>
<path d="M194.4 106.23 215.82 103.91 237.24 92.1 258.66 81.44 280.08 72.87 301.5 60.13 322.92 51.09 344.34 41.13 365.76 30.47 387.18 20.05 408.6 13.8" stroke="#9467bd" stroke-width="1.1" fill="none" stroke-linejoin="round"/>
</g>
<rect x="194.4" y="13.1" width="214.2" height="139" fill="none" stroke="#d6d6d6" stroke-width="0.9"/>
<text x="189.8" y="154.75" font-size="7.84" text-anchor="end" textLength="11.77" lengthAdjust="spacingAndGlyphs" fill="#3a3a3a">0.4</text>
<text x="189.8" y="131.58" font-size="7.84" text-anchor="end" textLength="11.77" lengthAdjust="spacingAndGlyphs" fill="#3a3a3a">0.5</text>
<text x="189.8" y="108.42" font-size="7.84" text-anchor="end" textLength="11.77" lengthAdjust="spacingAndGlyphs" fill="#3a3a3a">0.6</text>
<text x="189.8" y="85.25" font-size="7.84" text-anchor="end" textLength="11.77" lengthAdjust="spacingAndGlyphs" fill="#3a3a3a">0.7</text>
<text x="189.8" y="62.08" font-size="7.84" text-anchor="end" textLength="11.77" lengthAdjust="spacingAndGlyphs" fill="#3a3a3a">0.8</text>
<text x="189.8" y="38.92" font-size="7.84" text-anchor="end" textLength="11.77" lengthAdjust="spacingAndGlyphs" fill="#3a3a3a">0.9</text>
<text x="189.8" y="15.75" font-size="7.84" text-anchor="end" textLength="11.77" lengthAdjust="spacingAndGlyphs" fill="#3a3a3a">1.0</text>
<text x="194.4" y="162.4" font-size="7.84" text-anchor="middle" textLength="11.77" lengthAdjust="spacingAndGlyphs" fill="#3a3a3a">0.0</text>
<text x="237.24" y="162.4" font-size="7.84" text-anchor="middle" textLength="11.77" lengthAdjust="spacingAndGlyphs" fill="#3a3a3a">0.2</text>
<text x="280.08" y="162.4" font-size="7.84" text-anchor="middle" textLength="11.77" lengthAdjust="spacingAndGlyphs" fill="#3a3a3a">0.4</text>
<text x="322.92" y="162.4" font-size="7.84" text-anchor="middle" textLength="11.77" lengthAdjust="spacingAndGlyphs" fill="#3a3a3a">0.6</text>
<text x="365.76" y="162.4" font-size="7.84" text-anchor="middle" textLength="11.77" lengthAdjust="spacingAndGlyphs" fill="#3a3a3a">0.8</text>
<text x="408.6" y="162.4" font-size="7.84" text-anchor="middle" textLength="11.77" lengthAdjust="spacingAndGlyphs" fill="#3a3a3a">1.0</text>
<text x="301.5" y="172.9" font-size="8.11" font-weight="bold" text-anchor="middle" textLength="81.37" lengthAdjust="spacingAndGlyphs" fill="#1c1c1c">% side information</text>
<text x="174.4" y="82.6" font-size="8.09" font-weight="bold" text-anchor="middle" textLength="161.06" lengthAdjust="spacingAndGlyphs" transform="rotate(-90 174.4 82.6)" fill="#1c1c1c">NMI (Normalized Mutual Information)</text>
<text x="147.4" y="7.86" font-size="8.77" font-weight="bold" textLength="11.52" lengthAdjust="spacingAndGlyphs" fill="#1c1c1c">(b)</text>
<text x="389.8" y="89.1" font-size="5.78" font-weight="bold" text-anchor="middle" textLength="22.13" lengthAdjust="spacingAndGlyphs" fill="#1a1a1a">network</text>
<text x="389.8" y="95.8" font-size="5.83" font-weight="bold" text-anchor="middle" textLength="35.48" lengthAdjust="spacingAndGlyphs" fill="#1a1a1a">observability</text>
<rect x="372.2" y="100" width="33.6" height="49" rx="1.5" fill="#fff" fill-opacity="0.8" stroke="#d9d9d9" stroke-width="0.8"/>
<path d="M374.7 105.3H388" stroke="#1f77b4" stroke-width="1.1"/>
<text x="393" y="107.4" font-size="6.25" textLength="9.38" lengthAdjust="spacingAndGlyphs" fill="#3a3a3a">0.2</text>
<path d="M374.7 114.75H388" stroke="#ff7f0e" stroke-width="1.1"/>
<text x="393" y="116.85" font-size="6.25" textLength="9.38" lengthAdjust="spacingAndGlyphs" fill="#3a3a3a">0.4</text>
<path d="M374.7 124.2H388" stroke="#2ca02c" stroke-width="1.1"/>
<text x="393" y="126.3" font-size="6.25" textLength="9.38" lengthAdjust="spacingAndGlyphs" fill="#3a3a3a">0.6</text>
<path d="M374.7 133.65H388" stroke="#d62728" stroke-width="1.1"/>
<text x="393" y="135.75" font-size="6.25" textLength="9.38" lengthAdjust="spacingAndGlyphs" fill="#3a3a3a">0.8</text>
<path d="M374.7 143.1H388" stroke="#9467bd" stroke-width="1.1"/>
<text x="393" y="145.2" font-size="6.25" textLength="3.75" lengthAdjust="spacingAndGlyphs" fill="#3a3a3a">1</text>
<path d="M464.3 13.1V152.1M507.16 13.1V152.1M550.02 13.1V152.1M592.88 13.1V152.1M635.74 13.1V152.1M678.6 13.1V152.1M464.3 152.1H678.6M464.3 128.93H678.6M464.3 105.77H678.6M464.3 82.6H678.6M464.3 59.43H678.6M464.3 36.27H678.6M464.3 13.1H678.6" stroke="#e3e3e3" stroke-width="0.9" fill="none"/>
<clipPath id="cc"><rect x="464.3" y="13.1" width="214.3" height="139"/></clipPath>
<g clip-path="url(#cc)">
<path d="M464.3 136.81 485.73 132.6 507.16 133.41 528.59 124.5 550.02 117.71 571.45 111.8 592.88 99.16 614.31 90.6 635.74 78.56 657.17 58.35 678.6 40.15 678.6 48.83 657.17 69.59 635.74 91.24 614.31 104.3 592.88 114.07 571.45 128.31 550.02 135.89 528.59 143.88 507.16 153.06 485.73 151.51 464.3 154.24Z" fill="#1f77b4" fill-opacity="0.2"/>
<path d="M464.3 117.89 485.73 114.09 507.16 111.35 528.59 96.83 550.02 86.75 571.45 77.79 592.88 65.99 614.31 55.05 635.74 38.87 657.17 28 678.6 13.14 678.6 25.09 657.17 44.38 635.74 57.72 614.31 74.72 592.88 85.7 571.45 97.68 550.02 107.44 528.59 118.79 507.16 134.46 485.73 137.64 464.3 140.9Z" fill="#ff7f0e" fill-opacity="0.2"/>
<path d="M464.3 71.91 485.73 71.22 507.16 69.15 528.59 65.44 550.02 51.75 571.45 46.73 592.88 33.61 614.31 26.25 635.74 18.75 657.17 11.96 678.6 8.96 678.6 20.29 657.17 28.69 635.74 39.41 614.31 48.81 592.88 56.22 571.45 68.36 550.02 72.36 528.59 85.66 507.16 89.7 485.73 92.43 464.3 93.53Z" fill="#2ca02c" fill-opacity="0.2"/>
<path d="M464.3 44.92 485.73 46.25 507.16 37.2 528.59 37 550.02 32.68 571.45 18.54 592.88 19.85 614.31 18.42 635.74 8.74 657.17 10.44 678.6 11.07 678.6 21.62 657.17 26.55 635.74 29.92 614.31 43.34 592.88 46.57 571.45 45.1 550.02 57.68 528.59 59.97 507.16 58.45 485.73 66.49 464.3 64.84Z" fill="#d62728" fill-opacity="0.2"/>
<path d="M464.3 35.16 485.73 35.82 507.16 28.65 528.59 22.43 550.02 14.57 571.45 8.03 592.88 3.59 614.31 2.83 635.74 4.68 657.17 6.33 678.6 8.38 678.6 17.8 657.17 20.19 635.74 23.26 614.31 25.96 592.88 30.15 571.45 36.06 550.02 41.97 528.59 47.72 507.16 51.4 485.73 56.54 464.3 54.82Z" fill="#9467bd" fill-opacity="0.2"/>
<path d="M464.3 144.92 485.73 141.91 507.16 143.53 528.59 134.72 550.02 127.31 571.45 120.36 592.88 106.69 614.31 97.43 635.74 84.92 657.17 64.07 678.6 44.61" stroke="#1f77b4" stroke-width="1.1" fill="none" stroke-linejoin="round"/>
<path d="M464.3 129.63 485.73 126.62 507.16 123.84 528.59 108.55 550.02 97.43 571.45 87.7 592.88 75.65 614.31 64.76 635.74 48.31 657.17 36.27 678.6 19.12" stroke="#ff7f0e" stroke-width="1.1" fill="none" stroke-linejoin="round"/>
<path d="M464.3 83.76 485.73 82.83 507.16 80.05 528.59 75.65 550.02 61.75 571.45 57.12 592.88 44.61 614.31 37.42 635.74 29.08 657.17 20.28 678.6 14.49" stroke="#2ca02c" stroke-width="1.1" fill="none" stroke-linejoin="round"/>
<path d="M464.3 52.02 485.73 52.95 507.16 43.68 528.59 43.68 550.02 39.97 571.45 26.54 592.88 28.16 614.31 26.31 635.74 15.42 657.17 15.42 678.6 14.26" stroke="#d62728" stroke-width="1.1" fill="none" stroke-linejoin="round"/>
<path d="M464.3 46.46 485.73 47.16 507.16 40.9 528.59 36.27 550.02 30.01 571.45 24.22 592.88 19.12 614.31 16.34 635.74 15.42 657.17 14.26 678.6 13.8" stroke="#9467bd" stroke-width="1.1" fill="none" stroke-linejoin="round"/>
</g>
<rect x="464.3" y="13.1" width="214.3" height="139" fill="none" stroke="#d6d6d6" stroke-width="0.9"/>
<text x="459.7" y="154.75" font-size="7.84" text-anchor="end" textLength="11.77" lengthAdjust="spacingAndGlyphs" fill="#3a3a3a">0.4</text>
<text x="459.7" y="131.58" font-size="7.84" text-anchor="end" textLength="11.77" lengthAdjust="spacingAndGlyphs" fill="#3a3a3a">0.5</text>
<text x="459.7" y="108.42" font-size="7.84" text-anchor="end" textLength="11.77" lengthAdjust="spacingAndGlyphs" fill="#3a3a3a">0.6</text>
<text x="459.7" y="85.25" font-size="7.84" text-anchor="end" textLength="11.77" lengthAdjust="spacingAndGlyphs" fill="#3a3a3a">0.7</text>
<text x="459.7" y="62.08" font-size="7.84" text-anchor="end" textLength="11.77" lengthAdjust="spacingAndGlyphs" fill="#3a3a3a">0.8</text>
<text x="459.7" y="38.92" font-size="7.84" text-anchor="end" textLength="11.77" lengthAdjust="spacingAndGlyphs" fill="#3a3a3a">0.9</text>
<text x="459.7" y="15.75" font-size="7.84" text-anchor="end" textLength="11.77" lengthAdjust="spacingAndGlyphs" fill="#3a3a3a">1.0</text>
<text x="464.3" y="162.4" font-size="7.84" text-anchor="middle" textLength="11.77" lengthAdjust="spacingAndGlyphs" fill="#3a3a3a">0.0</text>
<text x="507.16" y="162.4" font-size="7.84" text-anchor="middle" textLength="11.77" lengthAdjust="spacingAndGlyphs" fill="#3a3a3a">0.2</text>
<text x="550.02" y="162.4" font-size="7.84" text-anchor="middle" textLength="11.77" lengthAdjust="spacingAndGlyphs" fill="#3a3a3a">0.4</text>
<text x="592.88" y="162.4" font-size="7.84" text-anchor="middle" textLength="11.77" lengthAdjust="spacingAndGlyphs" fill="#3a3a3a">0.6</text>
<text x="635.74" y="162.4" font-size="7.84" text-anchor="middle" textLength="11.77" lengthAdjust="spacingAndGlyphs" fill="#3a3a3a">0.8</text>
<text x="678.6" y="162.4" font-size="7.84" text-anchor="middle" textLength="11.77" lengthAdjust="spacingAndGlyphs" fill="#3a3a3a">1.0</text>
<text x="571.45" y="172.9" font-size="8.11" font-weight="bold" text-anchor="middle" textLength="81.37" lengthAdjust="spacingAndGlyphs" fill="#1c1c1c">% side information</text>
<text x="444.3" y="82.6" font-size="8.09" font-weight="bold" text-anchor="middle" textLength="161.06" lengthAdjust="spacingAndGlyphs" transform="rotate(-90 444.3 82.6)" fill="#1c1c1c">NMI (Normalized Mutual Information)</text>
<text x="417.4" y="7.86" font-size="8.77" font-weight="bold" textLength="11.02" lengthAdjust="spacingAndGlyphs" fill="#1c1c1c">(c)</text>
<text x="659.8" y="89.1" font-size="5.78" font-weight="bold" text-anchor="middle" textLength="22.13" lengthAdjust="spacingAndGlyphs" fill="#1a1a1a">network</text>
<text x="659.8" y="95.8" font-size="5.83" font-weight="bold" text-anchor="middle" textLength="35.48" lengthAdjust="spacingAndGlyphs" fill="#1a1a1a">observability</text>
<rect x="642.2" y="100" width="33.6" height="49" rx="1.5" fill="#fff" fill-opacity="0.8" stroke="#d9d9d9" stroke-width="0.8"/>
<path d="M644.7 105.3H658" stroke="#1f77b4" stroke-width="1.1"/>
<text x="663" y="107.4" font-size="6.25" textLength="9.38" lengthAdjust="spacingAndGlyphs" fill="#3a3a3a">0.2</text>
<path d="M644.7 114.75H658" stroke="#ff7f0e" stroke-width="1.1"/>
<text x="663" y="116.85" font-size="6.25" textLength="9.38" lengthAdjust="spacingAndGlyphs" fill="#3a3a3a">0.4</text>
<path d="M644.7 124.2H658" stroke="#2ca02c" stroke-width="1.1"/>
<text x="663" y="126.3" font-size="6.25" textLength="9.38" lengthAdjust="spacingAndGlyphs" fill="#3a3a3a">0.6</text>
<path d="M644.7 133.65H658" stroke="#d62728" stroke-width="1.1"/>
<text x="663" y="135.75" font-size="6.25" textLength="9.38" lengthAdjust="spacingAndGlyphs" fill="#3a3a3a">0.8</text>
<path d="M644.7 143.1H658" stroke="#9467bd" stroke-width="1.1"/>
<text x="663" y="145.2" font-size="6.25" textLength="3.75" lengthAdjust="spacingAndGlyphs" fill="#3a3a3a">1</text>
<path d="M100.32 346.1L178.25 280.78L177.17 186.57L95.5 246.16Z" fill="#f9f9f9" stroke="#ececec" stroke-width="0.6"/>
<path d="M178.25 280.78L303.3 317.13L307.77 219.67L177.17 186.57Z" fill="#f0f0f0" stroke="#e6e6e6" stroke-width="0.6"/>
<path d="M100.32 346.1L232.88 389.4L303.3 317.13L178.25 280.78Z" fill="#f4f4f4" stroke="#eaeaea" stroke-width="0.6"/>
<path d="M119.92 352.51L196.81 286.17M196.81 286.17L196.51 191.47M145.04 360.71L220.56 293.08M220.56 293.08L221.29 197.75M170.67 369.08L244.76 300.11M244.76 300.11L246.55 204.16M196.84 377.63L269.41 307.28M269.41 307.28L272.32 210.69M223.56 386.36L294.55 314.58M294.55 314.58L298.6 217.35M105.84 341.48L237.89 384.26M105.84 341.48L101.31 241.92M120.37 329.29L251.06 370.74M120.37 329.29L116.58 230.78M134.46 317.48L263.81 357.65M134.46 317.48L131.36 219.99M148.14 306.02L276.17 344.98M148.14 306.02L145.69 209.54M161.41 294.89L288.14 332.69M161.41 294.89L159.58 199.41M174.3 284.09L299.75 320.77M174.3 284.09L173.05 189.58M100.24 344.53L178.23 279.29M178.23 279.29L303.37 315.59M99.49 328.96L178.06 264.57M178.06 264.57L304.07 300.39M98.73 313.16L177.89 249.65M177.89 249.65L304.78 284.97M97.96 297.13L177.72 234.53M177.72 234.53L305.49 269.33M97.17 280.87L177.54 219.2M177.54 219.2L306.22 253.48M96.38 264.36L177.36 203.67M177.36 203.67L306.96 237.39M95.57 247.6L177.18 187.92M177.18 187.92L307.7 221.07" stroke="#dadada" stroke-width="0.7" fill="none"/>
<path d="M100.32 346.1L232.88 389.4M232.88 389.4L303.3 317.13M303.3 317.13L307.77 219.67M119.92 352.51L117.33 354.74M145.04 360.71L142.49 362.99M170.67 369.08L168.17 371.41M196.84 377.63L194.39 380M223.56 386.36L221.16 388.78M237.89 384.26L242.64 385.8M251.06 370.74L255.76 372.23M263.81 357.65L268.46 359.1M276.17 344.98L280.76 346.37M288.14 332.69L292.68 334.04M299.75 320.77L304.25 322.09M303.37 315.59L307.21 316.7M304.07 300.39L307.94 301.49M304.78 284.97L308.67 286.05M305.49 269.33L309.42 270.4M306.22 253.48L310.17 254.53M306.96 237.39L310.94 238.43M307.7 221.07L311.72 222.09" stroke="#333" stroke-width="0.7" fill="none"/>
<g opacity="0.86">
<path d="M215.42 342L229.01 347.47L235.83 339.17L222.31 334.14Z" fill="#2f6b8e" stroke="#2f6b8e" stroke-width="0.3"/>
<path d="M201.97 336.49L215.42 342L222.31 334.14L208.92 328.86Z" fill="#2e6e8e" stroke="#2e6e8e" stroke-width="0.3"/>
<path d="M222.31 334.14L235.83 339.17L242.6 328.03L229.12 324.27Z" fill="#2c728e" stroke="#2c728e" stroke-width="0.3"/>
<path d="M188.65 333.27L201.97 336.49L208.92 328.86L195.67 325.14Z" fill="#2e6f8e" stroke="#2e6f8e" stroke-width="0.3"/>
<path d="M208.92 328.86L222.31 334.14L229.12 324.27L215.78 319.92Z" fill="#2c738e" stroke="#2c738e" stroke-width="0.3"/>
<path d="M229.12 324.27L242.6 328.03L249.36 313.43L235.88 311.54Z" fill="#26818e" stroke="#26818e" stroke-width="0.3"/>
<path d="M175.5 330.96L188.65 333.27L195.67 325.14L182.56 322.63Z" fill="#2f6c8e" stroke="#2f6c8e" stroke-width="0.3"/>
<path d="M235.88 311.54L249.36 313.43L256.11 297.34L242.6 297.18Z" fill="#1f948c" stroke="#1f948c" stroke-width="0.3"/>
<path d="M195.67 325.14L208.92 328.86L215.78 319.92L202.58 316.29Z" fill="#2b748e" stroke="#2b748e" stroke-width="0.3"/>
<path d="M215.78 319.92L229.12 324.27L235.88 311.54L222.56 308.71Z" fill="#277f8e" stroke="#277f8e" stroke-width="0.3"/>
<path d="M242.6 297.18L256.11 297.34L262.75 283.41L249.25 283.84Z" fill="#23a983" stroke="#23a983" stroke-width="0.3"/>
<path d="M162.5 328.81L175.5 330.96L182.56 322.63L169.63 321.24Z" fill="#31678e" stroke="#31678e" stroke-width="0.3"/>
<path d="M182.56 322.63L195.67 325.14L202.58 316.29L189.53 313.77Z" fill="#2c718e" stroke="#2c718e" stroke-width="0.3"/>
<path d="M222.56 308.71L235.88 311.54L242.6 297.18L229.3 295.3Z" fill="#218f8d" stroke="#218f8d" stroke-width="0.3"/>
<path d="M202.58 316.29L215.78 319.92L222.56 308.71L209.4 305.78Z" fill="#287d8e" stroke="#287d8e" stroke-width="0.3"/>
<path d="M249.25 283.84L262.75 283.41L269.29 271.01L255.8 272.26Z" fill="#38b977" stroke="#38b977" stroke-width="0.3"/>
<path d="M229.3 295.3L242.6 297.18L249.25 283.84L235.99 280.75Z" fill="#1fa287" stroke="#1fa287" stroke-width="0.3"/>
<path d="M149.67 327.05L162.5 328.81L169.63 321.24L156.91 322.21Z" fill="#355f8d" stroke="#355f8d" stroke-width="0.3"/>
<path d="M169.63 321.24L182.56 322.63L189.53 313.77L176.64 312.88Z" fill="#2f6c8e" stroke="#2f6c8e" stroke-width="0.3"/>
<path d="M209.4 305.78L222.56 308.71L229.3 295.3L216.16 292.75Z" fill="#228c8d" stroke="#228c8d" stroke-width="0.3"/>
<path d="M189.53 313.77L202.58 316.29L209.4 305.78L196.39 303.64Z" fill="#297a8e" stroke="#297a8e" stroke-width="0.3"/>
<path d="M255.8 272.26L269.29 271.01L275.79 257.95L262.35 257.78Z" fill="#5ac864" stroke="#5ac864" stroke-width="0.3"/>
<path d="M235.99 280.75L249.25 283.84L255.8 272.26L242.61 267.09Z" fill="#2fb47c" stroke="#2fb47c" stroke-width="0.3"/>
<path d="M216.16 292.75L229.3 295.3L235.99 280.75L222.87 277.09Z" fill="#1fa088" stroke="#1fa088" stroke-width="0.3"/>
<path d="M196.39 303.64L209.4 305.78L216.16 292.75L203.17 291.28Z" fill="#23888e" stroke="#23888e" stroke-width="0.3"/>
<path d="M176.64 312.88L189.53 313.77L196.39 303.64L183.54 302.81Z" fill="#2b748e" stroke="#2b748e" stroke-width="0.3"/>
<path d="M262.35 257.78L275.79 257.95L282.26 244.22L268.85 243.71Z" fill="#8ed645" stroke="#8ed645" stroke-width="0.3"/>
<path d="M137.08 327.99L149.67 327.05L156.91 322.21L144.4 324.19Z" fill="#3b528b" stroke="#3b528b" stroke-width="0.3"/>
<path d="M156.91 322.21L169.63 321.24L176.64 312.88L163.97 314.93Z" fill="#34618d" stroke="#34618d" stroke-width="0.3"/>
<path d="M242.61 267.09L255.8 272.26L262.35 257.78L249.16 253.84Z" fill="#52c569" stroke="#52c569" stroke-width="0.3"/>
<path d="M222.87 277.09L235.99 280.75L242.61 267.09L229.53 262.09Z" fill="#32b67a" stroke="#32b67a" stroke-width="0.3"/>
<path d="M203.17 291.28L216.16 292.75L222.87 277.09L209.89 275.15Z" fill="#1e9d89" stroke="#1e9d89" stroke-width="0.3"/>
<path d="M268.85 243.71L282.26 244.22L288.56 233.42L275.24 231.12Z" fill="#bddf26" stroke="#bddf26" stroke-width="0.3"/>
<path d="M183.54 302.81L196.39 303.64L203.17 291.28L190.34 291.05Z" fill="#26828e" stroke="#26828e" stroke-width="0.3"/>
<path d="M249.16 253.84L262.35 257.78L268.85 243.71L255.67 240.51Z" fill="#81d34d" stroke="#81d34d" stroke-width="0.3"/>
<path d="M229.53 262.09L242.61 267.09L249.16 253.84L236.12 249.18Z" fill="#58c765" stroke="#58c765" stroke-width="0.3"/>
<path d="M124.55 325.41L137.08 327.99L144.4 324.19L131.88 319.79Z" fill="#3e4989" stroke="#3e4989" stroke-width="0.3"/>
<path d="M209.89 275.15L222.87 277.09L229.53 262.09L216.56 259.19Z" fill="#31b57b" stroke="#31b57b" stroke-width="0.3"/>
<path d="M163.97 314.93L176.64 312.88L183.54 302.81L170.89 304.35Z" fill="#30698e" stroke="#30698e" stroke-width="0.3"/>
<path d="M144.4 324.19L156.91 322.21L163.97 314.93L151.54 318.58Z" fill="#3c508b" stroke="#3c508b" stroke-width="0.3"/>
<path d="M111.8 314.4L124.55 325.41L131.88 319.79L119.19 308.26Z" fill="#3a548c" stroke="#3a548c" stroke-width="0.3"/>
<path d="M190.34 291.05L203.17 291.28L209.89 275.15L197.06 276.02Z" fill="#1f958b" stroke="#1f958b" stroke-width="0.3"/>
<path d="M275.24 231.12L288.56 233.42L294.76 223.62L281.53 220.2Z" fill="#e5e419" stroke="#e5e419" stroke-width="0.3"/>
<path d="M255.67 240.51L268.85 243.71L275.24 231.12L262.09 228.05Z" fill="#b5de2b" stroke="#b5de2b" stroke-width="0.3"/>
<path d="M236.12 249.18L249.16 253.84L255.67 240.51L242.63 236.82Z" fill="#84d44b" stroke="#84d44b" stroke-width="0.3"/>
<path d="M216.56 259.19L229.53 262.09L236.12 249.18L223.17 246.49Z" fill="#58c765" stroke="#58c765" stroke-width="0.3"/>
<path d="M170.89 304.35L183.54 302.81L190.34 291.05L177.71 293.35Z" fill="#2a768e" stroke="#2a768e" stroke-width="0.3"/>
<path d="M197.06 276.02L209.89 275.15L216.56 259.19L203.73 260.1Z" fill="#27ad81" stroke="#27ad81" stroke-width="0.3"/>
<path d="M131.88 319.79L144.4 324.19L151.54 318.58L139.08 314.26Z" fill="#3f4788" stroke="#3f4788" stroke-width="0.3"/>
<path d="M151.54 318.58L163.97 314.93L170.89 304.35L158.46 307.94Z" fill="#38588c" stroke="#38588c" stroke-width="0.3"/>
<path d="M262.09 228.05L275.24 231.12L281.53 220.2L268.43 216.82Z" fill="#e2e418" stroke="#e2e418" stroke-width="0.3"/>
<path d="M242.63 236.82L255.67 240.51L262.09 228.05L249.08 224.81Z" fill="#b5de2b" stroke="#b5de2b" stroke-width="0.3"/>
<path d="M223.17 246.49L236.12 249.18L242.63 236.82L229.71 234.37Z" fill="#84d44b" stroke="#84d44b" stroke-width="0.3"/>
<path d="M203.73 260.1L216.56 259.19L223.17 246.49L210.35 247.41Z" fill="#4cc26c" stroke="#4cc26c" stroke-width="0.3"/>
<path d="M177.71 293.35L190.34 291.05L197.06 276.02L184.44 280.12Z" fill="#24878e" stroke="#24878e" stroke-width="0.3"/>
<path d="M119.19 308.26L131.88 319.79L139.08 314.26L126.43 301.04Z" fill="#3a548c" stroke="#3a548c" stroke-width="0.3"/>
<path d="M249.08 224.81L262.09 228.05L268.43 216.82L255.45 213.79Z" fill="#e2e418" stroke="#e2e418" stroke-width="0.3"/>
<path d="M229.71 234.37L242.63 236.82L249.08 224.81L236.19 221.92Z" fill="#b2dd2d" stroke="#b2dd2d" stroke-width="0.3"/>
<path d="M158.46 307.94L170.89 304.35L177.71 293.35L165.29 296.51Z" fill="#32658e" stroke="#32658e" stroke-width="0.3"/>
<path d="M184.44 280.12L197.06 276.02L203.73 260.1L191.11 265.92Z" fill="#1f9e89" stroke="#1f9e89" stroke-width="0.3"/>
<path d="M210.35 247.41L223.17 246.49L229.71 234.37L216.92 233.74Z" fill="#75d054" stroke="#75d054" stroke-width="0.3"/>
<path d="M139.08 314.26L151.54 318.58L158.46 307.94L146.08 305.25Z" fill="#3e4c8a" stroke="#3e4c8a" stroke-width="0.3"/>
<path d="M126.43 301.04L139.08 314.26L146.08 305.25L133.61 295.53Z" fill="#39568c" stroke="#39568c" stroke-width="0.3"/>
<path d="M191.11 265.92L203.73 260.1L210.35 247.41L197.72 252.7Z" fill="#2eb37c" stroke="#2eb37c" stroke-width="0.3"/>
<path d="M236.19 221.92L249.08 224.81L255.45 213.79L242.59 210.95Z" fill="#dfe318" stroke="#dfe318" stroke-width="0.3"/>
<path d="M165.29 296.51L177.71 293.35L184.44 280.12L172.05 285.2Z" fill="#2b748e" stroke="#2b748e" stroke-width="0.3"/>
<path d="M216.92 233.74L229.71 234.37L236.19 221.92L223.44 219.5Z" fill="#aadc32" stroke="#aadc32" stroke-width="0.3"/>
<path d="M146.08 305.25L158.46 307.94L165.29 296.51L152.96 294.88Z" fill="#38598c" stroke="#38598c" stroke-width="0.3"/>
<path d="M197.72 252.7L210.35 247.41L216.92 233.74L204.28 236.44Z" fill="#54c568" stroke="#54c568" stroke-width="0.3"/>
<path d="M172.05 285.2L184.44 280.12L191.11 265.92L178.72 272.45Z" fill="#24878e" stroke="#24878e" stroke-width="0.3"/>
<path d="M223.44 219.5L236.19 221.92L242.59 210.95L229.87 208.18Z" fill="#dae319" stroke="#dae319" stroke-width="0.3"/>
<path d="M133.61 295.53L146.08 305.25L152.96 294.88L140.63 288.15Z" fill="#365d8d" stroke="#365d8d" stroke-width="0.3"/>
<path d="M204.28 236.44L216.92 233.74L223.44 219.5L210.81 218.17Z" fill="#95d840" stroke="#95d840" stroke-width="0.3"/>
<path d="M152.96 294.88L165.29 296.51L172.05 285.2L159.79 286.28Z" fill="#31668e" stroke="#31668e" stroke-width="0.3"/>
<path d="M178.72 272.45L191.11 265.92L197.72 252.7L185.32 259Z" fill="#1e9b8a" stroke="#1e9b8a" stroke-width="0.3"/>
<path d="M210.81 218.17L223.44 219.5L229.87 208.18L217.28 206.52Z" fill="#d2e21b" stroke="#d2e21b" stroke-width="0.3"/>
<path d="M185.32 259L197.72 252.7L204.28 236.44L191.86 243.02Z" fill="#2db27d" stroke="#2db27d" stroke-width="0.3"/>
<path d="M140.63 288.15L152.96 294.88L159.79 286.28L147.56 281.51Z" fill="#32648e" stroke="#32648e" stroke-width="0.3"/>
<path d="M159.79 286.28L172.05 285.2L178.72 272.45L166.5 275.34Z" fill="#2c738e" stroke="#2c738e" stroke-width="0.3"/>
<path d="M191.86 243.02L204.28 236.44L210.81 218.17L198.34 219.97Z" fill="#6ece58" stroke="#6ece58" stroke-width="0.3"/>
<path d="M198.34 219.97L210.81 218.17L217.28 206.52L204.82 208.44Z" fill="#bade28" stroke="#bade28" stroke-width="0.3"/>
<path d="M166.5 275.34L178.72 272.45L185.32 259L173.09 261.38Z" fill="#24868e" stroke="#24868e" stroke-width="0.3"/>
<path d="M147.56 281.51L159.79 286.28L166.5 275.34L154.38 274.14Z" fill="#2f6c8e" stroke="#2f6c8e" stroke-width="0.3"/>
<path d="M173.09 261.38L185.32 259L191.86 243.02L179.61 245.03Z" fill="#1f9f88" stroke="#1f9f88" stroke-width="0.3"/>
<path d="M179.61 245.03L191.86 243.02L198.34 219.97L186.05 223.76Z" fill="#48c16e" stroke="#48c16e" stroke-width="0.3"/>
<path d="M154.38 274.14L166.5 275.34L173.09 261.38L161.07 265.07Z" fill="#2a788e" stroke="#2a788e" stroke-width="0.3"/>
<path d="M186.05 223.76L198.34 219.97L204.82 208.44L192.56 217.05Z" fill="#86d549" stroke="#86d549" stroke-width="0.3"/>
<path d="M161.07 265.07L173.09 261.38L179.61 245.03L167.66 254.11Z" fill="#228b8d" stroke="#228b8d" stroke-width="0.3"/>
<path d="M167.66 254.11L179.61 245.03L186.05 223.76L174.18 243.56Z" fill="#20a386" stroke="#20a386" stroke-width="0.3"/>
<path d="M174.18 243.56L186.05 223.76L192.56 217.05L180.59 229.58Z" fill="#35b779" stroke="#35b779" stroke-width="0.3"/>
</g>
<path d="M228.23 347.16L229.29 347.12M145.56 283.43L150.57 282.68L160.91 284.46L162.08 286.08L167.39 292.99L168.39 295.72L170.77 304.38L170.78 304.51L173.6 313.37L172.12 318.28L173.52 321.66L176.18 330.16L176.91 331.21M172.69 245.97L171.58 251.13L174.65 257.48L178.55 260.32L182.63 264.48L184.49 269.41L186.91 274.85L189.6 278.45L193.73 283.46L203.91 289.49L209.55 292L215.03 294.92L227.06 299.76L238.98 304.91L250.54 310.63M184.67 225.31L181.51 231.33L182.52 235.42L192.54 240.59L194.19 241.79L199.39 248.56L201.69 251.04L204.79 258.08L206.98 259.87L214.4 264.37L226.62 268.65L240.33 271.78L254.4 274.73L263.04 282.86M198.02 213.21L198.14 220.03L198.3 220.12L208.21 225.45L218.2 230.94L224.97 234.13L228.71 236.22L240.72 240.44L254.16 243.6L267.22 247.24L278.13 252.99" stroke="#0a1a20" stroke-opacity="0.5" stroke-width="0.7" fill="none" stroke-linejoin="round"/>
<text x="118.2" y="361.5" font-size="5.94" text-anchor="middle" textLength="8.91" lengthAdjust="spacingAndGlyphs" fill="#2e2e2e">0.2</text>
<text x="143.2" y="370.2" font-size="5.94" text-anchor="middle" textLength="8.91" lengthAdjust="spacingAndGlyphs" fill="#2e2e2e">0.4</text>
<text x="168.6" y="378.8" font-size="5.94" text-anchor="middle" textLength="8.91" lengthAdjust="spacingAndGlyphs" fill="#2e2e2e">0.6</text>
<text x="194.9" y="387.3" font-size="5.94" text-anchor="middle" textLength="8.91" lengthAdjust="spacingAndGlyphs" fill="#2e2e2e">0.8</text>
<text x="221.9" y="395.8" font-size="5.94" text-anchor="middle" textLength="8.91" lengthAdjust="spacingAndGlyphs" fill="#2e2e2e">1.0</text>
<text x="241.5" y="393" font-size="5.94" text-anchor="middle" textLength="8.91" lengthAdjust="spacingAndGlyphs" fill="#2e2e2e">0.0</text>
<text x="254.3" y="379.4" font-size="5.94" text-anchor="middle" textLength="8.91" lengthAdjust="spacingAndGlyphs" fill="#2e2e2e">0.2</text>
<text x="267.1" y="366.5" font-size="5.94" text-anchor="middle" textLength="8.91" lengthAdjust="spacingAndGlyphs" fill="#2e2e2e">0.4</text>
<text x="278.7" y="353.9" font-size="5.94" text-anchor="middle" textLength="8.91" lengthAdjust="spacingAndGlyphs" fill="#2e2e2e">0.6</text>
<text x="290.8" y="340.8" font-size="5.94" text-anchor="middle" textLength="8.91" lengthAdjust="spacingAndGlyphs" fill="#2e2e2e">0.8</text>
<text x="302.9" y="329.7" font-size="5.94" text-anchor="middle" textLength="8.91" lengthAdjust="spacingAndGlyphs" fill="#2e2e2e">1.0</text>
<text x="304.6" y="318.7" font-size="5.94" textLength="8.91" lengthAdjust="spacingAndGlyphs" fill="#2e2e2e">0.4</text>
<text x="305.17" y="303.5" font-size="5.94" textLength="8.91" lengthAdjust="spacingAndGlyphs" fill="#2e2e2e">0.5</text>
<text x="305.74" y="288.4" font-size="5.94" textLength="8.91" lengthAdjust="spacingAndGlyphs" fill="#2e2e2e">0.6</text>
<text x="306.31" y="273.2" font-size="5.94" textLength="8.91" lengthAdjust="spacingAndGlyphs" fill="#2e2e2e">0.7</text>
<text x="306.9" y="257.5" font-size="5.94" textLength="8.91" lengthAdjust="spacingAndGlyphs" fill="#2e2e2e">0.8</text>
<text x="307.51" y="241.4" font-size="5.94" textLength="8.91" lengthAdjust="spacingAndGlyphs" fill="#2e2e2e">0.9</text>
<text x="308.1" y="225.6" font-size="5.94" textLength="8.91" lengthAdjust="spacingAndGlyphs" fill="#2e2e2e">1.0</text>
<text x="159" y="381.5" font-size="7.19" font-weight="bold" text-anchor="middle" textLength="72.12" lengthAdjust="spacingAndGlyphs" transform="rotate(17.6 159 381.5)" fill="#1c1c1c">% side information</text>
<text x="279.6" y="362.4" font-size="7.19" font-weight="bold" text-anchor="middle" textLength="59.13" lengthAdjust="spacingAndGlyphs" transform="rotate(-43.3 279.6 362.4)" fill="#1c1c1c">% observability</text>
<text x="322.3" y="267.3" font-size="7.23" font-weight="bold" text-anchor="middle" textLength="120.5" lengthAdjust="spacingAndGlyphs" transform="rotate(-88 322.3 267.3)" fill="#1c1c1c">Normalized Mutual Information</text>
<text x="106.1" y="198.36" font-size="9.73" font-weight="bold" textLength="11.22" lengthAdjust="spacingAndGlyphs" fill="#1c1c1c">(d)</text>
<path d="M352.52 346.3L430.45 280.98L429.37 186.77L347.7 246.36Z" fill="#f9f9f9" stroke="#ececec" stroke-width="0.6"/>
<path d="M430.45 280.98L555.5 317.33L559.97 219.87L429.37 186.77Z" fill="#f0f0f0" stroke="#e6e6e6" stroke-width="0.6"/>
<path d="M352.52 346.3L485.08 389.6L555.5 317.33L430.45 280.98Z" fill="#f4f4f4" stroke="#eaeaea" stroke-width="0.6"/>
<path d="M372.12 352.71L449.01 286.37M449.01 286.37L448.71 191.67M397.24 360.91L472.76 293.28M472.76 293.28L473.49 197.95M422.87 369.28L496.96 300.31M496.96 300.31L498.75 204.36M449.04 377.83L521.61 307.48M521.61 307.48L524.52 210.89M475.76 386.56L546.75 314.78M546.75 314.78L550.8 217.55M358.04 341.68L490.09 384.46M358.04 341.68L353.51 242.12M372.57 329.49L503.26 370.94M372.57 329.49L368.78 230.98M386.66 317.68L516.01 357.85M386.66 317.68L383.56 220.19M400.34 306.22L528.37 345.18M400.34 306.22L397.89 209.74M413.61 295.09L540.34 332.89M413.61 295.09L411.78 199.61M426.5 284.29L551.95 320.97M426.5 284.29L425.25 189.78M352.44 344.73L430.43 279.49M430.43 279.49L555.57 315.79M351.69 329.16L430.26 264.77M430.26 264.77L556.27 300.59M350.93 313.36L430.09 249.85M430.09 249.85L556.98 285.17M350.16 297.33L429.92 234.73M429.92 234.73L557.69 269.53M349.37 281.07L429.74 219.4M429.74 219.4L558.42 253.68M348.58 264.56L429.56 203.87M429.56 203.87L559.16 237.59M347.77 247.8L429.38 188.12M429.38 188.12L559.9 221.27" stroke="#dadada" stroke-width="0.7" fill="none"/>
<path d="M352.52 346.3L485.08 389.6M485.08 389.6L555.5 317.33M555.5 317.33L559.97 219.87M372.12 352.71L369.53 354.94M397.24 360.91L394.69 363.19M422.87 369.28L420.37 371.61M449.04 377.83L446.59 380.2M475.76 386.56L473.36 388.98M490.09 384.46L494.84 386M503.26 370.94L507.96 372.43M516.01 357.85L520.66 359.3M528.37 345.18L532.96 346.57M540.34 332.89L544.88 334.24M551.95 320.97L556.45 322.29M555.57 315.79L559.41 316.9M556.27 300.59L560.14 301.69M556.98 285.17L560.87 286.25M557.69 269.53L561.62 270.6M558.42 253.68L562.37 254.73M559.16 237.59L563.14 238.63M559.9 221.27L563.92 222.29" stroke="#333" stroke-width="0.7" fill="none"/>
<g opacity="0.88">
<path d="M481.71 305.02L488.62 299.76L476.71 293.96Z" fill="#5ec962" stroke="#5ec962" stroke-width="0.3"/>
<path d="M469.95 301.54L481.71 305.02L476.71 293.96Z" fill="#5cc863" stroke="#5cc863" stroke-width="0.3"/>
<path d="M488.62 299.76L495.48 290.04L483.42 283.43Z" fill="#6ccd5a" stroke="#6ccd5a" stroke-width="0.3"/>
<path d="M476.71 293.96L488.62 299.76L483.42 283.43Z" fill="#65cb5e" stroke="#65cb5e" stroke-width="0.3"/>
<path d="M469.95 301.54L476.71 293.96L465.6 291.16Z" fill="#54c568" stroke="#54c568" stroke-width="0.3"/>
<path d="M459.09 300.78L469.95 301.54L465.6 291.16Z" fill="#48c16e" stroke="#48c16e" stroke-width="0.3"/>
<path d="M495.48 290.04L502.3 278.67L490.05 272.8Z" fill="#86d549" stroke="#86d549" stroke-width="0.3"/>
<path d="M483.42 283.43L495.48 290.04L490.05 272.8Z" fill="#7fd34e" stroke="#7fd34e" stroke-width="0.3"/>
<path d="M476.71 293.96L483.42 283.43L472.03 280.49Z" fill="#67cc5c" stroke="#67cc5c" stroke-width="0.3"/>
<path d="M465.6 291.16L476.71 293.96L472.03 280.49Z" fill="#5ac864" stroke="#5ac864" stroke-width="0.3"/>
<path d="M502.3 278.67L509.02 267.91L496.56 264.4Z" fill="#a2da37" stroke="#a2da37" stroke-width="0.3"/>
<path d="M490.05 272.8L502.3 278.67L496.56 264.4Z" fill="#98d83e" stroke="#98d83e" stroke-width="0.3"/>
<path d="M459.09 300.78L465.6 291.16L456.57 290.48Z" fill="#3aba76" stroke="#3aba76" stroke-width="0.3"/>
<path d="M483.42 283.43L490.05 272.8L478.39 270.94Z" fill="#84d44b" stroke="#84d44b" stroke-width="0.3"/>
<path d="M472.03 280.49L483.42 283.43L478.39 270.94Z" fill="#73d056" stroke="#73d056" stroke-width="0.3"/>
<path d="M450.59 300.63L459.09 300.78L456.57 290.48Z" fill="#2cb17e" stroke="#2cb17e" stroke-width="0.3"/>
<path d="M465.6 291.16L472.03 280.49L462.49 278.76Z" fill="#52c569" stroke="#52c569" stroke-width="0.3"/>
<path d="M509.02 267.91L515.64 257.83L503.01 255.2Z" fill="#bddf26" stroke="#bddf26" stroke-width="0.3"/>
<path d="M496.56 264.4L509.02 267.91L503.01 255.2Z" fill="#b2dd2d" stroke="#b2dd2d" stroke-width="0.3"/>
<path d="M490.05 272.8L496.56 264.4L484.67 262.15Z" fill="#9bd93c" stroke="#9bd93c" stroke-width="0.3"/>
<path d="M478.39 270.94L490.05 272.8L484.67 262.15Z" fill="#8ed645" stroke="#8ed645" stroke-width="0.3"/>
<path d="M456.57 290.48L465.6 291.16L462.49 278.76Z" fill="#3fbc73" stroke="#3fbc73" stroke-width="0.3"/>
<path d="M472.03 280.49L478.39 270.94L468.36 268.97Z" fill="#6ccd5a" stroke="#6ccd5a" stroke-width="0.3"/>
<path d="M503.01 255.2L515.64 257.83L509.35 247.2Z" fill="#c8e020" stroke="#c8e020" stroke-width="0.3"/>
<path d="M515.64 257.83L522.11 250.31L509.35 247.2Z" fill="#d2e21b" stroke="#d2e21b" stroke-width="0.3"/>
<path d="M462.49 278.76L472.03 280.49L468.36 268.97Z" fill="#5ac864" stroke="#5ac864" stroke-width="0.3"/>
<path d="M496.56 264.4L503.01 255.2L490.88 252.8Z" fill="#b2dd2d" stroke="#b2dd2d" stroke-width="0.3"/>
<path d="M484.67 262.15L496.56 264.4L490.88 252.8Z" fill="#a2da37" stroke="#a2da37" stroke-width="0.3"/>
<path d="M450.59 300.63L456.57 290.48L449.33 288.82Z" fill="#23a983" stroke="#23a983" stroke-width="0.3"/>
<path d="M478.39 270.94L484.67 262.15L474.16 259.91Z" fill="#84d44b" stroke="#84d44b" stroke-width="0.3"/>
<path d="M468.36 268.97L478.39 270.94L474.16 259.91Z" fill="#73d056" stroke="#73d056" stroke-width="0.3"/>
<path d="M456.57 290.48L462.49 278.76L454.55 278.09Z" fill="#34b679" stroke="#34b679" stroke-width="0.3"/>
<path d="M444.09 301.35L450.59 300.63L449.33 288.82Z" fill="#1e9d89" stroke="#1e9d89" stroke-width="0.3"/>
<path d="M509.35 247.2L522.11 250.31L515.58 240.18Z" fill="#d5e21a" stroke="#d5e21a" stroke-width="0.3"/>
<path d="M503.01 255.2L509.35 247.2L496.99 244.77Z" fill="#c5e021" stroke="#c5e021" stroke-width="0.3"/>
<path d="M522.11 250.31L528.48 243.14L515.58 240.18Z" fill="#dde318" stroke="#dde318" stroke-width="0.3"/>
<path d="M490.88 252.8L503.01 255.2L496.99 244.77Z" fill="#bade28" stroke="#bade28" stroke-width="0.3"/>
<path d="M484.67 262.15L490.88 252.8L479.91 251.01Z" fill="#9dd93b" stroke="#9dd93b" stroke-width="0.3"/>
<path d="M449.33 288.82L456.57 290.48L454.55 278.09Z" fill="#25ac82" stroke="#25ac82" stroke-width="0.3"/>
<path d="M462.49 278.76L468.36 268.97L459.73 269.04Z" fill="#4cc26c" stroke="#4cc26c" stroke-width="0.3"/>
<path d="M474.16 259.91L484.67 262.15L479.91 251.01Z" fill="#8bd646" stroke="#8bd646" stroke-width="0.3"/>
<path d="M454.55 278.09L462.49 278.76L459.73 269.04Z" fill="#38b977" stroke="#38b977" stroke-width="0.3"/>
<path d="M509.35 247.2L515.58 240.18L503.02 237.65Z" fill="#d2e21b" stroke="#d2e21b" stroke-width="0.3"/>
<path d="M496.99 244.77L509.35 247.2L503.02 237.65Z" fill="#cae11f" stroke="#cae11f" stroke-width="0.3"/>
<path d="M515.58 240.18L528.48 243.14L521.7 233.8Z" fill="#dfe318" stroke="#dfe318" stroke-width="0.3"/>
<path d="M528.48 243.14L534.72 236.83L521.7 233.8Z" fill="#e5e419" stroke="#e5e419" stroke-width="0.3"/>
<path d="M468.36 268.97L474.16 259.91L464.87 259.64Z" fill="#65cb5e" stroke="#65cb5e" stroke-width="0.3"/>
<path d="M490.88 252.8L496.99 244.77L485.59 243.1Z" fill="#b2dd2d" stroke="#b2dd2d" stroke-width="0.3"/>
<path d="M479.91 251.01L490.88 252.8L485.59 243.1Z" fill="#a5db36" stroke="#a5db36" stroke-width="0.3"/>
<path d="M444.09 301.35L449.33 288.82L438.03 296.21Z" fill="#21908d" stroke="#21908d" stroke-width="0.3"/>
<path d="M459.73 269.04L468.36 268.97L464.87 259.64Z" fill="#50c46a" stroke="#50c46a" stroke-width="0.3"/>
<path d="M474.16 259.91L479.91 251.01L469.97 250.55Z" fill="#7fd34e" stroke="#7fd34e" stroke-width="0.3"/>
<path d="M449.33 288.82L454.55 278.09L443.05 284.8Z" fill="#1fa187" stroke="#1fa187" stroke-width="0.3"/>
<path d="M503.02 237.65L515.58 240.18L508.96 231.03Z" fill="#d8e219" stroke="#d8e219" stroke-width="0.3"/>
<path d="M433.01 309.37L444.09 301.35L438.03 296.21Z" fill="#277e8e" stroke="#277e8e" stroke-width="0.3"/>
<path d="M515.58 240.18L521.7 233.8L508.96 231.03Z" fill="#dde318" stroke="#dde318" stroke-width="0.3"/>
<path d="M496.99 244.77L503.02 237.65L491.19 235.59Z" fill="#c5e021" stroke="#c5e021" stroke-width="0.3"/>
<path d="M521.7 233.8L534.72 236.83L527.74 227.73Z" fill="#e5e419" stroke="#e5e419" stroke-width="0.3"/>
<path d="M485.59 243.1L496.99 244.77L491.19 235.59Z" fill="#b8de29" stroke="#b8de29" stroke-width="0.3"/>
<path d="M464.87 259.64L474.16 259.91L469.97 250.55Z" fill="#69cd5b" stroke="#69cd5b" stroke-width="0.3"/>
<path d="M534.72 236.83L540.88 230.52L527.74 227.73Z" fill="#eae51a" stroke="#eae51a" stroke-width="0.3"/>
<path d="M438.03 296.21L449.33 288.82L443.05 284.8Z" fill="#20928c" stroke="#20928c" stroke-width="0.3"/>
<path d="M454.55 278.09L459.73 269.04L448.04 274.56Z" fill="#29af7f" stroke="#29af7f" stroke-width="0.3"/>
<path d="M479.91 251.01L485.59 243.1L475.02 241.97Z" fill="#98d83e" stroke="#98d83e" stroke-width="0.3"/>
<path d="M406.49 335.65L433.01 309.37L413.07 325.36Z" fill="#3c4f8a" stroke="#3c4f8a" stroke-width="0.3"/>
<path d="M433.01 309.37L438.03 296.21L413.07 325.36Z" fill="#31688e" stroke="#31688e" stroke-width="0.3"/>
<path d="M443.05 284.8L454.55 278.09L448.04 274.56Z" fill="#1fa287" stroke="#1fa287" stroke-width="0.3"/>
<path d="M389.67 340.82L406.49 335.65L396.84 333.18Z" fill="#472d7b" stroke="#472d7b" stroke-width="0.3"/>
<path d="M469.97 250.55L479.91 251.01L475.02 241.97Z" fill="#86d549" stroke="#86d549" stroke-width="0.3"/>
<path d="M406.49 335.65L413.07 325.36L396.84 333.18Z" fill="#453882" stroke="#453882" stroke-width="0.3"/>
<path d="M459.73 269.04L464.87 259.64L453 264.45Z" fill="#3dbc74" stroke="#3dbc74" stroke-width="0.3"/>
<path d="M503.02 237.65L508.96 231.03L496.74 228.45Z" fill="#d2e21b" stroke="#d2e21b" stroke-width="0.3"/>
<path d="M508.96 231.03L521.7 233.8L514.81 224.69Z" fill="#dfe318" stroke="#dfe318" stroke-width="0.3"/>
<path d="M491.19 235.59L503.02 237.65L496.74 228.45Z" fill="#cae11f" stroke="#cae11f" stroke-width="0.3"/>
<path d="M521.7 233.8L527.74 227.73L514.81 224.69Z" fill="#e5e419" stroke="#e5e419" stroke-width="0.3"/>
<path d="M413.07 325.36L438.03 296.21L419.58 314.51Z" fill="#34608d" stroke="#34608d" stroke-width="0.3"/>
<path d="M527.74 227.73L540.88 230.52L533.69 221.65Z" fill="#eae51a" stroke="#eae51a" stroke-width="0.3"/>
<path d="M438.03 296.21L443.05 284.8L419.58 314.51Z" fill="#29798e" stroke="#29798e" stroke-width="0.3"/>
<path d="M485.59 243.1L491.19 235.59L480.03 233.79Z" fill="#b0dd2f" stroke="#b0dd2f" stroke-width="0.3"/>
<path d="M448.04 274.56L459.73 269.04L453 264.45Z" fill="#29af7f" stroke="#29af7f" stroke-width="0.3"/>
<path d="M540.88 230.52L546.92 224.93L533.69 221.65Z" fill="#ece51b" stroke="#ece51b" stroke-width="0.3"/>
<path d="M464.87 259.64L469.97 250.55L457.93 254.44Z" fill="#56c667" stroke="#56c667" stroke-width="0.3"/>
<path d="M475.02 241.97L485.59 243.1L480.03 233.79Z" fill="#a0da39" stroke="#a0da39" stroke-width="0.3"/>
<path d="M377.28 340.04L389.67 340.82L384.41 330Z" fill="#482374" stroke="#482374" stroke-width="0.3"/>
<path d="M389.67 340.82L396.84 333.18L384.41 330Z" fill="#482878" stroke="#482878" stroke-width="0.3"/>
<path d="M396.84 333.18L413.07 325.36L403.85 323.33Z" fill="#453882" stroke="#453882" stroke-width="0.3"/>
<path d="M413.07 325.36L419.58 314.51L403.85 323.33Z" fill="#404688" stroke="#404688" stroke-width="0.3"/>
<path d="M443.05 284.8L448.04 274.56L426 302.92Z" fill="#23898e" stroke="#23898e" stroke-width="0.3"/>
<path d="M419.58 314.51L443.05 284.8L426 302.92Z" fill="#2d708e" stroke="#2d708e" stroke-width="0.3"/>
<path d="M453 264.45L464.87 259.64L457.93 254.44Z" fill="#3fbc73" stroke="#3fbc73" stroke-width="0.3"/>
<path d="M508.96 231.03L514.81 224.69L502.21 221.66Z" fill="#dfe318" stroke="#dfe318" stroke-width="0.3"/>
<path d="M496.74 228.45L508.96 231.03L502.21 221.66Z" fill="#d8e219" stroke="#d8e219" stroke-width="0.3"/>
<path d="M364.45 325.18L377.28 340.04L371.84 320.08Z" fill="#46327e" stroke="#46327e" stroke-width="0.3"/>
<path d="M514.81 224.69L527.74 227.73L520.59 218.26Z" fill="#e7e419" stroke="#e7e419" stroke-width="0.3"/>
<path d="M469.97 250.55L475.02 241.97L462.82 244.76Z" fill="#73d056" stroke="#73d056" stroke-width="0.3"/>
<path d="M491.19 235.59L496.74 228.45L485 226.09Z" fill="#c5e021" stroke="#c5e021" stroke-width="0.3"/>
<path d="M527.74 227.73L533.69 221.65L520.59 218.26Z" fill="#eae51a" stroke="#eae51a" stroke-width="0.3"/>
<path d="M480.03 233.79L491.19 235.59L485 226.09Z" fill="#b8de29" stroke="#b8de29" stroke-width="0.3"/>
<path d="M448.04 274.56L453 264.45L432.35 289.35Z" fill="#1f9a8a" stroke="#1f9a8a" stroke-width="0.3"/>
<path d="M377.28 340.04L384.41 330L371.84 320.08Z" fill="#472a7a" stroke="#472a7a" stroke-width="0.3"/>
<path d="M457.93 254.44L469.97 250.55L462.82 244.76Z" fill="#5ac864" stroke="#5ac864" stroke-width="0.3"/>
<path d="M426 302.92L448.04 274.56L432.35 289.35Z" fill="#26818e" stroke="#26818e" stroke-width="0.3"/>
<path d="M384.41 330L396.84 333.18L391.48 321.13Z" fill="#472c7a" stroke="#472c7a" stroke-width="0.3"/>
<path d="M419.58 314.51L426 302.92L410.78 313.73Z" fill="#3a548c" stroke="#3a548c" stroke-width="0.3"/>
<path d="M396.84 333.18L403.85 323.33L391.48 321.13Z" fill="#46307e" stroke="#46307e" stroke-width="0.3"/>
<path d="M403.85 323.33L419.58 314.51L410.78 313.73Z" fill="#404588" stroke="#404588" stroke-width="0.3"/>
<path d="M475.02 241.97L480.03 233.79L467.69 235.47Z" fill="#90d743" stroke="#90d743" stroke-width="0.3"/>
<path d="M453 264.45L457.93 254.44L438.64 275.49Z" fill="#25ab82" stroke="#25ab82" stroke-width="0.3"/>
<path d="M502.21 221.66L514.81 224.69L507.62 214.96Z" fill="#e5e419" stroke="#e5e419" stroke-width="0.3"/>
<path d="M462.82 244.76L475.02 241.97L467.69 235.47Z" fill="#7ad151" stroke="#7ad151" stroke-width="0.3"/>
<path d="M496.74 228.45L502.21 221.66L489.91 218.87Z" fill="#d8e219" stroke="#d8e219" stroke-width="0.3"/>
<path d="M432.35 289.35L453 264.45L438.64 275.49Z" fill="#1f948c" stroke="#1f948c" stroke-width="0.3"/>
<path d="M514.81 224.69L520.59 218.26L507.62 214.96Z" fill="#eae51a" stroke="#eae51a" stroke-width="0.3"/>
<path d="M485 226.09L496.74 228.45L489.91 218.87Z" fill="#cde11d" stroke="#cde11d" stroke-width="0.3"/>
<path d="M371.84 320.08L384.41 330L379.03 312.55Z" fill="#453781" stroke="#453781" stroke-width="0.3"/>
<path d="M480.03 233.79L485 226.09L472.51 226.31Z" fill="#b0dd2f" stroke="#b0dd2f" stroke-width="0.3"/>
<path d="M426 302.92L432.35 289.35L417.59 302.32Z" fill="#31678e" stroke="#31678e" stroke-width="0.3"/>
<path d="M457.93 254.44L462.82 244.76L444.89 261.73Z" fill="#3bbb75" stroke="#3bbb75" stroke-width="0.3"/>
<path d="M384.41 330L391.48 321.13L379.03 312.55Z" fill="#46337f" stroke="#46337f" stroke-width="0.3"/>
<path d="M438.64 275.49L457.93 254.44L444.89 261.73Z" fill="#22a785" stroke="#22a785" stroke-width="0.3"/>
<path d="M410.78 313.73L426 302.92L417.59 302.32Z" fill="#3a548c" stroke="#3a548c" stroke-width="0.3"/>
<path d="M467.69 235.47L480.03 233.79L472.51 226.31Z" fill="#9bd93c" stroke="#9bd93c" stroke-width="0.3"/>
<path d="M391.48 321.13L403.85 323.33L398.5 313.66Z" fill="#463480" stroke="#463480" stroke-width="0.3"/>
<path d="M403.85 323.33L410.78 313.73L398.5 313.66Z" fill="#443a83" stroke="#443a83" stroke-width="0.3"/>
<path d="M502.21 221.66L507.62 214.96L494.78 212.09Z" fill="#e7e419" stroke="#e7e419" stroke-width="0.3"/>
<path d="M489.91 218.87L502.21 221.66L494.78 212.09Z" fill="#dfe318" stroke="#dfe318" stroke-width="0.3"/>
<path d="M432.35 289.35L438.64 275.49L424.29 288.4Z" fill="#287c8e" stroke="#287c8e" stroke-width="0.3"/>
<path d="M462.82 244.76L467.69 235.47L451.1 249.07Z" fill="#5ac864" stroke="#5ac864" stroke-width="0.3"/>
<path d="M485 226.09L489.91 218.87L477.31 217.34Z" fill="#cae11f" stroke="#cae11f" stroke-width="0.3"/>
<path d="M444.89 261.73L462.82 244.76L451.1 249.07Z" fill="#37b878" stroke="#37b878" stroke-width="0.3"/>
<path d="M472.51 226.31L485 226.09L477.31 217.34Z" fill="#bade28" stroke="#bade28" stroke-width="0.3"/>
<path d="M417.59 302.32L432.35 289.35L424.29 288.4Z" fill="#31688e" stroke="#31688e" stroke-width="0.3"/>
<path d="M379.03 312.55L391.48 321.13L386.16 306.75Z" fill="#443b84" stroke="#443b84" stroke-width="0.3"/>
<path d="M438.64 275.49L444.89 261.73L430.92 273.21Z" fill="#20928c" stroke="#20928c" stroke-width="0.3"/>
<path d="M467.69 235.47L472.51 226.31L457.26 236.21Z" fill="#81d34d" stroke="#81d34d" stroke-width="0.3"/>
<path d="M391.48 321.13L398.5 313.66L386.16 306.75Z" fill="#453882" stroke="#453882" stroke-width="0.3"/>
<path d="M410.78 313.73L417.59 302.32L405.38 304.6Z" fill="#3f4788" stroke="#3f4788" stroke-width="0.3"/>
<path d="M451.1 249.07L467.69 235.47L457.26 236.21Z" fill="#5ac864" stroke="#5ac864" stroke-width="0.3"/>
<path d="M398.5 313.66L410.78 313.73L405.38 304.6Z" fill="#433e85" stroke="#433e85" stroke-width="0.3"/>
<path d="M489.91 218.87L494.78 212.09L482.06 209.51Z" fill="#e2e418" stroke="#e2e418" stroke-width="0.3"/>
<path d="M477.31 217.34L489.91 218.87L482.06 209.51Z" fill="#d8e219" stroke="#d8e219" stroke-width="0.3"/>
<path d="M424.29 288.4L438.64 275.49L430.92 273.21Z" fill="#277f8e" stroke="#277f8e" stroke-width="0.3"/>
<path d="M472.51 226.31L477.31 217.34L463.39 220.26Z" fill="#b2dd2d" stroke="#b2dd2d" stroke-width="0.3"/>
<path d="M444.89 261.73L451.1 249.07L437.52 259.05Z" fill="#22a785" stroke="#22a785" stroke-width="0.3"/>
<path d="M457.26 236.21L472.51 226.31L463.39 220.26Z" fill="#8bd646" stroke="#8bd646" stroke-width="0.3"/>
<path d="M417.59 302.32L424.29 288.4L412.1 291.87Z" fill="#365c8d" stroke="#365c8d" stroke-width="0.3"/>
<path d="M430.92 273.21L444.89 261.73L437.52 259.05Z" fill="#1f958b" stroke="#1f958b" stroke-width="0.3"/>
<path d="M386.16 306.75L398.5 313.66L393.12 298.66Z" fill="#423f85" stroke="#423f85" stroke-width="0.3"/>
<path d="M405.38 304.6L417.59 302.32L412.1 291.87Z" fill="#3d4e8a" stroke="#3d4e8a" stroke-width="0.3"/>
<path d="M398.5 313.66L405.38 304.6L393.12 298.66Z" fill="#423f85" stroke="#423f85" stroke-width="0.3"/>
<path d="M477.31 217.34L482.06 209.51L469.46 208.5Z" fill="#d8e219" stroke="#d8e219" stroke-width="0.3"/>
<path d="M463.39 220.26L477.31 217.34L469.46 208.5Z" fill="#c2df23" stroke="#c2df23" stroke-width="0.3"/>
<path d="M451.1 249.07L457.26 236.21L444.07 245.77Z" fill="#3aba76" stroke="#3aba76" stroke-width="0.3"/>
<path d="M424.29 288.4L430.92 273.21L418.75 278.74Z" fill="#2c728e" stroke="#2c728e" stroke-width="0.3"/>
<path d="M437.52 259.05L451.1 249.07L444.07 245.77Z" fill="#24aa83" stroke="#24aa83" stroke-width="0.3"/>
<path d="M457.26 236.21L463.39 220.26L450.55 226.88Z" fill="#75d054" stroke="#75d054" stroke-width="0.3"/>
<path d="M412.1 291.87L424.29 288.4L418.75 278.74Z" fill="#32648e" stroke="#32648e" stroke-width="0.3"/>
<path d="M393.12 298.66L405.38 304.6L399.97 289.96Z" fill="#3f4889" stroke="#3f4889" stroke-width="0.3"/>
<path d="M405.38 304.6L412.1 291.87L399.97 289.96Z" fill="#3d4e8a" stroke="#3d4e8a" stroke-width="0.3"/>
<path d="M444.07 245.77L457.26 236.21L450.55 226.88Z" fill="#4ac16d" stroke="#4ac16d" stroke-width="0.3"/>
<path d="M430.92 273.21L437.52 259.05L425.35 265.47Z" fill="#23898e" stroke="#23898e" stroke-width="0.3"/>
<path d="M463.39 220.26L469.46 208.5L457.01 210.49Z" fill="#bade28" stroke="#bade28" stroke-width="0.3"/>
<path d="M418.75 278.74L430.92 273.21L425.35 265.47Z" fill="#297a8e" stroke="#297a8e" stroke-width="0.3"/>
<path d="M450.55 226.88L463.39 220.26L457.01 210.49Z" fill="#93d741" stroke="#93d741" stroke-width="0.3"/>
<path d="M437.52 259.05L444.07 245.77L431.87 250.88Z" fill="#1f9f88" stroke="#1f9f88" stroke-width="0.3"/>
<path d="M412.1 291.87L418.75 278.74L406.71 280.26Z" fill="#34608d" stroke="#34608d" stroke-width="0.3"/>
<path d="M399.97 289.96L412.1 291.87L406.71 280.26Z" fill="#39568c" stroke="#39568c" stroke-width="0.3"/>
<path d="M425.35 265.47L437.52 259.05L431.87 250.88Z" fill="#21908d" stroke="#21908d" stroke-width="0.3"/>
<path d="M444.07 245.77L450.55 226.88L438.34 235.12Z" fill="#38b977" stroke="#38b977" stroke-width="0.3"/>
<path d="M450.55 226.88L457.01 210.49L444.76 216.49Z" fill="#81d34d" stroke="#81d34d" stroke-width="0.3"/>
<path d="M431.87 250.88L444.07 245.77L438.34 235.12Z" fill="#22a785" stroke="#22a785" stroke-width="0.3"/>
<path d="M418.75 278.74L425.35 265.47L413.38 270.98Z" fill="#2d718e" stroke="#2d718e" stroke-width="0.3"/>
<path d="M406.71 280.26L418.75 278.74L413.38 270.98Z" fill="#32658e" stroke="#32658e" stroke-width="0.3"/>
<path d="M438.34 235.12L450.55 226.88L444.76 216.49Z" fill="#52c569" stroke="#52c569" stroke-width="0.3"/>
<path d="M425.35 265.47L431.87 250.88L419.86 254.58Z" fill="#23898e" stroke="#23898e" stroke-width="0.3"/>
<path d="M413.38 270.98L425.35 265.47L419.86 254.58Z" fill="#29798e" stroke="#29798e" stroke-width="0.3"/>
<path d="M431.87 250.88L438.34 235.12L426.42 247.12Z" fill="#1e9c89" stroke="#1e9c89" stroke-width="0.3"/>
<path d="M419.86 254.58L431.87 250.88L426.42 247.12Z" fill="#228d8d" stroke="#228d8d" stroke-width="0.3"/>
<path d="M438.34 235.12L444.76 216.49L432.79 229.55Z" fill="#3aba76" stroke="#3aba76" stroke-width="0.3"/>
<path d="M426.42 247.12L438.34 235.12L432.79 229.55Z" fill="#1fa287" stroke="#1fa287" stroke-width="0.3"/>
</g>
<path d="M366.46 327.51L373.36 321.27L384.94 316.62L394.6 311.48L400.65 310.83L401.78 313.68L405.5 321.05L405.21 322.57L405.67 328.93L407.38 334.27L407.38 334.77M413.4 270.95L413.41 270.97L415.81 279.11L417.66 280.9L422.86 288.8L423.61 289.81L425 295.8L426.63 301.58L426.74 301.97L426.23 306.09L426.57 309.6L430.83 311.53M427.53 244.08L428.09 245.44L427.25 252.3L429.95 255.18L433.35 261.25L434.94 264.59L436.29 268.8L438.67 275.42L438.69 275.44L440.48 279.54L441.35 283.17L441.76 286.43L442.11 286.94L443.21 292.83L444.85 299.53L444.8 301.27M436.56 225.43L439.46 231.88L440.82 233.45L446.18 239.63L448.81 242.34L451 249.15L451.03 249.23L453.18 253.88L454.84 257.81L455.37 259.63L456.62 262.98L458.11 269.81L458.15 271.79L457.92 278.37L458.57 286.52L459.39 290.69L458.04 300.76M450.76 213.55L454.33 217.3L459.36 222.34L461.72 224.6L468.25 229.08L469.64 231.76L472.43 234.83L475.81 240.68L476.52 242.13L478.63 250.95L478.86 252.64L483.13 261.82L483.62 263.62L487.46 272.39L488.95 274.57L502.24 278.76" stroke="#0a1a20" stroke-opacity="0.5" stroke-width="0.7" fill="none" stroke-linejoin="round"/>
<text x="370.4" y="361.7" font-size="5.94" text-anchor="middle" textLength="8.91" lengthAdjust="spacingAndGlyphs" fill="#2e2e2e">0.2</text>
<text x="395.4" y="370.4" font-size="5.94" text-anchor="middle" textLength="8.91" lengthAdjust="spacingAndGlyphs" fill="#2e2e2e">0.4</text>
<text x="420.8" y="379" font-size="5.94" text-anchor="middle" textLength="8.91" lengthAdjust="spacingAndGlyphs" fill="#2e2e2e">0.6</text>
<text x="447.1" y="387.5" font-size="5.94" text-anchor="middle" textLength="8.91" lengthAdjust="spacingAndGlyphs" fill="#2e2e2e">0.8</text>
<text x="474.1" y="396" font-size="5.94" text-anchor="middle" textLength="8.91" lengthAdjust="spacingAndGlyphs" fill="#2e2e2e">1.0</text>
<text x="493.7" y="393.2" font-size="5.94" text-anchor="middle" textLength="8.91" lengthAdjust="spacingAndGlyphs" fill="#2e2e2e">0.0</text>
<text x="506.5" y="379.6" font-size="5.94" text-anchor="middle" textLength="8.91" lengthAdjust="spacingAndGlyphs" fill="#2e2e2e">0.2</text>
<text x="519.3" y="366.7" font-size="5.94" text-anchor="middle" textLength="8.91" lengthAdjust="spacingAndGlyphs" fill="#2e2e2e">0.4</text>
<text x="530.9" y="354.1" font-size="5.94" text-anchor="middle" textLength="8.91" lengthAdjust="spacingAndGlyphs" fill="#2e2e2e">0.6</text>
<text x="543" y="341" font-size="5.94" text-anchor="middle" textLength="8.91" lengthAdjust="spacingAndGlyphs" fill="#2e2e2e">0.8</text>
<text x="555.1" y="329.9" font-size="5.94" text-anchor="middle" textLength="8.91" lengthAdjust="spacingAndGlyphs" fill="#2e2e2e">1.0</text>
<text x="556.8" y="318.9" font-size="5.94" textLength="8.91" lengthAdjust="spacingAndGlyphs" fill="#2e2e2e">0.4</text>
<text x="557.37" y="303.7" font-size="5.94" textLength="8.91" lengthAdjust="spacingAndGlyphs" fill="#2e2e2e">0.5</text>
<text x="557.94" y="288.6" font-size="5.94" textLength="8.91" lengthAdjust="spacingAndGlyphs" fill="#2e2e2e">0.6</text>
<text x="558.51" y="273.4" font-size="5.94" textLength="8.91" lengthAdjust="spacingAndGlyphs" fill="#2e2e2e">0.7</text>
<text x="559.1" y="257.7" font-size="5.94" textLength="8.91" lengthAdjust="spacingAndGlyphs" fill="#2e2e2e">0.8</text>
<text x="559.71" y="241.6" font-size="5.94" textLength="8.91" lengthAdjust="spacingAndGlyphs" fill="#2e2e2e">0.9</text>
<text x="560.3" y="225.8" font-size="5.94" textLength="8.91" lengthAdjust="spacingAndGlyphs" fill="#2e2e2e">1.0</text>
<text x="411.2" y="381.7" font-size="7.19" font-weight="bold" text-anchor="middle" textLength="72.12" lengthAdjust="spacingAndGlyphs" transform="rotate(17.6 411.2 381.7)" fill="#1c1c1c">% side information</text>
<text x="531.8" y="362.6" font-size="7.19" font-weight="bold" text-anchor="middle" textLength="59.13" lengthAdjust="spacingAndGlyphs" transform="rotate(-43.3 531.8 362.6)" fill="#1c1c1c">% observability</text>
<text x="574.5" y="267.5" font-size="7.23" font-weight="bold" text-anchor="middle" textLength="120.5" lengthAdjust="spacingAndGlyphs" transform="rotate(-88 574.5 267.5)" fill="#1c1c1c">Normalized Mutual Information</text>
<text x="352" y="198.42" font-size="9.41" font-weight="bold" textLength="10.32" lengthAdjust="spacingAndGlyphs" fill="#1c1c1c">(e)</text>
<defs><linearGradient id="cbar" x1="0" y1="0" x2="0" y2="1"><stop offset="0" stop-color="#fde725"/><stop offset="0.1" stop-color="#bddf26"/><stop offset="0.2" stop-color="#7ad151"/><stop offset="0.3" stop-color="#44bf70"/><stop offset="0.4" stop-color="#22a884"/><stop offset="0.5" stop-color="#21918c"/><stop offset="0.6" stop-color="#2a788e"/><stop offset="0.7" stop-color="#355f8d"/><stop offset="0.8" stop-color="#414487"/><stop offset="0.9" stop-color="#482475"/><stop offset="1" stop-color="#440154"/></linearGradient></defs>
<rect x="593.1" y="228.2" width="5.9" height="116.6" fill="url(#cbar)" stroke="#444" stroke-width="0.3"/>
<path d="M599 344.8h1.2" stroke="#444" stroke-width="0.3"/>
<text x="601.2" y="346" font-size="3.6" textLength="5.41" lengthAdjust="spacingAndGlyphs" fill="#444">0.4</text>
<path d="M599 325.37h1.2" stroke="#444" stroke-width="0.3"/>
<text x="601.2" y="326.57" font-size="3.6" textLength="5.41" lengthAdjust="spacingAndGlyphs" fill="#444">0.5</text>
<path d="M599 305.93h1.2" stroke="#444" stroke-width="0.3"/>
<text x="601.2" y="307.13" font-size="3.6" textLength="5.41" lengthAdjust="spacingAndGlyphs" fill="#444">0.6</text>
<path d="M599 286.5h1.2" stroke="#444" stroke-width="0.3"/>
<text x="601.2" y="287.7" font-size="3.6" textLength="5.41" lengthAdjust="spacingAndGlyphs" fill="#444">0.7</text>
<path d="M599 267.07h1.2" stroke="#444" stroke-width="0.3"/>
<text x="601.2" y="268.27" font-size="3.6" textLength="5.41" lengthAdjust="spacingAndGlyphs" fill="#444">0.8</text>
<path d="M599 247.63h1.2" stroke="#444" stroke-width="0.3"/>
<text x="601.2" y="248.83" font-size="3.6" textLength="5.41" lengthAdjust="spacingAndGlyphs" fill="#444">0.9</text>
<path d="M599 228.2h1.2" stroke="#444" stroke-width="0.3"/>
<text x="601.2" y="229.4" font-size="3.6" textLength="5.41" lengthAdjust="spacingAndGlyphs" fill="#444">1.0</text>
</svg></body></html>
